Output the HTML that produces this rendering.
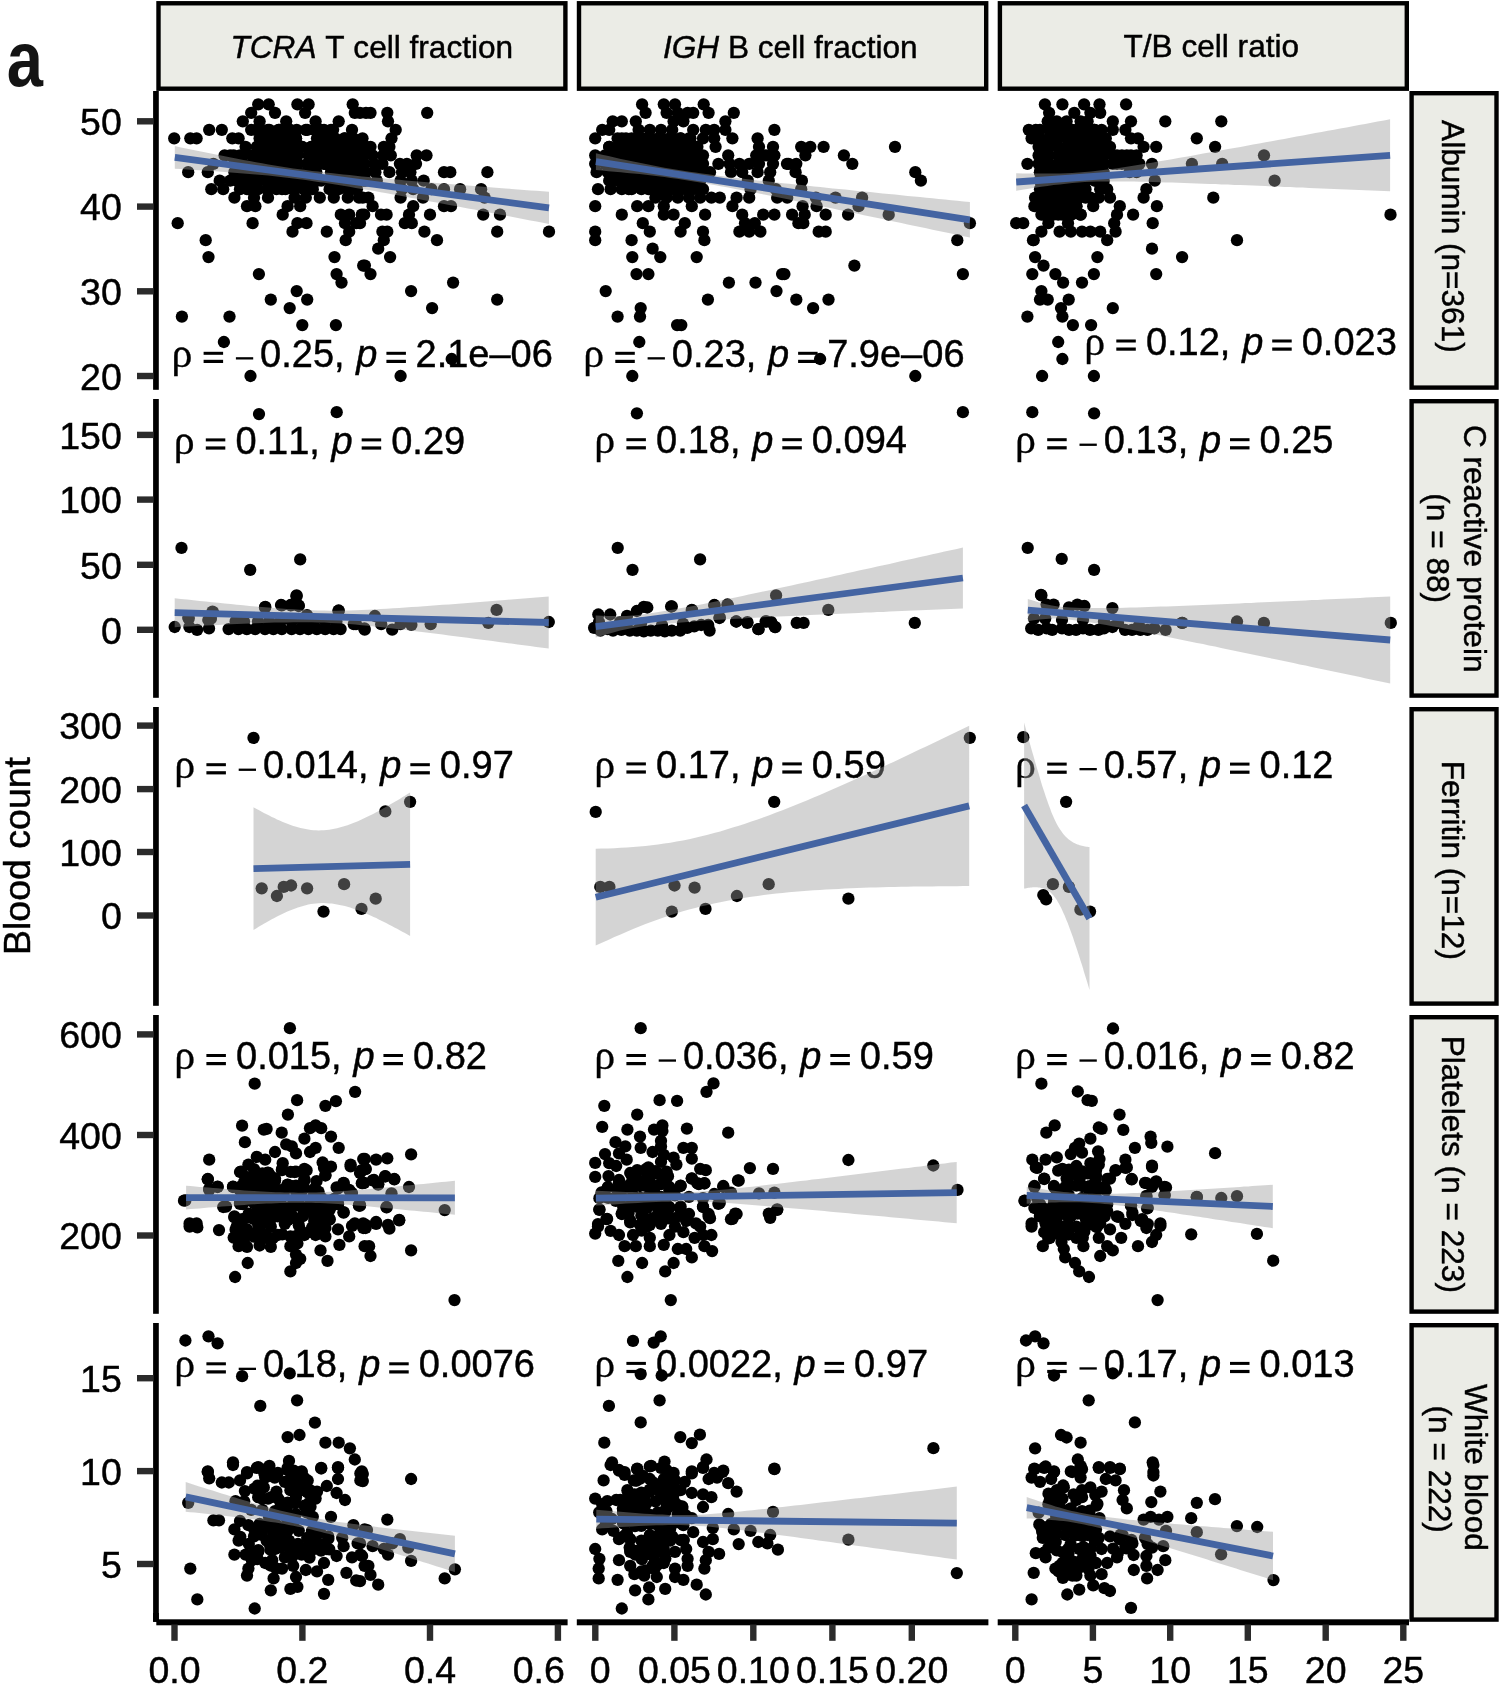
<!DOCTYPE html>
<html><head><meta charset="utf-8"><style>
html,body{margin:0;padding:0;background:#fff;overflow:hidden;}
svg{display:block;font-family:"Liberation Sans", sans-serif;will-change:transform;}
text{fill:#000;stroke:#000;stroke-width:0.45px;font-kerning:none;font-feature-settings:"kern" 0;}
</style></head><body>
<svg width="1500" height="1688" viewBox="0 0 1500 1688">
<rect width="1500" height="1688" fill="#fff"/>
<rect x="158.50" y="3.27" width="406.90" height="85.43" fill="#ebece6" stroke="#000" stroke-width="4.4"/>
<rect x="579.00" y="3.27" width="407.20" height="85.43" fill="#ebece6" stroke="#000" stroke-width="4.4"/>
<rect x="999.90" y="3.27" width="406.90" height="85.43" fill="#ebece6" stroke="#000" stroke-width="4.4"/>
<rect x="1411.60" y="93.20" width="84.90" height="294.40" fill="#ebece6" stroke="#000" stroke-width="4.4"/>
<rect x="1411.60" y="401.20" width="84.90" height="294.40" fill="#ebece6" stroke="#000" stroke-width="4.4"/>
<rect x="1411.60" y="709.20" width="84.90" height="294.40" fill="#ebece6" stroke="#000" stroke-width="4.4"/>
<rect x="1411.60" y="1017.20" width="84.90" height="294.40" fill="#ebece6" stroke="#000" stroke-width="4.4"/>
<rect x="1411.60" y="1325.20" width="84.90" height="294.40" fill="#ebece6" stroke="#000" stroke-width="4.4"/>
<g fill="#000"><circle cx="258.2" cy="104.3" r="6.15"/><circle cx="268.7" cy="104.3" r="6.15"/><circle cx="297.4" cy="104.3" r="6.15"/><circle cx="308.6" cy="104.3" r="6.15"/><circle cx="352.7" cy="104.3" r="6.15"/><circle cx="251.2" cy="112.8" r="6.15"/><circle cx="275.0" cy="112.8" r="6.15"/><circle cx="305.1" cy="112.8" r="6.15"/><circle cx="354.8" cy="112.8" r="6.15"/><circle cx="366.0" cy="112.8" r="6.15"/><circle cx="242.8" cy="121.3" r="6.15"/><circle cx="259.6" cy="121.3" r="6.15"/><circle cx="286.2" cy="121.3" r="6.15"/><circle cx="315.6" cy="121.3" r="6.15"/><circle cx="338.7" cy="121.3" r="6.15"/><circle cx="209.2" cy="129.8" r="6.15"/><circle cx="221.8" cy="129.8" r="6.15"/><circle cx="256.1" cy="129.8" r="6.15"/><circle cx="268.0" cy="129.8" r="6.15"/><circle cx="279.2" cy="129.8" r="6.15"/><circle cx="290.4" cy="129.8" r="6.15"/><circle cx="307.2" cy="129.8" r="6.15"/><circle cx="321.2" cy="129.8" r="6.15"/><circle cx="331.0" cy="129.8" r="6.15"/><circle cx="352.0" cy="129.8" r="6.15"/><circle cx="174.2" cy="138.3" r="6.15"/><circle cx="190.3" cy="138.3" r="6.15"/><circle cx="196.6" cy="138.3" r="6.15"/><circle cx="232.3" cy="138.3" r="6.15"/><circle cx="238.6" cy="138.3" r="6.15"/><circle cx="265.2" cy="138.3" r="6.15"/><circle cx="275.0" cy="138.3" r="6.15"/><circle cx="284.8" cy="138.3" r="6.15"/><circle cx="296.0" cy="138.3" r="6.15"/><circle cx="324.0" cy="138.3" r="6.15"/><circle cx="345.0" cy="138.3" r="6.15"/><circle cx="245.6" cy="146.8" r="6.15"/><circle cx="262.4" cy="146.8" r="6.15"/><circle cx="272.2" cy="146.8" r="6.15"/><circle cx="282.0" cy="146.8" r="6.15"/><circle cx="291.8" cy="146.8" r="6.15"/><circle cx="301.6" cy="146.8" r="6.15"/><circle cx="311.4" cy="146.8" r="6.15"/><circle cx="329.6" cy="146.8" r="6.15"/><circle cx="353.4" cy="146.8" r="6.15"/><circle cx="363.2" cy="146.8" r="6.15"/><circle cx="230.2" cy="155.3" r="6.15"/><circle cx="240.0" cy="155.3" r="6.15"/><circle cx="265.2" cy="155.3" r="6.15"/><circle cx="275.0" cy="155.3" r="6.15"/><circle cx="284.8" cy="155.3" r="6.15"/><circle cx="294.6" cy="155.3" r="6.15"/><circle cx="314.2" cy="155.3" r="6.15"/><circle cx="340.8" cy="155.3" r="6.15"/><circle cx="360.4" cy="155.3" r="6.15"/><circle cx="213.4" cy="163.8" r="6.15"/><circle cx="254.0" cy="163.8" r="6.15"/><circle cx="268.0" cy="163.8" r="6.15"/><circle cx="277.8" cy="163.8" r="6.15"/><circle cx="287.6" cy="163.8" r="6.15"/><circle cx="310.0" cy="163.8" r="6.15"/><circle cx="324.0" cy="163.8" r="6.15"/><circle cx="335.2" cy="163.8" r="6.15"/><circle cx="349.2" cy="163.8" r="6.15"/><circle cx="360.4" cy="163.8" r="6.15"/><circle cx="188.2" cy="172.2" r="6.15"/><circle cx="207.8" cy="172.2" r="6.15"/><circle cx="240.0" cy="172.2" r="6.15"/><circle cx="248.4" cy="172.2" r="6.15"/><circle cx="261.0" cy="172.2" r="6.15"/><circle cx="282.0" cy="172.2" r="6.15"/><circle cx="296.0" cy="172.2" r="6.15"/><circle cx="331.0" cy="172.2" r="6.15"/><circle cx="343.6" cy="172.2" r="6.15"/><circle cx="354.8" cy="172.2" r="6.15"/><circle cx="363.2" cy="172.2" r="6.15"/><circle cx="219.7" cy="180.7" r="6.15"/><circle cx="236.5" cy="180.7" r="6.15"/><circle cx="251.2" cy="180.7" r="6.15"/><circle cx="266.6" cy="180.7" r="6.15"/><circle cx="276.4" cy="180.7" r="6.15"/><circle cx="286.2" cy="180.7" r="6.15"/><circle cx="296.0" cy="180.7" r="6.15"/><circle cx="308.6" cy="180.7" r="6.15"/><circle cx="317.0" cy="180.7" r="6.15"/><circle cx="335.2" cy="180.7" r="6.15"/><circle cx="352.0" cy="180.7" r="6.15"/><circle cx="363.2" cy="180.7" r="6.15"/><circle cx="211.3" cy="189.2" r="6.15"/><circle cx="223.2" cy="189.2" r="6.15"/><circle cx="247.0" cy="189.2" r="6.15"/><circle cx="268.0" cy="189.2" r="6.15"/><circle cx="282.0" cy="189.2" r="6.15"/><circle cx="293.2" cy="189.2" r="6.15"/><circle cx="307.2" cy="189.2" r="6.15"/><circle cx="336.6" cy="189.2" r="6.15"/><circle cx="352.0" cy="189.2" r="6.15"/><circle cx="234.4" cy="197.7" r="6.15"/><circle cx="254.0" cy="197.7" r="6.15"/><circle cx="268.0" cy="197.7" r="6.15"/><circle cx="294.6" cy="197.7" r="6.15"/><circle cx="305.8" cy="197.7" r="6.15"/><circle cx="319.8" cy="197.7" r="6.15"/><circle cx="333.8" cy="197.7" r="6.15"/><circle cx="347.8" cy="197.7" r="6.15"/><circle cx="359.0" cy="197.7" r="6.15"/><circle cx="247.0" cy="206.2" r="6.15"/><circle cx="255.4" cy="206.2" r="6.15"/><circle cx="287.6" cy="206.2" r="6.15"/><circle cx="300.2" cy="206.2" r="6.15"/><circle cx="282.7" cy="214.7" r="6.15"/><circle cx="340.8" cy="214.7" r="6.15"/><circle cx="349.2" cy="214.7" r="6.15"/><circle cx="361.8" cy="214.7" r="6.15"/><circle cx="177.7" cy="223.2" r="6.15"/><circle cx="252.6" cy="223.2" r="6.15"/><circle cx="297.4" cy="223.2" r="6.15"/><circle cx="306.5" cy="223.2" r="6.15"/><circle cx="345.0" cy="223.2" r="6.15"/><circle cx="356.2" cy="223.2" r="6.15"/><circle cx="292.5" cy="231.7" r="6.15"/><circle cx="326.8" cy="231.7" r="6.15"/><circle cx="349.2" cy="231.7" r="6.15"/><circle cx="205.7" cy="240.2" r="6.15"/><circle cx="345.7" cy="240.2" r="6.15"/><circle cx="208.5" cy="257.1" r="6.15"/><circle cx="334.5" cy="257.1" r="6.15"/><circle cx="363.2" cy="265.6" r="6.15"/><circle cx="258.9" cy="274.1" r="6.15"/><circle cx="336.6" cy="274.1" r="6.15"/><circle cx="341.5" cy="282.6" r="6.15"/><circle cx="296.7" cy="291.1" r="6.15"/><circle cx="270.8" cy="299.6" r="6.15"/><circle cx="307.2" cy="299.6" r="6.15"/><circle cx="289.7" cy="308.1" r="6.15"/><circle cx="181.9" cy="316.6" r="6.15"/><circle cx="229.5" cy="316.6" r="6.15"/><circle cx="302.3" cy="325.1" r="6.15"/><circle cx="335.9" cy="325.1" r="6.15"/><circle cx="223.9" cy="342.0" r="6.15"/><circle cx="250.5" cy="376.0" r="6.15"/><circle cx="360.0" cy="112.8" r="6.15"/><circle cx="370.5" cy="112.8" r="6.15"/><circle cx="387.3" cy="112.8" r="6.15"/><circle cx="427.2" cy="112.8" r="6.15"/><circle cx="388.0" cy="121.3" r="6.15"/><circle cx="395.7" cy="129.8" r="6.15"/><circle cx="391.5" cy="138.3" r="6.15"/><circle cx="364.2" cy="146.8" r="6.15"/><circle cx="370.5" cy="146.8" r="6.15"/><circle cx="383.8" cy="146.8" r="6.15"/><circle cx="389.4" cy="146.8" r="6.15"/><circle cx="362.8" cy="155.3" r="6.15"/><circle cx="372.6" cy="155.3" r="6.15"/><circle cx="383.1" cy="155.3" r="6.15"/><circle cx="390.8" cy="155.3" r="6.15"/><circle cx="416.7" cy="155.3" r="6.15"/><circle cx="426.5" cy="155.3" r="6.15"/><circle cx="364.2" cy="163.8" r="6.15"/><circle cx="374.0" cy="163.8" r="6.15"/><circle cx="382.4" cy="163.8" r="6.15"/><circle cx="399.9" cy="163.8" r="6.15"/><circle cx="406.9" cy="163.8" r="6.15"/><circle cx="416.0" cy="163.8" r="6.15"/><circle cx="365.6" cy="172.2" r="6.15"/><circle cx="375.4" cy="172.2" r="6.15"/><circle cx="389.4" cy="172.2" r="6.15"/><circle cx="402.0" cy="172.2" r="6.15"/><circle cx="410.4" cy="172.2" r="6.15"/><circle cx="444.0" cy="172.2" r="6.15"/><circle cx="450.3" cy="172.2" r="6.15"/><circle cx="487.4" cy="172.2" r="6.15"/><circle cx="365.6" cy="180.7" r="6.15"/><circle cx="376.8" cy="180.7" r="6.15"/><circle cx="400.6" cy="180.7" r="6.15"/><circle cx="411.8" cy="180.7" r="6.15"/><circle cx="423.7" cy="180.7" r="6.15"/><circle cx="402.0" cy="189.2" r="6.15"/><circle cx="413.2" cy="189.2" r="6.15"/><circle cx="431.4" cy="189.2" r="6.15"/><circle cx="444.0" cy="189.2" r="6.15"/><circle cx="460.1" cy="189.2" r="6.15"/><circle cx="481.1" cy="189.2" r="6.15"/><circle cx="362.8" cy="197.7" r="6.15"/><circle cx="368.4" cy="197.7" r="6.15"/><circle cx="400.6" cy="197.7" r="6.15"/><circle cx="423.0" cy="197.7" r="6.15"/><circle cx="484.6" cy="197.7" r="6.15"/><circle cx="372.6" cy="206.2" r="6.15"/><circle cx="413.2" cy="206.2" r="6.15"/><circle cx="444.0" cy="206.2" r="6.15"/><circle cx="451.0" cy="206.2" r="6.15"/><circle cx="364.2" cy="214.7" r="6.15"/><circle cx="381.0" cy="214.7" r="6.15"/><circle cx="386.6" cy="214.7" r="6.15"/><circle cx="409.0" cy="214.7" r="6.15"/><circle cx="430.0" cy="214.7" r="6.15"/><circle cx="483.2" cy="214.7" r="6.15"/><circle cx="500.0" cy="214.7" r="6.15"/><circle cx="360.0" cy="223.2" r="6.15"/><circle cx="404.8" cy="223.2" r="6.15"/><circle cx="411.8" cy="223.2" r="6.15"/><circle cx="382.4" cy="231.7" r="6.15"/><circle cx="387.3" cy="231.7" r="6.15"/><circle cx="424.4" cy="231.7" r="6.15"/><circle cx="497.2" cy="231.7" r="6.15"/><circle cx="549.0" cy="231.7" r="6.15"/><circle cx="383.8" cy="240.2" r="6.15"/><circle cx="437.0" cy="240.2" r="6.15"/><circle cx="378.2" cy="248.7" r="6.15"/><circle cx="390.1" cy="257.1" r="6.15"/><circle cx="364.9" cy="265.6" r="6.15"/><circle cx="370.5" cy="274.1" r="6.15"/><circle cx="453.1" cy="282.6" r="6.15"/><circle cx="411.1" cy="291.1" r="6.15"/><circle cx="497.2" cy="299.6" r="6.15"/><circle cx="432.1" cy="308.1" r="6.15"/><circle cx="451.7" cy="359.0" r="6.15"/><circle cx="400.6" cy="376.0" r="6.15"/><circle cx="251.2" cy="129.8" r="6.15"/><circle cx="260.3" cy="129.8" r="6.15"/><circle cx="269.4" cy="129.8" r="6.15"/><circle cx="278.5" cy="129.8" r="6.15"/><circle cx="287.6" cy="129.8" r="6.15"/><circle cx="296.7" cy="129.8" r="6.15"/><circle cx="305.8" cy="129.8" r="6.15"/><circle cx="314.9" cy="129.8" r="6.15"/><circle cx="324.0" cy="129.8" r="6.15"/><circle cx="333.1" cy="129.8" r="6.15"/><circle cx="259.6" cy="138.3" r="6.15"/><circle cx="268.7" cy="138.3" r="6.15"/><circle cx="277.8" cy="138.3" r="6.15"/><circle cx="286.9" cy="138.3" r="6.15"/><circle cx="296.0" cy="138.3" r="6.15"/><circle cx="317.0" cy="138.3" r="6.15"/><circle cx="326.1" cy="138.3" r="6.15"/><circle cx="335.2" cy="138.3" r="6.15"/><circle cx="344.3" cy="138.3" r="6.15"/><circle cx="353.4" cy="138.3" r="6.15"/><circle cx="362.5" cy="138.3" r="6.15"/><circle cx="256.8" cy="146.8" r="6.15"/><circle cx="265.9" cy="146.8" r="6.15"/><circle cx="275.0" cy="146.8" r="6.15"/><circle cx="284.1" cy="146.8" r="6.15"/><circle cx="293.2" cy="146.8" r="6.15"/><circle cx="302.3" cy="146.8" r="6.15"/><circle cx="311.4" cy="146.8" r="6.15"/><circle cx="320.5" cy="146.8" r="6.15"/><circle cx="329.6" cy="146.8" r="6.15"/><circle cx="338.7" cy="146.8" r="6.15"/><circle cx="347.8" cy="146.8" r="6.15"/><circle cx="356.9" cy="146.8" r="6.15"/><circle cx="366.0" cy="146.8" r="6.15"/><circle cx="224.6" cy="155.3" r="6.15"/><circle cx="233.7" cy="155.3" r="6.15"/><circle cx="242.8" cy="155.3" r="6.15"/><circle cx="251.9" cy="155.3" r="6.15"/><circle cx="261.0" cy="155.3" r="6.15"/><circle cx="270.1" cy="155.3" r="6.15"/><circle cx="279.2" cy="155.3" r="6.15"/><circle cx="288.3" cy="155.3" r="6.15"/><circle cx="297.4" cy="155.3" r="6.15"/><circle cx="308.6" cy="155.3" r="6.15"/><circle cx="317.7" cy="155.3" r="6.15"/><circle cx="326.8" cy="155.3" r="6.15"/><circle cx="335.9" cy="155.3" r="6.15"/><circle cx="345.0" cy="155.3" r="6.15"/><circle cx="354.1" cy="155.3" r="6.15"/><circle cx="363.2" cy="155.3" r="6.15"/><circle cx="234.4" cy="163.8" r="6.15"/><circle cx="243.5" cy="163.8" r="6.15"/><circle cx="252.6" cy="163.8" r="6.15"/><circle cx="261.7" cy="163.8" r="6.15"/><circle cx="270.8" cy="163.8" r="6.15"/><circle cx="279.9" cy="163.8" r="6.15"/><circle cx="289.0" cy="163.8" r="6.15"/><circle cx="298.1" cy="163.8" r="6.15"/><circle cx="307.2" cy="163.8" r="6.15"/><circle cx="316.3" cy="163.8" r="6.15"/><circle cx="325.4" cy="163.8" r="6.15"/><circle cx="334.5" cy="163.8" r="6.15"/><circle cx="343.6" cy="163.8" r="6.15"/><circle cx="352.7" cy="163.8" r="6.15"/><circle cx="361.8" cy="163.8" r="6.15"/><circle cx="234.4" cy="172.2" r="6.15"/><circle cx="243.5" cy="172.2" r="6.15"/><circle cx="252.6" cy="172.2" r="6.15"/><circle cx="261.7" cy="172.2" r="6.15"/><circle cx="270.8" cy="172.2" r="6.15"/><circle cx="279.9" cy="172.2" r="6.15"/><circle cx="289.0" cy="172.2" r="6.15"/><circle cx="298.1" cy="172.2" r="6.15"/><circle cx="307.2" cy="172.2" r="6.15"/><circle cx="316.3" cy="172.2" r="6.15"/><circle cx="332.4" cy="172.2" r="6.15"/><circle cx="341.5" cy="172.2" r="6.15"/><circle cx="350.6" cy="172.2" r="6.15"/><circle cx="359.7" cy="172.2" r="6.15"/><circle cx="230.2" cy="180.7" r="6.15"/><circle cx="239.3" cy="180.7" r="6.15"/><circle cx="248.4" cy="180.7" r="6.15"/><circle cx="257.5" cy="180.7" r="6.15"/><circle cx="266.6" cy="180.7" r="6.15"/><circle cx="275.7" cy="180.7" r="6.15"/><circle cx="284.8" cy="180.7" r="6.15"/><circle cx="293.9" cy="180.7" r="6.15"/><circle cx="303.0" cy="180.7" r="6.15"/><circle cx="312.1" cy="180.7" r="6.15"/><circle cx="321.2" cy="180.7" r="6.15"/><circle cx="330.3" cy="180.7" r="6.15"/><circle cx="339.4" cy="180.7" r="6.15"/><circle cx="348.5" cy="180.7" r="6.15"/><circle cx="357.6" cy="180.7" r="6.15"/><circle cx="240.0" cy="189.2" r="6.15"/><circle cx="249.1" cy="189.2" r="6.15"/><circle cx="258.2" cy="189.2" r="6.15"/><circle cx="267.3" cy="189.2" r="6.15"/><circle cx="276.4" cy="189.2" r="6.15"/><circle cx="285.5" cy="189.2" r="6.15"/><circle cx="294.6" cy="189.2" r="6.15"/><circle cx="303.7" cy="189.2" r="6.15"/><circle cx="312.8" cy="189.2" r="6.15"/><circle cx="329.6" cy="189.2" r="6.15"/><circle cx="338.7" cy="189.2" r="6.15"/><circle cx="347.8" cy="189.2" r="6.15"/><circle cx="356.9" cy="189.2" r="6.15"/><circle cx="642.1" cy="104.3" r="6.15"/><circle cx="663.8" cy="104.3" r="6.15"/><circle cx="675.0" cy="104.3" r="6.15"/><circle cx="703.7" cy="104.3" r="6.15"/><circle cx="645.6" cy="112.8" r="6.15"/><circle cx="666.6" cy="112.8" r="6.15"/><circle cx="677.8" cy="112.8" r="6.15"/><circle cx="687.6" cy="112.8" r="6.15"/><circle cx="693.2" cy="112.8" r="6.15"/><circle cx="708.6" cy="112.8" r="6.15"/><circle cx="733.8" cy="112.8" r="6.15"/><circle cx="612.7" cy="121.3" r="6.15"/><circle cx="621.8" cy="121.3" r="6.15"/><circle cx="635.8" cy="121.3" r="6.15"/><circle cx="673.6" cy="121.3" r="6.15"/><circle cx="683.4" cy="121.3" r="6.15"/><circle cx="725.4" cy="121.3" r="6.15"/><circle cx="602.2" cy="129.8" r="6.15"/><circle cx="609.2" cy="129.8" r="6.15"/><circle cx="638.6" cy="129.8" r="6.15"/><circle cx="649.8" cy="129.8" r="6.15"/><circle cx="661.0" cy="129.8" r="6.15"/><circle cx="672.2" cy="129.8" r="6.15"/><circle cx="693.2" cy="129.8" r="6.15"/><circle cx="705.8" cy="129.8" r="6.15"/><circle cx="714.2" cy="129.8" r="6.15"/><circle cx="725.4" cy="129.8" r="6.15"/><circle cx="774.4" cy="129.8" r="6.15"/><circle cx="595.2" cy="138.3" r="6.15"/><circle cx="617.6" cy="138.3" r="6.15"/><circle cx="626.0" cy="138.3" r="6.15"/><circle cx="635.8" cy="138.3" r="6.15"/><circle cx="647.0" cy="138.3" r="6.15"/><circle cx="658.2" cy="138.3" r="6.15"/><circle cx="669.4" cy="138.3" r="6.15"/><circle cx="680.6" cy="138.3" r="6.15"/><circle cx="689.0" cy="138.3" r="6.15"/><circle cx="703.0" cy="138.3" r="6.15"/><circle cx="714.2" cy="138.3" r="6.15"/><circle cx="732.4" cy="138.3" r="6.15"/><circle cx="757.6" cy="138.3" r="6.15"/><circle cx="609.2" cy="146.8" r="6.15"/><circle cx="619.0" cy="146.8" r="6.15"/><circle cx="630.2" cy="146.8" r="6.15"/><circle cx="641.4" cy="146.8" r="6.15"/><circle cx="652.6" cy="146.8" r="6.15"/><circle cx="663.8" cy="146.8" r="6.15"/><circle cx="675.0" cy="146.8" r="6.15"/><circle cx="686.2" cy="146.8" r="6.15"/><circle cx="697.4" cy="146.8" r="6.15"/><circle cx="715.6" cy="146.8" r="6.15"/><circle cx="759.0" cy="146.8" r="6.15"/><circle cx="773.0" cy="146.8" r="6.15"/><circle cx="595.2" cy="155.3" r="6.15"/><circle cx="605.0" cy="155.3" r="6.15"/><circle cx="614.8" cy="155.3" r="6.15"/><circle cx="624.6" cy="155.3" r="6.15"/><circle cx="635.8" cy="155.3" r="6.15"/><circle cx="647.0" cy="155.3" r="6.15"/><circle cx="658.2" cy="155.3" r="6.15"/><circle cx="669.4" cy="155.3" r="6.15"/><circle cx="680.6" cy="155.3" r="6.15"/><circle cx="691.8" cy="155.3" r="6.15"/><circle cx="703.0" cy="155.3" r="6.15"/><circle cx="728.2" cy="155.3" r="6.15"/><circle cx="756.2" cy="155.3" r="6.15"/><circle cx="766.0" cy="155.3" r="6.15"/><circle cx="774.4" cy="155.3" r="6.15"/><circle cx="595.2" cy="163.8" r="6.15"/><circle cx="605.0" cy="163.8" r="6.15"/><circle cx="616.2" cy="163.8" r="6.15"/><circle cx="627.4" cy="163.8" r="6.15"/><circle cx="638.6" cy="163.8" r="6.15"/><circle cx="649.8" cy="163.8" r="6.15"/><circle cx="661.0" cy="163.8" r="6.15"/><circle cx="672.2" cy="163.8" r="6.15"/><circle cx="683.4" cy="163.8" r="6.15"/><circle cx="694.6" cy="163.8" r="6.15"/><circle cx="703.0" cy="163.8" r="6.15"/><circle cx="718.4" cy="163.8" r="6.15"/><circle cx="729.6" cy="163.8" r="6.15"/><circle cx="739.4" cy="163.8" r="6.15"/><circle cx="749.2" cy="163.8" r="6.15"/><circle cx="759.0" cy="163.8" r="6.15"/><circle cx="773.0" cy="163.8" r="6.15"/><circle cx="787.0" cy="163.8" r="6.15"/><circle cx="596.6" cy="172.2" r="6.15"/><circle cx="607.8" cy="172.2" r="6.15"/><circle cx="619.0" cy="172.2" r="6.15"/><circle cx="630.2" cy="172.2" r="6.15"/><circle cx="641.4" cy="172.2" r="6.15"/><circle cx="655.4" cy="172.2" r="6.15"/><circle cx="666.6" cy="172.2" r="6.15"/><circle cx="677.8" cy="172.2" r="6.15"/><circle cx="689.0" cy="172.2" r="6.15"/><circle cx="700.2" cy="172.2" r="6.15"/><circle cx="710.0" cy="172.2" r="6.15"/><circle cx="731.0" cy="172.2" r="6.15"/><circle cx="742.2" cy="172.2" r="6.15"/><circle cx="757.6" cy="172.2" r="6.15"/><circle cx="770.2" cy="172.2" r="6.15"/><circle cx="610.6" cy="180.7" r="6.15"/><circle cx="621.8" cy="180.7" r="6.15"/><circle cx="645.6" cy="180.7" r="6.15"/><circle cx="655.4" cy="180.7" r="6.15"/><circle cx="666.6" cy="180.7" r="6.15"/><circle cx="677.8" cy="180.7" r="6.15"/><circle cx="689.0" cy="180.7" r="6.15"/><circle cx="700.2" cy="180.7" r="6.15"/><circle cx="747.8" cy="180.7" r="6.15"/><circle cx="768.8" cy="180.7" r="6.15"/><circle cx="598.0" cy="189.2" r="6.15"/><circle cx="610.6" cy="189.2" r="6.15"/><circle cx="628.8" cy="189.2" r="6.15"/><circle cx="648.4" cy="189.2" r="6.15"/><circle cx="659.6" cy="189.2" r="6.15"/><circle cx="670.8" cy="189.2" r="6.15"/><circle cx="682.0" cy="189.2" r="6.15"/><circle cx="693.2" cy="189.2" r="6.15"/><circle cx="703.0" cy="189.2" r="6.15"/><circle cx="750.6" cy="189.2" r="6.15"/><circle cx="775.8" cy="189.2" r="6.15"/><circle cx="655.4" cy="197.7" r="6.15"/><circle cx="666.6" cy="197.7" r="6.15"/><circle cx="677.8" cy="197.7" r="6.15"/><circle cx="689.0" cy="197.7" r="6.15"/><circle cx="700.2" cy="197.7" r="6.15"/><circle cx="711.4" cy="197.7" r="6.15"/><circle cx="719.8" cy="197.7" r="6.15"/><circle cx="736.6" cy="197.7" r="6.15"/><circle cx="749.2" cy="197.7" r="6.15"/><circle cx="777.2" cy="197.7" r="6.15"/><circle cx="595.2" cy="206.2" r="6.15"/><circle cx="637.2" cy="206.2" r="6.15"/><circle cx="648.4" cy="206.2" r="6.15"/><circle cx="663.8" cy="206.2" r="6.15"/><circle cx="691.8" cy="206.2" r="6.15"/><circle cx="732.4" cy="206.2" r="6.15"/><circle cx="621.8" cy="214.7" r="6.15"/><circle cx="663.8" cy="214.7" r="6.15"/><circle cx="673.6" cy="214.7" r="6.15"/><circle cx="705.1" cy="214.7" r="6.15"/><circle cx="742.2" cy="214.7" r="6.15"/><circle cx="763.2" cy="214.7" r="6.15"/><circle cx="774.4" cy="214.7" r="6.15"/><circle cx="642.8" cy="223.2" r="6.15"/><circle cx="684.8" cy="223.2" r="6.15"/><circle cx="745.0" cy="223.2" r="6.15"/><circle cx="754.8" cy="223.2" r="6.15"/><circle cx="595.2" cy="231.7" r="6.15"/><circle cx="649.8" cy="231.7" r="6.15"/><circle cx="680.6" cy="231.7" r="6.15"/><circle cx="703.0" cy="231.7" r="6.15"/><circle cx="739.4" cy="231.7" r="6.15"/><circle cx="749.2" cy="231.7" r="6.15"/><circle cx="760.4" cy="231.7" r="6.15"/><circle cx="595.2" cy="240.2" r="6.15"/><circle cx="631.6" cy="240.2" r="6.15"/><circle cx="704.4" cy="240.2" r="6.15"/><circle cx="652.6" cy="248.7" r="6.15"/><circle cx="632.3" cy="257.1" r="6.15"/><circle cx="660.3" cy="257.1" r="6.15"/><circle cx="696.7" cy="257.1" r="6.15"/><circle cx="636.5" cy="274.1" r="6.15"/><circle cx="648.4" cy="274.1" r="6.15"/><circle cx="782.1" cy="274.1" r="6.15"/><circle cx="728.9" cy="282.6" r="6.15"/><circle cx="755.5" cy="282.6" r="6.15"/><circle cx="605.7" cy="291.1" r="6.15"/><circle cx="776.5" cy="291.1" r="6.15"/><circle cx="707.9" cy="299.6" r="6.15"/><circle cx="640.7" cy="308.1" r="6.15"/><circle cx="617.6" cy="316.6" r="6.15"/><circle cx="640.0" cy="316.6" r="6.15"/><circle cx="677.1" cy="325.1" r="6.15"/><circle cx="681.3" cy="325.1" r="6.15"/><circle cx="639.3" cy="342.0" r="6.15"/><circle cx="632.3" cy="376.0" r="6.15"/><circle cx="801.2" cy="146.8" r="6.15"/><circle cx="810.3" cy="146.8" r="6.15"/><circle cx="823.6" cy="146.8" r="6.15"/><circle cx="895.0" cy="146.8" r="6.15"/><circle cx="805.4" cy="155.3" r="6.15"/><circle cx="843.9" cy="155.3" r="6.15"/><circle cx="788.6" cy="163.8" r="6.15"/><circle cx="796.3" cy="163.8" r="6.15"/><circle cx="852.3" cy="163.8" r="6.15"/><circle cx="795.6" cy="172.2" r="6.15"/><circle cx="915.3" cy="172.2" r="6.15"/><circle cx="801.9" cy="180.7" r="6.15"/><circle cx="920.9" cy="180.7" r="6.15"/><circle cx="801.2" cy="189.2" r="6.15"/><circle cx="787.2" cy="197.7" r="6.15"/><circle cx="815.9" cy="197.7" r="6.15"/><circle cx="835.5" cy="197.7" r="6.15"/><circle cx="862.1" cy="197.7" r="6.15"/><circle cx="802.6" cy="206.2" r="6.15"/><circle cx="816.6" cy="206.2" r="6.15"/><circle cx="858.6" cy="206.2" r="6.15"/><circle cx="792.1" cy="214.7" r="6.15"/><circle cx="804.7" cy="214.7" r="6.15"/><circle cx="825.7" cy="214.7" r="6.15"/><circle cx="848.1" cy="214.7" r="6.15"/><circle cx="888.7" cy="214.7" r="6.15"/><circle cx="798.4" cy="223.2" r="6.15"/><circle cx="803.3" cy="223.2" r="6.15"/><circle cx="969.9" cy="223.2" r="6.15"/><circle cx="818.7" cy="231.7" r="6.15"/><circle cx="825.7" cy="231.7" r="6.15"/><circle cx="957.3" cy="240.2" r="6.15"/><circle cx="854.4" cy="265.6" r="6.15"/><circle cx="784.4" cy="274.1" r="6.15"/><circle cx="962.9" cy="274.1" r="6.15"/><circle cx="796.3" cy="299.6" r="6.15"/><circle cx="828.5" cy="299.6" r="6.15"/><circle cx="813.1" cy="308.1" r="6.15"/><circle cx="820.1" cy="359.0" r="6.15"/><circle cx="915.3" cy="376.0" r="6.15"/><circle cx="1044.9" cy="104.3" r="6.15"/><circle cx="1062.4" cy="104.3" r="6.15"/><circle cx="1084.1" cy="104.3" r="6.15"/><circle cx="1099.5" cy="104.3" r="6.15"/><circle cx="1126.1" cy="104.3" r="6.15"/><circle cx="1049.1" cy="112.8" r="6.15"/><circle cx="1074.3" cy="112.8" r="6.15"/><circle cx="1090.4" cy="112.8" r="6.15"/><circle cx="1100.2" cy="112.8" r="6.15"/><circle cx="1047.7" cy="121.3" r="6.15"/><circle cx="1056.8" cy="121.3" r="6.15"/><circle cx="1066.6" cy="121.3" r="6.15"/><circle cx="1080.6" cy="121.3" r="6.15"/><circle cx="1087.6" cy="121.3" r="6.15"/><circle cx="1112.8" cy="121.3" r="6.15"/><circle cx="1131.0" cy="121.3" r="6.15"/><circle cx="1165.3" cy="121.3" r="6.15"/><circle cx="1028.8" cy="129.8" r="6.15"/><circle cx="1035.8" cy="129.8" r="6.15"/><circle cx="1049.8" cy="129.8" r="6.15"/><circle cx="1061.0" cy="129.8" r="6.15"/><circle cx="1072.2" cy="129.8" r="6.15"/><circle cx="1083.4" cy="129.8" r="6.15"/><circle cx="1094.6" cy="129.8" r="6.15"/><circle cx="1101.6" cy="129.8" r="6.15"/><circle cx="1112.8" cy="129.8" r="6.15"/><circle cx="1125.4" cy="129.8" r="6.15"/><circle cx="1031.6" cy="138.3" r="6.15"/><circle cx="1040.0" cy="138.3" r="6.15"/><circle cx="1049.8" cy="138.3" r="6.15"/><circle cx="1068.0" cy="138.3" r="6.15"/><circle cx="1077.8" cy="138.3" r="6.15"/><circle cx="1089.0" cy="138.3" r="6.15"/><circle cx="1105.8" cy="138.3" r="6.15"/><circle cx="1131.0" cy="138.3" r="6.15"/><circle cx="1138.0" cy="138.3" r="6.15"/><circle cx="1196.8" cy="138.3" r="6.15"/><circle cx="1038.6" cy="146.8" r="6.15"/><circle cx="1047.0" cy="146.8" r="6.15"/><circle cx="1058.2" cy="146.8" r="6.15"/><circle cx="1068.0" cy="146.8" r="6.15"/><circle cx="1076.4" cy="146.8" r="6.15"/><circle cx="1084.8" cy="146.8" r="6.15"/><circle cx="1093.2" cy="146.8" r="6.15"/><circle cx="1103.0" cy="146.8" r="6.15"/><circle cx="1110.0" cy="146.8" r="6.15"/><circle cx="1143.6" cy="146.8" r="6.15"/><circle cx="1156.2" cy="146.8" r="6.15"/><circle cx="1038.6" cy="155.3" r="6.15"/><circle cx="1048.4" cy="155.3" r="6.15"/><circle cx="1061.0" cy="155.3" r="6.15"/><circle cx="1070.8" cy="155.3" r="6.15"/><circle cx="1082.0" cy="155.3" r="6.15"/><circle cx="1090.4" cy="155.3" r="6.15"/><circle cx="1100.2" cy="155.3" r="6.15"/><circle cx="1117.0" cy="155.3" r="6.15"/><circle cx="1126.8" cy="155.3" r="6.15"/><circle cx="1136.6" cy="155.3" r="6.15"/><circle cx="1027.4" cy="163.8" r="6.15"/><circle cx="1038.6" cy="163.8" r="6.15"/><circle cx="1048.4" cy="163.8" r="6.15"/><circle cx="1061.0" cy="163.8" r="6.15"/><circle cx="1070.8" cy="163.8" r="6.15"/><circle cx="1082.0" cy="163.8" r="6.15"/><circle cx="1093.2" cy="163.8" r="6.15"/><circle cx="1103.0" cy="163.8" r="6.15"/><circle cx="1117.0" cy="163.8" r="6.15"/><circle cx="1128.2" cy="163.8" r="6.15"/><circle cx="1139.4" cy="163.8" r="6.15"/><circle cx="1152.0" cy="163.8" r="6.15"/><circle cx="1191.9" cy="163.8" r="6.15"/><circle cx="1040.0" cy="172.2" r="6.15"/><circle cx="1051.2" cy="172.2" r="6.15"/><circle cx="1061.0" cy="172.2" r="6.15"/><circle cx="1070.8" cy="172.2" r="6.15"/><circle cx="1082.0" cy="172.2" r="6.15"/><circle cx="1093.2" cy="172.2" r="6.15"/><circle cx="1101.6" cy="172.2" r="6.15"/><circle cx="1129.6" cy="172.2" r="6.15"/><circle cx="1136.6" cy="172.2" r="6.15"/><circle cx="1040.0" cy="180.7" r="6.15"/><circle cx="1051.2" cy="180.7" r="6.15"/><circle cx="1062.4" cy="180.7" r="6.15"/><circle cx="1073.6" cy="180.7" r="6.15"/><circle cx="1084.8" cy="180.7" r="6.15"/><circle cx="1096.0" cy="180.7" r="6.15"/><circle cx="1154.8" cy="180.7" r="6.15"/><circle cx="1041.4" cy="189.2" r="6.15"/><circle cx="1052.6" cy="189.2" r="6.15"/><circle cx="1063.8" cy="189.2" r="6.15"/><circle cx="1075.0" cy="189.2" r="6.15"/><circle cx="1084.8" cy="189.2" r="6.15"/><circle cx="1100.2" cy="189.2" r="6.15"/><circle cx="1107.2" cy="189.2" r="6.15"/><circle cx="1146.4" cy="189.2" r="6.15"/><circle cx="1035.1" cy="197.7" r="6.15"/><circle cx="1045.6" cy="197.7" r="6.15"/><circle cx="1056.8" cy="197.7" r="6.15"/><circle cx="1068.0" cy="197.7" r="6.15"/><circle cx="1079.2" cy="197.7" r="6.15"/><circle cx="1090.4" cy="197.7" r="6.15"/><circle cx="1098.8" cy="197.7" r="6.15"/><circle cx="1110.0" cy="197.7" r="6.15"/><circle cx="1143.6" cy="197.7" r="6.15"/><circle cx="1034.4" cy="206.2" r="6.15"/><circle cx="1051.2" cy="206.2" r="6.15"/><circle cx="1062.4" cy="206.2" r="6.15"/><circle cx="1076.4" cy="206.2" r="6.15"/><circle cx="1093.2" cy="206.2" r="6.15"/><circle cx="1119.8" cy="206.2" r="6.15"/><circle cx="1156.9" cy="206.2" r="6.15"/><circle cx="1041.4" cy="214.7" r="6.15"/><circle cx="1058.2" cy="214.7" r="6.15"/><circle cx="1069.4" cy="214.7" r="6.15"/><circle cx="1080.6" cy="214.7" r="6.15"/><circle cx="1117.0" cy="214.7" r="6.15"/><circle cx="1133.1" cy="214.7" r="6.15"/><circle cx="1016.2" cy="223.2" r="6.15"/><circle cx="1023.2" cy="223.2" r="6.15"/><circle cx="1048.4" cy="223.2" r="6.15"/><circle cx="1068.0" cy="223.2" r="6.15"/><circle cx="1114.2" cy="223.2" r="6.15"/><circle cx="1152.7" cy="223.2" r="6.15"/><circle cx="1041.4" cy="231.7" r="6.15"/><circle cx="1059.6" cy="231.7" r="6.15"/><circle cx="1070.8" cy="231.7" r="6.15"/><circle cx="1082.0" cy="231.7" r="6.15"/><circle cx="1090.4" cy="231.7" r="6.15"/><circle cx="1100.2" cy="231.7" r="6.15"/><circle cx="1115.6" cy="231.7" r="6.15"/><circle cx="1033.0" cy="240.2" r="6.15"/><circle cx="1033.7" cy="240.2" r="6.15"/><circle cx="1107.2" cy="240.2" r="6.15"/><circle cx="1152.0" cy="248.7" r="6.15"/><circle cx="1035.1" cy="257.1" r="6.15"/><circle cx="1097.4" cy="257.1" r="6.15"/><circle cx="1182.1" cy="257.1" r="6.15"/><circle cx="1043.5" cy="265.6" r="6.15"/><circle cx="1032.3" cy="274.1" r="6.15"/><circle cx="1055.4" cy="274.1" r="6.15"/><circle cx="1093.9" cy="274.1" r="6.15"/><circle cx="1156.2" cy="274.1" r="6.15"/><circle cx="1063.1" cy="282.6" r="6.15"/><circle cx="1082.0" cy="282.6" r="6.15"/><circle cx="1041.4" cy="291.1" r="6.15"/><circle cx="1040.0" cy="299.6" r="6.15"/><circle cx="1047.7" cy="299.6" r="6.15"/><circle cx="1068.7" cy="299.6" r="6.15"/><circle cx="1061.0" cy="308.1" r="6.15"/><circle cx="1112.8" cy="308.1" r="6.15"/><circle cx="1027.4" cy="316.6" r="6.15"/><circle cx="1062.4" cy="316.6" r="6.15"/><circle cx="1072.9" cy="325.1" r="6.15"/><circle cx="1091.1" cy="325.1" r="6.15"/><circle cx="1058.2" cy="342.0" r="6.15"/><circle cx="1062.4" cy="359.0" r="6.15"/><circle cx="1042.1" cy="376.0" r="6.15"/><circle cx="1093.9" cy="376.0" r="6.15"/><circle cx="1040.0" cy="129.8" r="6.15"/><circle cx="1049.1" cy="129.8" r="6.15"/><circle cx="1058.2" cy="129.8" r="6.15"/><circle cx="1067.3" cy="129.8" r="6.15"/><circle cx="1076.4" cy="129.8" r="6.15"/><circle cx="1085.5" cy="129.8" r="6.15"/><circle cx="1094.6" cy="129.8" r="6.15"/><circle cx="1040.0" cy="138.3" r="6.15"/><circle cx="1049.1" cy="138.3" r="6.15"/><circle cx="1058.2" cy="138.3" r="6.15"/><circle cx="1067.3" cy="138.3" r="6.15"/><circle cx="1076.4" cy="138.3" r="6.15"/><circle cx="1085.5" cy="138.3" r="6.15"/><circle cx="1094.6" cy="138.3" r="6.15"/><circle cx="1103.7" cy="138.3" r="6.15"/><circle cx="1040.0" cy="146.8" r="6.15"/><circle cx="1049.1" cy="146.8" r="6.15"/><circle cx="1058.2" cy="146.8" r="6.15"/><circle cx="1067.3" cy="146.8" r="6.15"/><circle cx="1076.4" cy="146.8" r="6.15"/><circle cx="1085.5" cy="146.8" r="6.15"/><circle cx="1094.6" cy="146.8" r="6.15"/><circle cx="1103.7" cy="146.8" r="6.15"/><circle cx="1040.0" cy="155.3" r="6.15"/><circle cx="1049.1" cy="155.3" r="6.15"/><circle cx="1058.2" cy="155.3" r="6.15"/><circle cx="1067.3" cy="155.3" r="6.15"/><circle cx="1076.4" cy="155.3" r="6.15"/><circle cx="1085.5" cy="155.3" r="6.15"/><circle cx="1094.6" cy="155.3" r="6.15"/><circle cx="1103.7" cy="155.3" r="6.15"/><circle cx="1112.8" cy="155.3" r="6.15"/><circle cx="1121.9" cy="155.3" r="6.15"/><circle cx="1131.0" cy="155.3" r="6.15"/><circle cx="1040.0" cy="163.8" r="6.15"/><circle cx="1049.1" cy="163.8" r="6.15"/><circle cx="1058.2" cy="163.8" r="6.15"/><circle cx="1067.3" cy="163.8" r="6.15"/><circle cx="1076.4" cy="163.8" r="6.15"/><circle cx="1085.5" cy="163.8" r="6.15"/><circle cx="1094.6" cy="163.8" r="6.15"/><circle cx="1103.7" cy="163.8" r="6.15"/><circle cx="1112.8" cy="163.8" r="6.15"/><circle cx="1121.9" cy="163.8" r="6.15"/><circle cx="1131.0" cy="163.8" r="6.15"/><circle cx="1040.0" cy="172.2" r="6.15"/><circle cx="1049.1" cy="172.2" r="6.15"/><circle cx="1058.2" cy="172.2" r="6.15"/><circle cx="1067.3" cy="172.2" r="6.15"/><circle cx="1076.4" cy="172.2" r="6.15"/><circle cx="1085.5" cy="172.2" r="6.15"/><circle cx="1094.6" cy="172.2" r="6.15"/><circle cx="1103.7" cy="172.2" r="6.15"/><circle cx="1040.0" cy="180.7" r="6.15"/><circle cx="1049.1" cy="180.7" r="6.15"/><circle cx="1058.2" cy="180.7" r="6.15"/><circle cx="1067.3" cy="180.7" r="6.15"/><circle cx="1076.4" cy="180.7" r="6.15"/><circle cx="1085.5" cy="180.7" r="6.15"/><circle cx="1094.6" cy="180.7" r="6.15"/><circle cx="1103.7" cy="180.7" r="6.15"/><circle cx="1040.0" cy="189.2" r="6.15"/><circle cx="1049.1" cy="189.2" r="6.15"/><circle cx="1058.2" cy="189.2" r="6.15"/><circle cx="1067.3" cy="189.2" r="6.15"/><circle cx="1076.4" cy="189.2" r="6.15"/><circle cx="1085.5" cy="189.2" r="6.15"/><circle cx="1040.0" cy="197.7" r="6.15"/><circle cx="1049.1" cy="197.7" r="6.15"/><circle cx="1058.2" cy="197.7" r="6.15"/><circle cx="1067.3" cy="197.7" r="6.15"/><circle cx="1076.4" cy="197.7" r="6.15"/><circle cx="1085.5" cy="197.7" r="6.15"/><circle cx="1040.0" cy="206.2" r="6.15"/><circle cx="1049.1" cy="206.2" r="6.15"/><circle cx="1058.2" cy="206.2" r="6.15"/><circle cx="1067.3" cy="206.2" r="6.15"/><circle cx="1076.4" cy="206.2" r="6.15"/><circle cx="1044.2" cy="214.7" r="6.15"/><circle cx="1053.3" cy="214.7" r="6.15"/><circle cx="1062.4" cy="214.7" r="6.15"/><circle cx="1071.5" cy="214.7" r="6.15"/><circle cx="1080.6" cy="214.7" r="6.15"/><circle cx="1221.3" cy="121.3" r="6.15"/><circle cx="1215.1" cy="146.8" r="6.15"/><circle cx="1264.0" cy="155.3" r="6.15"/><circle cx="1222.2" cy="163.8" r="6.15"/><circle cx="1274.6" cy="180.7" r="6.15"/><circle cx="1213.3" cy="197.7" r="6.15"/><circle cx="1390.5" cy="214.7" r="6.15"/><circle cx="1237.0" cy="240.2" r="6.15"/><circle cx="259.0" cy="414.1" r="6.15"/><circle cx="336.7" cy="412.2" r="6.15"/><circle cx="181.5" cy="547.9" r="6.15"/><circle cx="250.2" cy="569.8" r="6.15"/><circle cx="300.2" cy="559.4" r="6.15"/><circle cx="296.6" cy="595.4" r="6.15"/><circle cx="265.3" cy="606.9" r="6.15"/><circle cx="281.0" cy="605.0" r="6.15"/><circle cx="290.6" cy="605.0" r="6.15"/><circle cx="298.8" cy="605.5" r="6.15"/><circle cx="338.7" cy="610.5" r="6.15"/><circle cx="496.6" cy="609.9" r="6.15"/><circle cx="213.1" cy="612.7" r="6.15"/><circle cx="188.4" cy="617.4" r="6.15"/><circle cx="210.9" cy="618.7" r="6.15"/><circle cx="374.9" cy="616.0" r="6.15"/><circle cx="353.8" cy="624.2" r="6.15"/><circle cx="364.7" cy="629.7" r="6.15"/><circle cx="381.2" cy="624.2" r="6.15"/><circle cx="392.2" cy="629.7" r="6.15"/><circle cx="400.5" cy="624.2" r="6.15"/><circle cx="411.4" cy="624.8" r="6.15"/><circle cx="430.7" cy="624.2" r="6.15"/><circle cx="488.3" cy="622.9" r="6.15"/><circle cx="548.8" cy="622.0" r="6.15"/><circle cx="174.7" cy="627.0" r="6.15"/><circle cx="188.7" cy="618.6" r="6.15"/><circle cx="189.4" cy="627.0" r="6.15"/><circle cx="197.1" cy="629.8" r="6.15"/><circle cx="209.0" cy="628.4" r="6.15"/><circle cx="212.5" cy="611.6" r="6.15"/><circle cx="208.3" cy="620.0" r="6.15"/><circle cx="228.6" cy="629.1" r="6.15"/><circle cx="238.4" cy="629.1" r="6.15"/><circle cx="246.8" cy="629.1" r="6.15"/><circle cx="255.2" cy="629.1" r="6.15"/><circle cx="265.0" cy="629.1" r="6.15"/><circle cx="273.4" cy="629.1" r="6.15"/><circle cx="281.8" cy="629.1" r="6.15"/><circle cx="291.6" cy="629.1" r="6.15"/><circle cx="300.0" cy="629.1" r="6.15"/><circle cx="308.4" cy="629.1" r="6.15"/><circle cx="316.8" cy="629.1" r="6.15"/><circle cx="325.2" cy="629.1" r="6.15"/><circle cx="333.6" cy="629.1" r="6.15"/><circle cx="340.6" cy="629.1" r="6.15"/><circle cx="235.6" cy="621.4" r="6.15"/><circle cx="244.0" cy="621.4" r="6.15"/><circle cx="258.0" cy="621.4" r="6.15"/><circle cx="269.2" cy="621.4" r="6.15"/><circle cx="280.4" cy="621.4" r="6.15"/><circle cx="291.6" cy="621.4" r="6.15"/><circle cx="302.8" cy="621.4" r="6.15"/><circle cx="314.0" cy="621.4" r="6.15"/><circle cx="325.2" cy="621.4" r="6.15"/><circle cx="336.4" cy="621.4" r="6.15"/><circle cx="356.0" cy="624.2" r="6.15"/><circle cx="364.4" cy="628.4" r="6.15"/><circle cx="265.0" cy="607.4" r="6.15"/><circle cx="281.8" cy="605.3" r="6.15"/><circle cx="290.9" cy="605.3" r="6.15"/><circle cx="298.6" cy="606.0" r="6.15"/><circle cx="296.5" cy="596.2" r="6.15"/><circle cx="338.5" cy="610.9" r="6.15"/><circle cx="307.0" cy="615.1" r="6.15"/><circle cx="636.9" cy="413.3" r="6.15"/><circle cx="962.9" cy="412.2" r="6.15"/><circle cx="617.7" cy="547.9" r="6.15"/><circle cx="632.5" cy="569.8" r="6.15"/><circle cx="700.1" cy="559.4" r="6.15"/><circle cx="776.1" cy="595.4" r="6.15"/><circle cx="828.3" cy="609.9" r="6.15"/><circle cx="914.8" cy="622.9" r="6.15"/><circle cx="671.8" cy="606.4" r="6.15"/><circle cx="691.8" cy="609.9" r="6.15"/><circle cx="714.3" cy="605.0" r="6.15"/><circle cx="727.5" cy="604.5" r="6.15"/><circle cx="719.8" cy="617.4" r="6.15"/><circle cx="736.3" cy="621.5" r="6.15"/><circle cx="747.3" cy="622.9" r="6.15"/><circle cx="758.3" cy="629.2" r="6.15"/><circle cx="766.5" cy="621.5" r="6.15"/><circle cx="774.8" cy="627.0" r="6.15"/><circle cx="796.7" cy="622.9" r="6.15"/><circle cx="803.6" cy="622.9" r="6.15"/><circle cx="598.3" cy="614.5" r="6.15"/><circle cx="610.2" cy="614.5" r="6.15"/><circle cx="627.0" cy="615.9" r="6.15"/><circle cx="636.8" cy="611.0" r="6.15"/><circle cx="643.8" cy="606.8" r="6.15"/><circle cx="647.3" cy="607.5" r="6.15"/><circle cx="671.1" cy="606.5" r="6.15"/><circle cx="692.1" cy="610.3" r="6.15"/><circle cx="714.5" cy="605.4" r="6.15"/><circle cx="727.8" cy="605.4" r="6.15"/><circle cx="719.4" cy="618.0" r="6.15"/><circle cx="594.1" cy="627.8" r="6.15"/><circle cx="600.4" cy="630.6" r="6.15"/><circle cx="607.4" cy="629.2" r="6.15"/><circle cx="613.0" cy="630.6" r="6.15"/><circle cx="621.4" cy="629.9" r="6.15"/><circle cx="629.8" cy="630.6" r="6.15"/><circle cx="636.8" cy="630.6" r="6.15"/><circle cx="643.8" cy="631.3" r="6.15"/><circle cx="650.8" cy="630.6" r="6.15"/><circle cx="657.8" cy="630.6" r="6.15"/><circle cx="664.8" cy="631.3" r="6.15"/><circle cx="671.8" cy="630.6" r="6.15"/><circle cx="680.2" cy="630.6" r="6.15"/><circle cx="687.2" cy="627.8" r="6.15"/><circle cx="694.2" cy="626.4" r="6.15"/><circle cx="701.2" cy="625.0" r="6.15"/><circle cx="708.2" cy="625.0" r="6.15"/><circle cx="709.6" cy="630.6" r="6.15"/><circle cx="599.0" cy="622.2" r="6.15"/><circle cx="620.0" cy="622.2" r="6.15"/><circle cx="641.0" cy="623.6" r="6.15"/><circle cx="662.0" cy="625.0" r="6.15"/><circle cx="683.0" cy="623.6" r="6.15"/><circle cx="736.2" cy="621.5" r="6.15"/><circle cx="747.4" cy="622.2" r="6.15"/><circle cx="758.6" cy="629.2" r="6.15"/><circle cx="765.6" cy="621.5" r="6.15"/><circle cx="771.2" cy="622.2" r="6.15"/><circle cx="775.4" cy="627.1" r="6.15"/><circle cx="1032.3" cy="412.2" r="6.15"/><circle cx="1094.1" cy="413.3" r="6.15"/><circle cx="1027.7" cy="547.9" r="6.15"/><circle cx="1061.7" cy="558.9" r="6.15"/><circle cx="1094.1" cy="569.8" r="6.15"/><circle cx="1041.4" cy="595.4" r="6.15"/><circle cx="1182.0" cy="622.9" r="6.15"/><circle cx="1237.0" cy="621.5" r="6.15"/><circle cx="1263.9" cy="622.9" r="6.15"/><circle cx="1390.8" cy="622.9" r="6.15"/><circle cx="1041.0" cy="594.8" r="6.15"/><circle cx="1046.6" cy="604.6" r="6.15"/><circle cx="1053.6" cy="604.6" r="6.15"/><circle cx="1069.0" cy="607.4" r="6.15"/><circle cx="1077.4" cy="604.6" r="6.15"/><circle cx="1084.4" cy="606.0" r="6.15"/><circle cx="1112.4" cy="608.1" r="6.15"/><circle cx="1182.4" cy="622.8" r="6.15"/><circle cx="1031.2" cy="628.4" r="6.15"/><circle cx="1038.2" cy="629.8" r="6.15"/><circle cx="1046.6" cy="628.4" r="6.15"/><circle cx="1052.2" cy="629.8" r="6.15"/><circle cx="1062.0" cy="628.4" r="6.15"/><circle cx="1069.0" cy="629.8" r="6.15"/><circle cx="1076.0" cy="629.8" r="6.15"/><circle cx="1083.0" cy="628.4" r="6.15"/><circle cx="1090.0" cy="629.8" r="6.15"/><circle cx="1098.4" cy="629.8" r="6.15"/><circle cx="1104.0" cy="628.4" r="6.15"/><circle cx="1112.4" cy="627.0" r="6.15"/><circle cx="1125.0" cy="629.8" r="6.15"/><circle cx="1132.0" cy="629.8" r="6.15"/><circle cx="1140.4" cy="629.8" r="6.15"/><circle cx="1147.4" cy="629.8" r="6.15"/><circle cx="1154.4" cy="628.4" r="6.15"/><circle cx="1165.6" cy="629.8" r="6.15"/><circle cx="1034.0" cy="618.6" r="6.15"/><circle cx="1045.2" cy="618.6" r="6.15"/><circle cx="1062.0" cy="620.0" r="6.15"/><circle cx="1083.0" cy="620.0" r="6.15"/><circle cx="1104.0" cy="621.4" r="6.15"/><circle cx="1118.0" cy="622.8" r="6.15"/><circle cx="1139.0" cy="625.6" r="6.15"/><circle cx="253.5" cy="737.8" r="6.15"/><circle cx="385.3" cy="811.4" r="6.15"/><circle cx="410.1" cy="801.8" r="6.15"/><circle cx="261.7" cy="888.3" r="6.15"/><circle cx="276.9" cy="896.0" r="6.15"/><circle cx="283.7" cy="886.9" r="6.15"/><circle cx="291.1" cy="885.5" r="6.15"/><circle cx="307.1" cy="888.3" r="6.15"/><circle cx="344.1" cy="884.2" r="6.15"/><circle cx="323.5" cy="911.6" r="6.15"/><circle cx="361.5" cy="908.9" r="6.15"/><circle cx="375.7" cy="898.7" r="6.15"/><circle cx="595.7" cy="811.9" r="6.15"/><circle cx="600.3" cy="886.9" r="6.15"/><circle cx="609.4" cy="886.9" r="6.15"/><circle cx="674.5" cy="885.5" r="6.15"/><circle cx="694.6" cy="887.7" r="6.15"/><circle cx="671.8" cy="911.6" r="6.15"/><circle cx="705.5" cy="908.9" r="6.15"/><circle cx="736.9" cy="896.0" r="6.15"/><circle cx="768.7" cy="884.2" r="6.15"/><circle cx="774.2" cy="801.8" r="6.15"/><circle cx="848.4" cy="898.7" r="6.15"/><circle cx="969.8" cy="737.8" r="6.15"/><circle cx="1023.3" cy="737.2" r="6.15"/><circle cx="1066.1" cy="801.8" r="6.15"/><circle cx="1052.9" cy="884.2" r="6.15"/><circle cx="1068.9" cy="886.9" r="6.15"/><circle cx="1043.3" cy="895.1" r="6.15"/><circle cx="1046.1" cy="899.3" r="6.15"/><circle cx="1080.4" cy="909.7" r="6.15"/><circle cx="1090.0" cy="911.6" r="6.15"/><circle cx="283.4" cy="1211.8" r="6.15"/><circle cx="328.7" cy="1204.3" r="6.15"/><circle cx="288.8" cy="1214.0" r="6.15"/><circle cx="257.7" cy="1208.0" r="6.15"/><circle cx="300.5" cy="1230.4" r="6.15"/><circle cx="249.0" cy="1191.3" r="6.15"/><circle cx="306.6" cy="1170.4" r="6.15"/><circle cx="302.8" cy="1216.2" r="6.15"/><circle cx="290.7" cy="1171.8" r="6.15"/><circle cx="258.3" cy="1186.4" r="6.15"/><circle cx="242.9" cy="1204.1" r="6.15"/><circle cx="282.3" cy="1234.4" r="6.15"/><circle cx="289.8" cy="1218.2" r="6.15"/><circle cx="288.0" cy="1220.0" r="6.15"/><circle cx="283.9" cy="1189.3" r="6.15"/><circle cx="320.7" cy="1223.6" r="6.15"/><circle cx="270.3" cy="1185.4" r="6.15"/><circle cx="267.7" cy="1172.6" r="6.15"/><circle cx="313.6" cy="1199.0" r="6.15"/><circle cx="321.3" cy="1197.9" r="6.15"/><circle cx="327.4" cy="1204.6" r="6.15"/><circle cx="334.1" cy="1198.8" r="6.15"/><circle cx="247.0" cy="1217.4" r="6.15"/><circle cx="314.7" cy="1188.6" r="6.15"/><circle cx="248.4" cy="1193.6" r="6.15"/><circle cx="251.3" cy="1186.7" r="6.15"/><circle cx="316.5" cy="1181.2" r="6.15"/><circle cx="293.7" cy="1202.8" r="6.15"/><circle cx="258.3" cy="1225.6" r="6.15"/><circle cx="252.6" cy="1218.5" r="6.15"/><circle cx="251.2" cy="1200.7" r="6.15"/><circle cx="260.4" cy="1188.6" r="6.15"/><circle cx="269.2" cy="1237.8" r="6.15"/><circle cx="260.2" cy="1198.5" r="6.15"/><circle cx="322.0" cy="1218.3" r="6.15"/><circle cx="260.5" cy="1187.7" r="6.15"/><circle cx="314.2" cy="1193.3" r="6.15"/><circle cx="268.4" cy="1172.9" r="6.15"/><circle cx="248.7" cy="1213.6" r="6.15"/><circle cx="263.3" cy="1215.1" r="6.15"/><circle cx="275.7" cy="1203.3" r="6.15"/><circle cx="332.1" cy="1205.7" r="6.15"/><circle cx="295.2" cy="1236.3" r="6.15"/><circle cx="257.6" cy="1179.3" r="6.15"/><circle cx="264.0" cy="1182.2" r="6.15"/><circle cx="289.9" cy="1028.2" r="6.15"/><circle cx="254.7" cy="1083.7" r="6.15"/><circle cx="297.1" cy="1100.2" r="6.15"/><circle cx="325.4" cy="1105.8" r="6.15"/><circle cx="335.9" cy="1101.2" r="6.15"/><circle cx="355.1" cy="1091.8" r="6.15"/><circle cx="287.9" cy="1114.6" r="6.15"/><circle cx="242.1" cy="1125.7" r="6.15"/><circle cx="263.8" cy="1129.6" r="6.15"/><circle cx="266.6" cy="1128.9" r="6.15"/><circle cx="281.7" cy="1132.7" r="6.15"/><circle cx="310.0" cy="1128.2" r="6.15"/><circle cx="315.6" cy="1125.4" r="6.15"/><circle cx="321.2" cy="1128.2" r="6.15"/><circle cx="244.9" cy="1142.2" r="6.15"/><circle cx="286.2" cy="1144.3" r="6.15"/><circle cx="291.8" cy="1146.4" r="6.15"/><circle cx="304.4" cy="1138.7" r="6.15"/><circle cx="331.0" cy="1136.6" r="6.15"/><circle cx="338.7" cy="1147.8" r="6.15"/><circle cx="310.0" cy="1152.0" r="6.15"/><circle cx="315.6" cy="1147.8" r="6.15"/><circle cx="275.0" cy="1152.0" r="6.15"/><circle cx="296.0" cy="1153.4" r="6.15"/><circle cx="209.2" cy="1159.7" r="6.15"/><circle cx="256.8" cy="1156.9" r="6.15"/><circle cx="265.2" cy="1159.7" r="6.15"/><circle cx="248.4" cy="1164.6" r="6.15"/><circle cx="241.4" cy="1171.6" r="6.15"/><circle cx="282.7" cy="1163.2" r="6.15"/><circle cx="282.0" cy="1170.2" r="6.15"/><circle cx="296.0" cy="1171.6" r="6.15"/><circle cx="304.4" cy="1168.8" r="6.15"/><circle cx="322.6" cy="1162.5" r="6.15"/><circle cx="331.0" cy="1166.7" r="6.15"/><circle cx="325.4" cy="1175.1" r="6.15"/><circle cx="350.6" cy="1164.6" r="6.15"/><circle cx="363.2" cy="1159.0" r="6.15"/><circle cx="361.8" cy="1170.2" r="6.15"/><circle cx="207.8" cy="1179.3" r="6.15"/><circle cx="217.6" cy="1187.0" r="6.15"/><circle cx="233.0" cy="1187.0" r="6.15"/><circle cx="247.0" cy="1177.2" r="6.15"/><circle cx="256.8" cy="1173.0" r="6.15"/><circle cx="268.0" cy="1175.8" r="6.15"/><circle cx="275.0" cy="1178.6" r="6.15"/><circle cx="287.6" cy="1184.9" r="6.15"/><circle cx="296.0" cy="1185.6" r="6.15"/><circle cx="304.4" cy="1179.3" r="6.15"/><circle cx="343.6" cy="1182.8" r="6.15"/><circle cx="363.2" cy="1182.8" r="6.15"/><circle cx="338.0" cy="1188.4" r="6.15"/><circle cx="209.2" cy="1189.8" r="6.15"/><circle cx="240.0" cy="1187.0" r="6.15"/><circle cx="254.0" cy="1187.0" r="6.15"/><circle cx="265.2" cy="1187.0" r="6.15"/><circle cx="276.4" cy="1189.8" r="6.15"/><circle cx="296.0" cy="1189.8" r="6.15"/><circle cx="304.4" cy="1188.4" r="6.15"/><circle cx="318.4" cy="1192.6" r="6.15"/><circle cx="349.2" cy="1189.8" r="6.15"/><circle cx="185.4" cy="1200.3" r="6.15"/><circle cx="226.0" cy="1206.6" r="6.15"/><circle cx="240.0" cy="1203.8" r="6.15"/><circle cx="256.8" cy="1205.2" r="6.15"/><circle cx="268.0" cy="1208.0" r="6.15"/><circle cx="279.2" cy="1206.6" r="6.15"/><circle cx="290.4" cy="1206.6" r="6.15"/><circle cx="301.6" cy="1206.6" r="6.15"/><circle cx="312.8" cy="1206.6" r="6.15"/><circle cx="324.0" cy="1208.0" r="6.15"/><circle cx="338.0" cy="1203.8" r="6.15"/><circle cx="359.0" cy="1205.2" r="6.15"/><circle cx="234.4" cy="1216.4" r="6.15"/><circle cx="242.8" cy="1219.2" r="6.15"/><circle cx="254.0" cy="1215.0" r="6.15"/><circle cx="266.6" cy="1215.0" r="6.15"/><circle cx="277.8" cy="1216.4" r="6.15"/><circle cx="289.0" cy="1213.6" r="6.15"/><circle cx="303.0" cy="1215.0" r="6.15"/><circle cx="314.2" cy="1216.4" r="6.15"/><circle cx="329.6" cy="1219.2" r="6.15"/><circle cx="343.6" cy="1212.2" r="6.15"/><circle cx="189.6" cy="1223.4" r="6.15"/><circle cx="196.6" cy="1223.4" r="6.15"/><circle cx="261.0" cy="1223.4" r="6.15"/><circle cx="269.4" cy="1223.4" r="6.15"/><circle cx="354.8" cy="1223.4" r="6.15"/><circle cx="363.2" cy="1223.4" r="6.15"/><circle cx="240.0" cy="1172.0" r="6.15"/><circle cx="254.0" cy="1169.2" r="6.15"/><circle cx="262.4" cy="1173.4" r="6.15"/><circle cx="270.8" cy="1176.2" r="6.15"/><circle cx="282.0" cy="1169.2" r="6.15"/><circle cx="294.6" cy="1172.0" r="6.15"/><circle cx="304.4" cy="1170.6" r="6.15"/><circle cx="304.4" cy="1180.4" r="6.15"/><circle cx="324.0" cy="1167.8" r="6.15"/><circle cx="325.4" cy="1175.5" r="6.15"/><circle cx="350.6" cy="1166.4" r="6.15"/><circle cx="361.8" cy="1170.6" r="6.15"/><circle cx="207.8" cy="1179.0" r="6.15"/><circle cx="217.6" cy="1186.7" r="6.15"/><circle cx="233.0" cy="1186.7" r="6.15"/><circle cx="244.2" cy="1181.8" r="6.15"/><circle cx="256.8" cy="1181.8" r="6.15"/><circle cx="275.0" cy="1180.4" r="6.15"/><circle cx="287.6" cy="1184.6" r="6.15"/><circle cx="298.8" cy="1187.4" r="6.15"/><circle cx="343.6" cy="1183.2" r="6.15"/><circle cx="361.8" cy="1183.2" r="6.15"/><circle cx="336.6" cy="1187.4" r="6.15"/><circle cx="209.2" cy="1188.8" r="6.15"/><circle cx="240.0" cy="1190.2" r="6.15"/><circle cx="254.0" cy="1193.0" r="6.15"/><circle cx="268.0" cy="1191.6" r="6.15"/><circle cx="282.0" cy="1190.2" r="6.15"/><circle cx="296.0" cy="1191.6" r="6.15"/><circle cx="318.4" cy="1191.6" r="6.15"/><circle cx="352.0" cy="1193.0" r="6.15"/><circle cx="184.0" cy="1200.7" r="6.15"/><circle cx="223.2" cy="1207.0" r="6.15"/><circle cx="240.0" cy="1202.8" r="6.15"/><circle cx="254.0" cy="1202.8" r="6.15"/><circle cx="268.0" cy="1204.2" r="6.15"/><circle cx="282.0" cy="1205.6" r="6.15"/><circle cx="296.0" cy="1205.6" r="6.15"/><circle cx="310.0" cy="1204.2" r="6.15"/><circle cx="324.0" cy="1205.6" r="6.15"/><circle cx="338.0" cy="1204.2" r="6.15"/><circle cx="359.0" cy="1205.6" r="6.15"/><circle cx="234.4" cy="1217.5" r="6.15"/><circle cx="241.4" cy="1219.6" r="6.15"/><circle cx="254.0" cy="1214.7" r="6.15"/><circle cx="268.0" cy="1214.0" r="6.15"/><circle cx="279.2" cy="1212.6" r="6.15"/><circle cx="290.4" cy="1214.0" r="6.15"/><circle cx="304.4" cy="1211.2" r="6.15"/><circle cx="315.6" cy="1211.2" r="6.15"/><circle cx="329.6" cy="1209.8" r="6.15"/><circle cx="343.6" cy="1212.6" r="6.15"/><circle cx="314.2" cy="1221.0" r="6.15"/><circle cx="329.6" cy="1219.6" r="6.15"/><circle cx="189.6" cy="1226.6" r="6.15"/><circle cx="197.3" cy="1227.3" r="6.15"/><circle cx="219.0" cy="1230.1" r="6.15"/><circle cx="237.2" cy="1227.3" r="6.15"/><circle cx="259.6" cy="1226.6" r="6.15"/><circle cx="270.8" cy="1226.6" r="6.15"/><circle cx="284.8" cy="1223.8" r="6.15"/><circle cx="298.8" cy="1225.2" r="6.15"/><circle cx="325.4" cy="1228.0" r="6.15"/><circle cx="338.0" cy="1229.4" r="6.15"/><circle cx="352.0" cy="1225.9" r="6.15"/><circle cx="363.2" cy="1228.0" r="6.15"/><circle cx="242.8" cy="1235.0" r="6.15"/><circle cx="256.8" cy="1232.2" r="6.15"/><circle cx="265.2" cy="1237.8" r="6.15"/><circle cx="277.8" cy="1235.0" r="6.15"/><circle cx="290.4" cy="1236.4" r="6.15"/><circle cx="304.4" cy="1235.0" r="6.15"/><circle cx="315.6" cy="1235.0" r="6.15"/><circle cx="325.4" cy="1236.4" r="6.15"/><circle cx="349.2" cy="1236.4" r="6.15"/><circle cx="238.6" cy="1246.2" r="6.15"/><circle cx="247.0" cy="1246.9" r="6.15"/><circle cx="259.6" cy="1245.5" r="6.15"/><circle cx="270.8" cy="1246.9" r="6.15"/><circle cx="290.4" cy="1246.2" r="6.15"/><circle cx="297.4" cy="1243.4" r="6.15"/><circle cx="339.4" cy="1244.8" r="6.15"/><circle cx="364.6" cy="1246.2" r="6.15"/><circle cx="296.0" cy="1254.6" r="6.15"/><circle cx="300.2" cy="1258.8" r="6.15"/><circle cx="320.5" cy="1250.4" r="6.15"/><circle cx="327.5" cy="1260.9" r="6.15"/><circle cx="296.0" cy="1263.0" r="6.15"/><circle cx="247.7" cy="1263.0" r="6.15"/><circle cx="290.4" cy="1271.4" r="6.15"/><circle cx="235.1" cy="1277.0" r="6.15"/><circle cx="364.9" cy="1159.0" r="6.15"/><circle cx="376.1" cy="1159.7" r="6.15"/><circle cx="387.3" cy="1158.3" r="6.15"/><circle cx="411.1" cy="1154.4" r="6.15"/><circle cx="365.6" cy="1168.8" r="6.15"/><circle cx="360.0" cy="1173.0" r="6.15"/><circle cx="385.2" cy="1176.5" r="6.15"/><circle cx="394.3" cy="1179.3" r="6.15"/><circle cx="374.0" cy="1180.0" r="6.15"/><circle cx="364.2" cy="1182.8" r="6.15"/><circle cx="378.2" cy="1184.2" r="6.15"/><circle cx="409.0" cy="1187.0" r="6.15"/><circle cx="391.5" cy="1193.3" r="6.15"/><circle cx="360.0" cy="1205.2" r="6.15"/><circle cx="386.6" cy="1207.3" r="6.15"/><circle cx="444.7" cy="1210.1" r="6.15"/><circle cx="376.1" cy="1222.0" r="6.15"/><circle cx="399.2" cy="1219.9" r="6.15"/><circle cx="365.6" cy="1224.8" r="6.15"/><circle cx="388.0" cy="1224.9" r="6.15"/><circle cx="365.6" cy="1169.2" r="6.15"/><circle cx="385.2" cy="1176.2" r="6.15"/><circle cx="394.3" cy="1179.0" r="6.15"/><circle cx="372.6" cy="1180.4" r="6.15"/><circle cx="362.8" cy="1183.2" r="6.15"/><circle cx="378.2" cy="1184.6" r="6.15"/><circle cx="360.0" cy="1205.6" r="6.15"/><circle cx="386.6" cy="1207.0" r="6.15"/><circle cx="365.6" cy="1228.0" r="6.15"/><circle cx="376.1" cy="1223.8" r="6.15"/><circle cx="389.4" cy="1228.7" r="6.15"/><circle cx="399.2" cy="1220.3" r="6.15"/><circle cx="369.1" cy="1246.2" r="6.15"/><circle cx="370.5" cy="1256.0" r="6.15"/><circle cx="411.1" cy="1250.4" r="6.15"/><circle cx="454.5" cy="1300.1" r="6.15"/><circle cx="253.7" cy="1236.7" r="6.15"/><circle cx="263.3" cy="1221.3" r="6.15"/><circle cx="243.7" cy="1241.3" r="6.15"/><circle cx="264.5" cy="1235.0" r="6.15"/><circle cx="257.9" cy="1236.8" r="6.15"/><circle cx="237.3" cy="1230.2" r="6.15"/><circle cx="233.7" cy="1237.6" r="6.15"/><circle cx="246.8" cy="1229.1" r="6.15"/><circle cx="255.4" cy="1219.7" r="6.15"/><circle cx="235.6" cy="1229.7" r="6.15"/><circle cx="236.8" cy="1226.4" r="6.15"/><circle cx="261.1" cy="1221.9" r="6.15"/><circle cx="640.7" cy="1028.2" r="6.15"/><circle cx="713.5" cy="1083.4" r="6.15"/><circle cx="706.5" cy="1091.8" r="6.15"/><circle cx="604.3" cy="1105.8" r="6.15"/><circle cx="659.6" cy="1100.2" r="6.15"/><circle cx="677.1" cy="1100.9" r="6.15"/><circle cx="637.2" cy="1114.6" r="6.15"/><circle cx="602.2" cy="1126.8" r="6.15"/><circle cx="627.4" cy="1129.6" r="6.15"/><circle cx="654.0" cy="1129.6" r="6.15"/><circle cx="662.4" cy="1125.4" r="6.15"/><circle cx="662.4" cy="1131.0" r="6.15"/><circle cx="686.9" cy="1128.6" r="6.15"/><circle cx="728.2" cy="1132.7" r="6.15"/><circle cx="640.0" cy="1136.6" r="6.15"/><circle cx="661.0" cy="1140.8" r="6.15"/><circle cx="615.5" cy="1142.2" r="6.15"/><circle cx="625.3" cy="1146.4" r="6.15"/><circle cx="640.7" cy="1147.8" r="6.15"/><circle cx="683.4" cy="1147.8" r="6.15"/><circle cx="691.8" cy="1147.8" r="6.15"/><circle cx="661.0" cy="1146.4" r="6.15"/><circle cx="605.0" cy="1154.1" r="6.15"/><circle cx="619.0" cy="1153.4" r="6.15"/><circle cx="652.6" cy="1152.0" r="6.15"/><circle cx="663.8" cy="1154.8" r="6.15"/><circle cx="673.6" cy="1157.6" r="6.15"/><circle cx="691.8" cy="1158.7" r="6.15"/><circle cx="595.2" cy="1162.9" r="6.15"/><circle cx="609.2" cy="1163.2" r="6.15"/><circle cx="626.7" cy="1159.7" r="6.15"/><circle cx="616.2" cy="1166.0" r="6.15"/><circle cx="676.4" cy="1164.6" r="6.15"/><circle cx="661.0" cy="1161.8" r="6.15"/><circle cx="700.2" cy="1168.8" r="6.15"/><circle cx="705.8" cy="1170.2" r="6.15"/><circle cx="749.9" cy="1168.1" r="6.15"/><circle cx="773.0" cy="1168.8" r="6.15"/><circle cx="595.2" cy="1176.9" r="6.15"/><circle cx="608.5" cy="1176.1" r="6.15"/><circle cx="619.0" cy="1180.0" r="6.15"/><circle cx="630.2" cy="1173.0" r="6.15"/><circle cx="637.2" cy="1170.2" r="6.15"/><circle cx="648.4" cy="1167.4" r="6.15"/><circle cx="655.4" cy="1173.0" r="6.15"/><circle cx="666.6" cy="1171.6" r="6.15"/><circle cx="691.8" cy="1178.6" r="6.15"/><circle cx="698.8" cy="1184.2" r="6.15"/><circle cx="704.4" cy="1183.5" r="6.15"/><circle cx="680.6" cy="1185.6" r="6.15"/><circle cx="738.7" cy="1180.7" r="6.15"/><circle cx="723.3" cy="1187.0" r="6.15"/><circle cx="607.8" cy="1187.0" r="6.15"/><circle cx="619.0" cy="1187.0" r="6.15"/><circle cx="630.2" cy="1184.2" r="6.15"/><circle cx="641.4" cy="1181.4" r="6.15"/><circle cx="649.8" cy="1181.4" r="6.15"/><circle cx="661.0" cy="1184.2" r="6.15"/><circle cx="669.4" cy="1187.0" r="6.15"/><circle cx="599.4" cy="1198.2" r="6.15"/><circle cx="616.2" cy="1198.2" r="6.15"/><circle cx="633.0" cy="1195.4" r="6.15"/><circle cx="647.0" cy="1198.2" r="6.15"/><circle cx="661.0" cy="1196.8" r="6.15"/><circle cx="675.0" cy="1195.4" r="6.15"/><circle cx="689.0" cy="1196.8" r="6.15"/><circle cx="703.0" cy="1198.2" r="6.15"/><circle cx="714.2" cy="1194.0" r="6.15"/><circle cx="731.0" cy="1192.6" r="6.15"/><circle cx="759.0" cy="1193.3" r="6.15"/><circle cx="774.4" cy="1192.6" r="6.15"/><circle cx="599.4" cy="1209.4" r="6.15"/><circle cx="621.8" cy="1213.6" r="6.15"/><circle cx="635.8" cy="1206.6" r="6.15"/><circle cx="647.0" cy="1208.0" r="6.15"/><circle cx="658.2" cy="1209.4" r="6.15"/><circle cx="669.4" cy="1208.0" r="6.15"/><circle cx="680.6" cy="1206.6" r="6.15"/><circle cx="703.0" cy="1206.6" r="6.15"/><circle cx="718.4" cy="1203.8" r="6.15"/><circle cx="735.2" cy="1213.6" r="6.15"/><circle cx="768.8" cy="1213.6" r="6.15"/><circle cx="777.2" cy="1209.4" r="6.15"/><circle cx="606.4" cy="1219.2" r="6.15"/><circle cx="630.2" cy="1220.6" r="6.15"/><circle cx="642.8" cy="1216.4" r="6.15"/><circle cx="655.4" cy="1219.2" r="6.15"/><circle cx="666.6" cy="1217.8" r="6.15"/><circle cx="683.4" cy="1216.4" r="6.15"/><circle cx="708.6" cy="1216.4" r="6.15"/><circle cx="731.0" cy="1219.2" r="6.15"/><circle cx="770.2" cy="1217.8" r="6.15"/><circle cx="598.0" cy="1224.1" r="6.15"/><circle cx="640.0" cy="1224.8" r="6.15"/><circle cx="649.8" cy="1224.8" r="6.15"/><circle cx="696.0" cy="1223.4" r="6.15"/><circle cx="599.4" cy="1209.8" r="6.15"/><circle cx="607.1" cy="1218.9" r="6.15"/><circle cx="598.0" cy="1226.6" r="6.15"/><circle cx="595.2" cy="1233.6" r="6.15"/><circle cx="610.6" cy="1230.8" r="6.15"/><circle cx="621.8" cy="1214.0" r="6.15"/><circle cx="630.2" cy="1222.4" r="6.15"/><circle cx="619.0" cy="1235.0" r="6.15"/><circle cx="624.6" cy="1246.2" r="6.15"/><circle cx="635.8" cy="1246.2" r="6.15"/><circle cx="633.0" cy="1235.0" r="6.15"/><circle cx="647.0" cy="1226.6" r="6.15"/><circle cx="649.8" cy="1237.8" r="6.15"/><circle cx="649.8" cy="1246.2" r="6.15"/><circle cx="661.0" cy="1223.8" r="6.15"/><circle cx="663.8" cy="1244.8" r="6.15"/><circle cx="669.4" cy="1235.0" r="6.15"/><circle cx="675.0" cy="1226.6" r="6.15"/><circle cx="677.8" cy="1249.0" r="6.15"/><circle cx="683.4" cy="1232.2" r="6.15"/><circle cx="686.2" cy="1249.0" r="6.15"/><circle cx="691.8" cy="1257.4" r="6.15"/><circle cx="673.6" cy="1263.0" r="6.15"/><circle cx="694.6" cy="1237.8" r="6.15"/><circle cx="700.2" cy="1226.6" r="6.15"/><circle cx="703.0" cy="1235.0" r="6.15"/><circle cx="711.4" cy="1235.0" r="6.15"/><circle cx="710.0" cy="1218.2" r="6.15"/><circle cx="704.4" cy="1246.2" r="6.15"/><circle cx="712.1" cy="1251.1" r="6.15"/><circle cx="732.4" cy="1218.9" r="6.15"/><circle cx="736.6" cy="1214.0" r="6.15"/><circle cx="770.2" cy="1215.4" r="6.15"/><circle cx="777.2" cy="1209.8" r="6.15"/><circle cx="618.3" cy="1260.9" r="6.15"/><circle cx="642.1" cy="1263.0" r="6.15"/><circle cx="627.4" cy="1277.0" r="6.15"/><circle cx="665.2" cy="1271.4" r="6.15"/><circle cx="670.8" cy="1300.1" r="6.15"/><circle cx="635.8" cy="1173.4" r="6.15"/><circle cx="647.0" cy="1173.4" r="6.15"/><circle cx="658.2" cy="1173.4" r="6.15"/><circle cx="668.0" cy="1176.2" r="6.15"/><circle cx="640.0" cy="1186.0" r="6.15"/><circle cx="651.2" cy="1184.6" r="6.15"/><circle cx="661.0" cy="1183.2" r="6.15"/><circle cx="669.4" cy="1190.2" r="6.15"/><circle cx="635.8" cy="1205.6" r="6.15"/><circle cx="647.0" cy="1207.0" r="6.15"/><circle cx="658.2" cy="1207.0" r="6.15"/><circle cx="669.4" cy="1207.0" r="6.15"/><circle cx="680.6" cy="1209.8" r="6.15"/><circle cx="689.0" cy="1214.0" r="6.15"/><circle cx="641.4" cy="1215.4" r="6.15"/><circle cx="652.6" cy="1218.2" r="6.15"/><circle cx="663.8" cy="1218.2" r="6.15"/><circle cx="675.0" cy="1218.2" r="6.15"/><circle cx="686.2" cy="1221.0" r="6.15"/><circle cx="623.2" cy="1207.0" r="6.15"/><circle cx="703.0" cy="1207.0" r="6.15"/><circle cx="708.6" cy="1214.0" r="6.15"/><circle cx="719.8" cy="1202.8" r="6.15"/><circle cx="680.6" cy="1186.0" r="6.15"/><circle cx="697.4" cy="1183.2" r="6.15"/><circle cx="704.4" cy="1183.2" r="6.15"/><circle cx="691.8" cy="1178.3" r="6.15"/><circle cx="738.0" cy="1180.4" r="6.15"/><circle cx="723.3" cy="1186.0" r="6.15"/><circle cx="848.4" cy="1160.0" r="6.15"/><circle cx="933.3" cy="1165.5" r="6.15"/><circle cx="957.5" cy="1189.9" r="6.15"/><circle cx="1113.0" cy="1028.5" r="6.15"/><circle cx="1041.4" cy="1083.7" r="6.15"/><circle cx="1077.8" cy="1091.5" r="6.15"/><circle cx="1087.6" cy="1100.2" r="6.15"/><circle cx="1091.8" cy="1100.9" r="6.15"/><circle cx="1119.5" cy="1114.6" r="6.15"/><circle cx="1054.7" cy="1125.4" r="6.15"/><circle cx="1046.3" cy="1132.7" r="6.15"/><circle cx="1101.6" cy="1128.9" r="6.15"/><circle cx="1098.8" cy="1127.5" r="6.15"/><circle cx="1123.3" cy="1129.9" r="6.15"/><circle cx="1090.4" cy="1138.7" r="6.15"/><circle cx="1150.6" cy="1136.6" r="6.15"/><circle cx="1151.3" cy="1142.9" r="6.15"/><circle cx="1167.4" cy="1146.7" r="6.15"/><circle cx="1134.9" cy="1147.8" r="6.15"/><circle cx="1079.2" cy="1143.6" r="6.15"/><circle cx="1075.0" cy="1147.8" r="6.15"/><circle cx="1070.8" cy="1154.1" r="6.15"/><circle cx="1082.0" cy="1152.7" r="6.15"/><circle cx="1098.1" cy="1151.3" r="6.15"/><circle cx="1032.3" cy="1159.7" r="6.15"/><circle cx="1045.6" cy="1159.7" r="6.15"/><circle cx="1056.8" cy="1157.3" r="6.15"/><circle cx="1125.4" cy="1159.7" r="6.15"/><circle cx="1152.0" cy="1165.7" r="6.15"/><circle cx="1099.5" cy="1159.0" r="6.15"/><circle cx="1090.4" cy="1163.2" r="6.15"/><circle cx="1062.4" cy="1168.8" r="6.15"/><circle cx="1076.4" cy="1166.0" r="6.15"/><circle cx="1035.8" cy="1167.4" r="6.15"/><circle cx="1098.8" cy="1164.6" r="6.15"/><circle cx="1115.6" cy="1170.2" r="6.15"/><circle cx="1126.8" cy="1167.4" r="6.15"/><circle cx="1044.2" cy="1178.6" r="6.15"/><circle cx="1066.6" cy="1178.6" r="6.15"/><circle cx="1079.2" cy="1175.8" r="6.15"/><circle cx="1089.0" cy="1173.0" r="6.15"/><circle cx="1096.0" cy="1175.8" r="6.15"/><circle cx="1110.0" cy="1178.6" r="6.15"/><circle cx="1131.7" cy="1179.3" r="6.15"/><circle cx="1145.0" cy="1182.8" r="6.15"/><circle cx="1156.2" cy="1181.4" r="6.15"/><circle cx="1164.6" cy="1187.0" r="6.15"/><circle cx="1152.0" cy="1187.0" r="6.15"/><circle cx="1034.4" cy="1187.0" r="6.15"/><circle cx="1054.0" cy="1187.0" r="6.15"/><circle cx="1065.2" cy="1187.0" r="6.15"/><circle cx="1076.4" cy="1185.6" r="6.15"/><circle cx="1087.6" cy="1187.0" r="6.15"/><circle cx="1104.4" cy="1187.0" r="6.15"/><circle cx="1146.4" cy="1196.8" r="6.15"/><circle cx="1164.6" cy="1195.4" r="6.15"/><circle cx="1196.8" cy="1196.8" r="6.15"/><circle cx="1024.6" cy="1201.0" r="6.15"/><circle cx="1037.2" cy="1198.2" r="6.15"/><circle cx="1054.0" cy="1198.2" r="6.15"/><circle cx="1068.0" cy="1198.2" r="6.15"/><circle cx="1082.0" cy="1198.2" r="6.15"/><circle cx="1096.0" cy="1198.2" r="6.15"/><circle cx="1107.2" cy="1201.0" r="6.15"/><circle cx="1131.0" cy="1205.2" r="6.15"/><circle cx="1147.8" cy="1208.0" r="6.15"/><circle cx="1034.4" cy="1208.0" r="6.15"/><circle cx="1047.0" cy="1209.4" r="6.15"/><circle cx="1061.0" cy="1208.0" r="6.15"/><circle cx="1075.0" cy="1208.0" r="6.15"/><circle cx="1089.0" cy="1208.0" r="6.15"/><circle cx="1103.0" cy="1208.0" r="6.15"/><circle cx="1040.0" cy="1216.4" r="6.15"/><circle cx="1056.8" cy="1217.8" r="6.15"/><circle cx="1070.8" cy="1216.4" r="6.15"/><circle cx="1084.8" cy="1216.4" r="6.15"/><circle cx="1096.0" cy="1215.0" r="6.15"/><circle cx="1117.0" cy="1216.4" r="6.15"/><circle cx="1132.4" cy="1215.0" r="6.15"/><circle cx="1142.2" cy="1219.2" r="6.15"/><circle cx="1031.6" cy="1223.4" r="6.15"/><circle cx="1045.6" cy="1223.4" r="6.15"/><circle cx="1100.2" cy="1223.4" r="6.15"/><circle cx="1160.4" cy="1223.4" r="6.15"/><circle cx="1147.8" cy="1224.1" r="6.15"/><circle cx="1031.6" cy="1226.6" r="6.15"/><circle cx="1044.2" cy="1232.2" r="6.15"/><circle cx="1042.8" cy="1246.2" r="6.15"/><circle cx="1049.8" cy="1237.8" r="6.15"/><circle cx="1056.8" cy="1223.8" r="6.15"/><circle cx="1062.4" cy="1235.0" r="6.15"/><circle cx="1063.8" cy="1249.0" r="6.15"/><circle cx="1065.2" cy="1257.4" r="6.15"/><circle cx="1075.0" cy="1263.0" r="6.15"/><circle cx="1079.2" cy="1271.4" r="6.15"/><circle cx="1089.0" cy="1277.0" r="6.15"/><circle cx="1076.4" cy="1237.8" r="6.15"/><circle cx="1083.4" cy="1246.2" r="6.15"/><circle cx="1076.4" cy="1226.6" r="6.15"/><circle cx="1087.6" cy="1225.2" r="6.15"/><circle cx="1096.0" cy="1226.6" r="6.15"/><circle cx="1098.8" cy="1237.8" r="6.15"/><circle cx="1100.2" cy="1256.0" r="6.15"/><circle cx="1107.2" cy="1246.2" r="6.15"/><circle cx="1112.8" cy="1250.4" r="6.15"/><circle cx="1110.0" cy="1229.4" r="6.15"/><circle cx="1121.2" cy="1237.8" r="6.15"/><circle cx="1118.4" cy="1216.8" r="6.15"/><circle cx="1125.4" cy="1223.8" r="6.15"/><circle cx="1132.4" cy="1212.6" r="6.15"/><circle cx="1138.0" cy="1246.2" r="6.15"/><circle cx="1140.8" cy="1221.0" r="6.15"/><circle cx="1146.4" cy="1228.0" r="6.15"/><circle cx="1152.0" cy="1242.0" r="6.15"/><circle cx="1156.2" cy="1235.0" r="6.15"/><circle cx="1160.4" cy="1225.9" r="6.15"/><circle cx="1191.2" cy="1234.3" r="6.15"/><circle cx="1157.6" cy="1300.1" r="6.15"/><circle cx="1040.0" cy="1215.4" r="6.15"/><circle cx="1054.0" cy="1214.0" r="6.15"/><circle cx="1068.0" cy="1214.0" r="6.15"/><circle cx="1082.0" cy="1209.8" r="6.15"/><circle cx="1096.0" cy="1209.8" r="6.15"/><circle cx="1107.2" cy="1211.2" r="6.15"/><circle cx="1131.0" cy="1205.6" r="6.15"/><circle cx="1147.1" cy="1208.4" r="6.15"/><circle cx="1037.2" cy="1167.8" r="6.15"/><circle cx="1044.2" cy="1179.0" r="6.15"/><circle cx="1058.2" cy="1170.6" r="6.15"/><circle cx="1068.0" cy="1179.0" r="6.15"/><circle cx="1076.4" cy="1173.4" r="6.15"/><circle cx="1087.6" cy="1173.4" r="6.15"/><circle cx="1096.0" cy="1170.6" r="6.15"/><circle cx="1107.2" cy="1179.0" r="6.15"/><circle cx="1115.6" cy="1170.6" r="6.15"/><circle cx="1125.4" cy="1167.8" r="6.15"/><circle cx="1131.7" cy="1179.0" r="6.15"/><circle cx="1146.4" cy="1183.2" r="6.15"/><circle cx="1156.2" cy="1181.8" r="6.15"/><circle cx="1166.0" cy="1187.4" r="6.15"/><circle cx="1152.0" cy="1167.1" r="6.15"/><circle cx="1034.4" cy="1186.0" r="6.15"/><circle cx="1054.0" cy="1186.0" r="6.15"/><circle cx="1068.0" cy="1186.0" r="6.15"/><circle cx="1082.0" cy="1186.0" r="6.15"/><circle cx="1096.0" cy="1186.0" r="6.15"/><circle cx="1105.8" cy="1190.2" r="6.15"/><circle cx="1024.6" cy="1200.7" r="6.15"/><circle cx="1040.0" cy="1204.2" r="6.15"/><circle cx="1054.0" cy="1202.8" r="6.15"/><circle cx="1068.0" cy="1204.2" r="6.15"/><circle cx="1082.0" cy="1202.8" r="6.15"/><circle cx="1096.0" cy="1204.2" r="6.15"/><circle cx="1107.2" cy="1204.2" r="6.15"/><circle cx="1146.4" cy="1195.8" r="6.15"/><circle cx="1164.6" cy="1195.1" r="6.15"/><circle cx="1196.8" cy="1197.2" r="6.15"/><circle cx="1215.1" cy="1153.2" r="6.15"/><circle cx="1221.3" cy="1198.0" r="6.15"/><circle cx="1237.0" cy="1196.2" r="6.15"/><circle cx="1256.9" cy="1233.9" r="6.15"/><circle cx="1273.2" cy="1260.7" r="6.15"/><circle cx="185.4" cy="1340.5" r="6.15"/><circle cx="208.5" cy="1336.3" r="6.15"/><circle cx="217.6" cy="1343.3" r="6.15"/><circle cx="242.1" cy="1376.2" r="6.15"/><circle cx="289.7" cy="1373.4" r="6.15"/><circle cx="260.3" cy="1405.9" r="6.15"/><circle cx="297.1" cy="1400.3" r="6.15"/><circle cx="314.9" cy="1422.7" r="6.15"/><circle cx="287.6" cy="1437.1" r="6.15"/><circle cx="299.5" cy="1435.0" r="6.15"/><circle cx="325.4" cy="1442.7" r="6.15"/><circle cx="338.7" cy="1442.7" r="6.15"/><circle cx="349.9" cy="1448.3" r="6.15"/><circle cx="354.8" cy="1459.5" r="6.15"/><circle cx="233.0" cy="1462.3" r="6.15"/><circle cx="207.8" cy="1471.4" r="6.15"/><circle cx="247.0" cy="1472.1" r="6.15"/><circle cx="258.2" cy="1467.2" r="6.15"/><circle cx="269.4" cy="1465.8" r="6.15"/><circle cx="277.8" cy="1472.9" r="6.15"/><circle cx="289.0" cy="1460.9" r="6.15"/><circle cx="287.6" cy="1470.0" r="6.15"/><circle cx="301.6" cy="1471.4" r="6.15"/><circle cx="321.2" cy="1467.9" r="6.15"/><circle cx="338.0" cy="1467.2" r="6.15"/><circle cx="361.8" cy="1471.4" r="6.15"/><circle cx="207.8" cy="1472.0" r="6.15"/><circle cx="209.2" cy="1478.3" r="6.15"/><circle cx="221.8" cy="1482.5" r="6.15"/><circle cx="228.8" cy="1482.5" r="6.15"/><circle cx="240.0" cy="1480.4" r="6.15"/><circle cx="247.0" cy="1473.4" r="6.15"/><circle cx="233.0" cy="1465.0" r="6.15"/><circle cx="256.8" cy="1467.8" r="6.15"/><circle cx="268.0" cy="1467.8" r="6.15"/><circle cx="287.6" cy="1467.8" r="6.15"/><circle cx="301.6" cy="1472.0" r="6.15"/><circle cx="321.2" cy="1468.5" r="6.15"/><circle cx="338.0" cy="1467.8" r="6.15"/><circle cx="338.0" cy="1479.0" r="6.15"/><circle cx="360.4" cy="1473.4" r="6.15"/><circle cx="360.4" cy="1480.4" r="6.15"/><circle cx="265.2" cy="1477.6" r="6.15"/><circle cx="276.4" cy="1476.2" r="6.15"/><circle cx="284.8" cy="1481.8" r="6.15"/><circle cx="296.0" cy="1477.6" r="6.15"/><circle cx="300.2" cy="1481.8" r="6.15"/><circle cx="263.8" cy="1487.4" r="6.15"/><circle cx="276.4" cy="1491.6" r="6.15"/><circle cx="290.4" cy="1490.2" r="6.15"/><circle cx="298.8" cy="1488.8" r="6.15"/><circle cx="310.0" cy="1490.2" r="6.15"/><circle cx="317.0" cy="1491.6" r="6.15"/><circle cx="326.8" cy="1486.0" r="6.15"/><circle cx="336.6" cy="1493.0" r="6.15"/><circle cx="345.0" cy="1500.0" r="6.15"/><circle cx="258.2" cy="1497.2" r="6.15"/><circle cx="268.0" cy="1498.6" r="6.15"/><circle cx="279.2" cy="1500.0" r="6.15"/><circle cx="287.6" cy="1504.2" r="6.15"/><circle cx="296.0" cy="1497.2" r="6.15"/><circle cx="304.4" cy="1505.6" r="6.15"/><circle cx="315.6" cy="1498.6" r="6.15"/><circle cx="244.2" cy="1501.4" r="6.15"/><circle cx="188.2" cy="1502.8" r="6.15"/><circle cx="251.2" cy="1509.8" r="6.15"/><circle cx="262.4" cy="1509.8" r="6.15"/><circle cx="275.0" cy="1511.2" r="6.15"/><circle cx="286.2" cy="1509.8" r="6.15"/><circle cx="296.0" cy="1514.0" r="6.15"/><circle cx="312.8" cy="1516.8" r="6.15"/><circle cx="331.0" cy="1516.8" r="6.15"/><circle cx="353.4" cy="1525.2" r="6.15"/><circle cx="364.6" cy="1529.4" r="6.15"/><circle cx="213.4" cy="1520.3" r="6.15"/><circle cx="219.0" cy="1520.3" r="6.15"/><circle cx="240.0" cy="1521.0" r="6.15"/><circle cx="234.4" cy="1529.4" r="6.15"/><circle cx="248.4" cy="1525.2" r="6.15"/><circle cx="259.6" cy="1523.8" r="6.15"/><circle cx="268.0" cy="1526.6" r="6.15"/><circle cx="277.8" cy="1529.4" r="6.15"/><circle cx="287.6" cy="1530.8" r="6.15"/><circle cx="298.8" cy="1530.8" r="6.15"/><circle cx="307.2" cy="1537.8" r="6.15"/><circle cx="317.0" cy="1535.0" r="6.15"/><circle cx="328.2" cy="1536.4" r="6.15"/><circle cx="342.2" cy="1537.8" r="6.15"/><circle cx="238.6" cy="1540.6" r="6.15"/><circle cx="254.0" cy="1536.4" r="6.15"/><circle cx="266.6" cy="1540.6" r="6.15"/><circle cx="279.2" cy="1537.8" r="6.15"/><circle cx="289.0" cy="1540.6" r="6.15"/><circle cx="296.0" cy="1546.2" r="6.15"/><circle cx="304.4" cy="1549.0" r="6.15"/><circle cx="314.2" cy="1549.0" r="6.15"/><circle cx="326.8" cy="1549.0" r="6.15"/><circle cx="343.6" cy="1546.2" r="6.15"/><circle cx="357.6" cy="1543.4" r="6.15"/><circle cx="234.4" cy="1554.6" r="6.15"/><circle cx="245.6" cy="1554.6" r="6.15"/><circle cx="258.2" cy="1551.8" r="6.15"/><circle cx="275.0" cy="1549.0" r="6.15"/><circle cx="284.8" cy="1557.4" r="6.15"/><circle cx="293.2" cy="1554.6" r="6.15"/><circle cx="301.6" cy="1554.6" r="6.15"/><circle cx="336.6" cy="1556.0" r="6.15"/><circle cx="352.0" cy="1557.4" r="6.15"/><circle cx="360.4" cy="1554.6" r="6.15"/><circle cx="364.6" cy="1565.8" r="6.15"/><circle cx="248.4" cy="1568.6" r="6.15"/><circle cx="265.2" cy="1563.0" r="6.15"/><circle cx="272.2" cy="1560.2" r="6.15"/><circle cx="282.0" cy="1568.6" r="6.15"/><circle cx="293.2" cy="1565.8" r="6.15"/><circle cx="305.8" cy="1570.0" r="6.15"/><circle cx="317.0" cy="1571.4" r="6.15"/><circle cx="324.0" cy="1563.0" r="6.15"/><circle cx="190.3" cy="1568.6" r="6.15"/><circle cx="346.4" cy="1572.8" r="6.15"/><circle cx="247.0" cy="1575.6" r="6.15"/><circle cx="273.6" cy="1578.4" r="6.15"/><circle cx="296.0" cy="1577.0" r="6.15"/><circle cx="328.2" cy="1579.8" r="6.15"/><circle cx="356.2" cy="1580.5" r="6.15"/><circle cx="270.8" cy="1590.3" r="6.15"/><circle cx="290.4" cy="1588.9" r="6.15"/><circle cx="297.4" cy="1586.8" r="6.15"/><circle cx="324.0" cy="1593.8" r="6.15"/><circle cx="197.3" cy="1599.4" r="6.15"/><circle cx="254.7" cy="1608.5" r="6.15"/><circle cx="362.8" cy="1474.1" r="6.15"/><circle cx="362.8" cy="1481.1" r="6.15"/><circle cx="411.1" cy="1479.0" r="6.15"/><circle cx="387.3" cy="1519.6" r="6.15"/><circle cx="367.0" cy="1530.1" r="6.15"/><circle cx="360.0" cy="1543.4" r="6.15"/><circle cx="372.6" cy="1546.2" r="6.15"/><circle cx="383.8" cy="1549.0" r="6.15"/><circle cx="392.2" cy="1543.4" r="6.15"/><circle cx="399.9" cy="1539.2" r="6.15"/><circle cx="408.3" cy="1547.6" r="6.15"/><circle cx="388.0" cy="1554.6" r="6.15"/><circle cx="362.1" cy="1556.0" r="6.15"/><circle cx="368.4" cy="1565.8" r="6.15"/><circle cx="370.5" cy="1574.9" r="6.15"/><circle cx="360.0" cy="1581.2" r="6.15"/><circle cx="378.2" cy="1584.7" r="6.15"/><circle cx="411.1" cy="1560.9" r="6.15"/><circle cx="444.7" cy="1578.4" r="6.15"/><circle cx="454.9" cy="1569.3" r="6.15"/><circle cx="633.0" cy="1340.9" r="6.15"/><circle cx="653.7" cy="1342.6" r="6.15"/><circle cx="660.7" cy="1336.3" r="6.15"/><circle cx="640.7" cy="1374.1" r="6.15"/><circle cx="661.7" cy="1375.5" r="6.15"/><circle cx="608.9" cy="1405.9" r="6.15"/><circle cx="659.6" cy="1400.3" r="6.15"/><circle cx="640.7" cy="1422.4" r="6.15"/><circle cx="604.3" cy="1442.7" r="6.15"/><circle cx="680.3" cy="1437.1" r="6.15"/><circle cx="691.8" cy="1443.1" r="6.15"/><circle cx="699.9" cy="1434.7" r="6.15"/><circle cx="612.0" cy="1462.3" r="6.15"/><circle cx="619.0" cy="1470.0" r="6.15"/><circle cx="624.6" cy="1472.1" r="6.15"/><circle cx="637.2" cy="1468.6" r="6.15"/><circle cx="651.2" cy="1465.8" r="6.15"/><circle cx="664.5" cy="1461.6" r="6.15"/><circle cx="666.6" cy="1470.0" r="6.15"/><circle cx="673.6" cy="1472.9" r="6.15"/><circle cx="691.8" cy="1471.4" r="6.15"/><circle cx="706.5" cy="1459.5" r="6.15"/><circle cx="703.0" cy="1467.2" r="6.15"/><circle cx="714.2" cy="1472.9" r="6.15"/><circle cx="723.3" cy="1470.7" r="6.15"/><circle cx="774.4" cy="1468.6" r="6.15"/><circle cx="610.6" cy="1465.0" r="6.15"/><circle cx="619.0" cy="1470.6" r="6.15"/><circle cx="624.6" cy="1474.8" r="6.15"/><circle cx="637.2" cy="1469.2" r="6.15"/><circle cx="649.8" cy="1466.4" r="6.15"/><circle cx="661.0" cy="1467.8" r="6.15"/><circle cx="672.2" cy="1473.4" r="6.15"/><circle cx="691.8" cy="1473.4" r="6.15"/><circle cx="703.0" cy="1467.8" r="6.15"/><circle cx="722.6" cy="1472.0" r="6.15"/><circle cx="774.4" cy="1469.2" r="6.15"/><circle cx="603.6" cy="1480.4" r="6.15"/><circle cx="635.8" cy="1480.4" r="6.15"/><circle cx="649.8" cy="1479.0" r="6.15"/><circle cx="663.8" cy="1479.0" r="6.15"/><circle cx="675.0" cy="1480.4" r="6.15"/><circle cx="684.8" cy="1481.8" r="6.15"/><circle cx="708.6" cy="1479.0" r="6.15"/><circle cx="717.0" cy="1477.6" r="6.15"/><circle cx="728.2" cy="1483.2" r="6.15"/><circle cx="736.6" cy="1491.6" r="6.15"/><circle cx="595.2" cy="1498.6" r="6.15"/><circle cx="602.2" cy="1504.2" r="6.15"/><circle cx="616.2" cy="1500.0" r="6.15"/><circle cx="627.4" cy="1490.2" r="6.15"/><circle cx="627.4" cy="1500.0" r="6.15"/><circle cx="649.8" cy="1491.6" r="6.15"/><circle cx="661.0" cy="1490.2" r="6.15"/><circle cx="672.2" cy="1491.6" r="6.15"/><circle cx="680.6" cy="1490.2" r="6.15"/><circle cx="691.8" cy="1493.0" r="6.15"/><circle cx="703.0" cy="1494.4" r="6.15"/><circle cx="711.4" cy="1497.2" r="6.15"/><circle cx="606.4" cy="1511.2" r="6.15"/><circle cx="624.6" cy="1509.8" r="6.15"/><circle cx="644.2" cy="1508.4" r="6.15"/><circle cx="655.4" cy="1501.4" r="6.15"/><circle cx="666.6" cy="1504.2" r="6.15"/><circle cx="677.8" cy="1507.0" r="6.15"/><circle cx="703.0" cy="1507.0" r="6.15"/><circle cx="728.2" cy="1514.0" r="6.15"/><circle cx="773.0" cy="1511.9" r="6.15"/><circle cx="602.2" cy="1529.4" r="6.15"/><circle cx="613.4" cy="1530.8" r="6.15"/><circle cx="624.6" cy="1523.8" r="6.15"/><circle cx="638.6" cy="1523.8" r="6.15"/><circle cx="649.8" cy="1523.8" r="6.15"/><circle cx="661.0" cy="1523.8" r="6.15"/><circle cx="672.2" cy="1523.8" r="6.15"/><circle cx="683.4" cy="1525.2" r="6.15"/><circle cx="691.8" cy="1518.2" r="6.15"/><circle cx="693.2" cy="1532.2" r="6.15"/><circle cx="712.8" cy="1528.0" r="6.15"/><circle cx="733.8" cy="1529.4" r="6.15"/><circle cx="750.6" cy="1530.8" r="6.15"/><circle cx="770.2" cy="1535.0" r="6.15"/><circle cx="619.0" cy="1539.2" r="6.15"/><circle cx="630.2" cy="1539.2" r="6.15"/><circle cx="641.4" cy="1540.6" r="6.15"/><circle cx="649.8" cy="1535.0" r="6.15"/><circle cx="661.0" cy="1535.0" r="6.15"/><circle cx="672.2" cy="1536.4" r="6.15"/><circle cx="683.4" cy="1540.6" r="6.15"/><circle cx="703.0" cy="1542.0" r="6.15"/><circle cx="712.8" cy="1539.2" r="6.15"/><circle cx="738.7" cy="1544.1" r="6.15"/><circle cx="758.3" cy="1542.0" r="6.15"/><circle cx="767.4" cy="1543.4" r="6.15"/><circle cx="777.9" cy="1549.7" r="6.15"/><circle cx="595.2" cy="1549.0" r="6.15"/><circle cx="599.4" cy="1558.8" r="6.15"/><circle cx="619.0" cy="1560.2" r="6.15"/><circle cx="630.2" cy="1551.8" r="6.15"/><circle cx="641.4" cy="1554.6" r="6.15"/><circle cx="652.6" cy="1549.0" r="6.15"/><circle cx="663.8" cy="1549.0" r="6.15"/><circle cx="675.0" cy="1551.8" r="6.15"/><circle cx="686.2" cy="1549.0" r="6.15"/><circle cx="687.6" cy="1558.8" r="6.15"/><circle cx="708.6" cy="1551.8" r="6.15"/><circle cx="719.1" cy="1553.9" r="6.15"/><circle cx="705.8" cy="1560.2" r="6.15"/><circle cx="598.7" cy="1568.6" r="6.15"/><circle cx="598.7" cy="1578.4" r="6.15"/><circle cx="630.2" cy="1565.8" r="6.15"/><circle cx="641.4" cy="1571.4" r="6.15"/><circle cx="652.6" cy="1565.8" r="6.15"/><circle cx="663.8" cy="1563.0" r="6.15"/><circle cx="675.0" cy="1568.6" r="6.15"/><circle cx="687.6" cy="1565.8" r="6.15"/><circle cx="704.4" cy="1568.6" r="6.15"/><circle cx="617.6" cy="1579.8" r="6.15"/><circle cx="634.4" cy="1574.2" r="6.15"/><circle cx="644.2" cy="1575.6" r="6.15"/><circle cx="656.8" cy="1577.0" r="6.15"/><circle cx="675.0" cy="1577.0" r="6.15"/><circle cx="683.4" cy="1579.8" r="6.15"/><circle cx="696.7" cy="1584.7" r="6.15"/><circle cx="635.1" cy="1590.3" r="6.15"/><circle cx="649.1" cy="1587.5" r="6.15"/><circle cx="665.2" cy="1588.9" r="6.15"/><circle cx="648.4" cy="1599.4" r="6.15"/><circle cx="705.8" cy="1594.5" r="6.15"/><circle cx="621.8" cy="1608.5" r="6.15"/><circle cx="933.4" cy="1448.2" r="6.15"/><circle cx="848.4" cy="1539.7" r="6.15"/><circle cx="956.8" cy="1573.1" r="6.15"/><circle cx="1026.0" cy="1340.5" r="6.15"/><circle cx="1035.1" cy="1336.3" r="6.15"/><circle cx="1043.5" cy="1343.3" r="6.15"/><circle cx="1054.0" cy="1375.5" r="6.15"/><circle cx="1112.8" cy="1373.4" r="6.15"/><circle cx="1088.7" cy="1400.3" r="6.15"/><circle cx="1134.9" cy="1422.4" r="6.15"/><circle cx="1061.0" cy="1435.0" r="6.15"/><circle cx="1066.6" cy="1437.5" r="6.15"/><circle cx="1080.6" cy="1442.7" r="6.15"/><circle cx="1035.1" cy="1448.3" r="6.15"/><circle cx="1077.8" cy="1459.5" r="6.15"/><circle cx="1080.6" cy="1465.8" r="6.15"/><circle cx="1152.7" cy="1462.3" r="6.15"/><circle cx="1034.4" cy="1468.6" r="6.15"/><circle cx="1045.6" cy="1466.5" r="6.15"/><circle cx="1054.0" cy="1471.4" r="6.15"/><circle cx="1070.8" cy="1471.4" r="6.15"/><circle cx="1098.8" cy="1467.2" r="6.15"/><circle cx="1110.0" cy="1467.2" r="6.15"/><circle cx="1119.8" cy="1468.6" r="6.15"/><circle cx="1153.4" cy="1472.1" r="6.15"/><circle cx="1034.4" cy="1469.2" r="6.15"/><circle cx="1044.2" cy="1467.8" r="6.15"/><circle cx="1054.0" cy="1472.0" r="6.15"/><circle cx="1031.6" cy="1477.6" r="6.15"/><circle cx="1040.0" cy="1481.8" r="6.15"/><circle cx="1051.2" cy="1479.0" r="6.15"/><circle cx="1072.2" cy="1472.0" r="6.15"/><circle cx="1082.0" cy="1469.2" r="6.15"/><circle cx="1080.6" cy="1477.6" r="6.15"/><circle cx="1098.8" cy="1467.8" r="6.15"/><circle cx="1110.0" cy="1467.8" r="6.15"/><circle cx="1119.8" cy="1469.2" r="6.15"/><circle cx="1105.8" cy="1479.0" r="6.15"/><circle cx="1115.6" cy="1480.4" r="6.15"/><circle cx="1153.4" cy="1465.0" r="6.15"/><circle cx="1153.4" cy="1475.5" r="6.15"/><circle cx="1056.8" cy="1490.2" r="6.15"/><circle cx="1063.8" cy="1487.4" r="6.15"/><circle cx="1073.6" cy="1494.4" r="6.15"/><circle cx="1082.0" cy="1490.2" r="6.15"/><circle cx="1090.4" cy="1487.4" r="6.15"/><circle cx="1101.6" cy="1491.6" r="6.15"/><circle cx="1124.0" cy="1490.2" r="6.15"/><circle cx="1160.4" cy="1491.6" r="6.15"/><circle cx="1049.8" cy="1500.0" r="6.15"/><circle cx="1062.4" cy="1498.6" r="6.15"/><circle cx="1076.4" cy="1500.0" r="6.15"/><circle cx="1082.0" cy="1497.2" r="6.15"/><circle cx="1122.6" cy="1500.0" r="6.15"/><circle cx="1126.8" cy="1508.4" r="6.15"/><circle cx="1151.3" cy="1502.1" r="6.15"/><circle cx="1196.8" cy="1502.8" r="6.15"/><circle cx="1038.6" cy="1512.6" r="6.15"/><circle cx="1048.4" cy="1504.2" r="6.15"/><circle cx="1059.6" cy="1507.0" r="6.15"/><circle cx="1070.8" cy="1508.4" r="6.15"/><circle cx="1082.0" cy="1511.2" r="6.15"/><circle cx="1099.5" cy="1518.2" r="6.15"/><circle cx="1143.6" cy="1519.6" r="6.15"/><circle cx="1150.6" cy="1516.8" r="6.15"/><circle cx="1159.0" cy="1519.6" r="6.15"/><circle cx="1167.4" cy="1516.8" r="6.15"/><circle cx="1191.2" cy="1518.2" r="6.15"/><circle cx="1041.4" cy="1528.0" r="6.15"/><circle cx="1051.2" cy="1523.8" r="6.15"/><circle cx="1059.6" cy="1525.2" r="6.15"/><circle cx="1070.8" cy="1526.6" r="6.15"/><circle cx="1082.0" cy="1526.6" r="6.15"/><circle cx="1096.0" cy="1529.4" r="6.15"/><circle cx="1166.0" cy="1530.8" r="6.15"/><circle cx="1196.8" cy="1532.2" r="6.15"/><circle cx="1042.8" cy="1537.8" r="6.15"/><circle cx="1054.0" cy="1536.4" r="6.15"/><circle cx="1065.2" cy="1535.0" r="6.15"/><circle cx="1076.4" cy="1535.0" r="6.15"/><circle cx="1087.6" cy="1535.0" r="6.15"/><circle cx="1098.8" cy="1537.8" r="6.15"/><circle cx="1110.0" cy="1536.4" r="6.15"/><circle cx="1122.6" cy="1535.0" r="6.15"/><circle cx="1132.4" cy="1543.4" r="6.15"/><circle cx="1145.0" cy="1537.8" r="6.15"/><circle cx="1152.0" cy="1547.6" r="6.15"/><circle cx="1163.2" cy="1546.2" r="6.15"/><circle cx="1035.8" cy="1553.2" r="6.15"/><circle cx="1045.6" cy="1557.4" r="6.15"/><circle cx="1056.8" cy="1550.4" r="6.15"/><circle cx="1068.0" cy="1549.0" r="6.15"/><circle cx="1079.2" cy="1549.0" r="6.15"/><circle cx="1090.4" cy="1549.0" r="6.15"/><circle cx="1101.6" cy="1549.0" r="6.15"/><circle cx="1117.0" cy="1557.4" r="6.15"/><circle cx="1125.4" cy="1546.2" r="6.15"/><circle cx="1146.4" cy="1556.0" r="6.15"/><circle cx="1165.3" cy="1560.2" r="6.15"/><circle cx="1055.4" cy="1568.6" r="6.15"/><circle cx="1062.4" cy="1570.0" r="6.15"/><circle cx="1073.6" cy="1563.0" r="6.15"/><circle cx="1084.8" cy="1563.0" r="6.15"/><circle cx="1096.0" cy="1563.0" r="6.15"/><circle cx="1107.2" cy="1563.0" r="6.15"/><circle cx="1076.4" cy="1575.6" r="6.15"/><circle cx="1090.4" cy="1575.6" r="6.15"/><circle cx="1101.6" cy="1574.2" r="6.15"/><circle cx="1133.8" cy="1570.0" r="6.15"/><circle cx="1146.4" cy="1565.8" r="6.15"/><circle cx="1157.6" cy="1570.0" r="6.15"/><circle cx="1033.7" cy="1572.8" r="6.15"/><circle cx="1147.1" cy="1578.4" r="6.15"/><circle cx="1093.2" cy="1585.4" r="6.15"/><circle cx="1104.4" cy="1588.2" r="6.15"/><circle cx="1110.0" cy="1591.0" r="6.15"/><circle cx="1079.2" cy="1589.6" r="6.15"/><circle cx="1067.3" cy="1594.5" r="6.15"/><circle cx="1031.6" cy="1599.4" r="6.15"/><circle cx="1131.0" cy="1607.8" r="6.15"/><circle cx="1215.0" cy="1499.2" r="6.15"/><circle cx="1236.9" cy="1526.1" r="6.15"/><circle cx="1257.2" cy="1527.0" r="6.15"/><circle cx="1221.1" cy="1554.3" r="6.15"/><circle cx="1273.5" cy="1580.1" r="6.15"/><circle cx="609.2" cy="180.7" r="6.15"/><circle cx="617.9" cy="180.7" r="6.15"/><circle cx="626.6" cy="180.7" r="6.15"/><circle cx="635.2" cy="180.7" r="6.15"/><circle cx="643.9" cy="180.7" r="6.15"/><circle cx="652.6" cy="180.7" r="6.15"/><circle cx="661.3" cy="180.7" r="6.15"/><circle cx="670.0" cy="180.7" r="6.15"/><circle cx="678.6" cy="180.7" r="6.15"/><circle cx="687.3" cy="180.7" r="6.15"/><circle cx="696.0" cy="180.7" r="6.15"/><circle cx="609.2" cy="172.2" r="6.15"/><circle cx="617.9" cy="172.2" r="6.15"/><circle cx="626.6" cy="172.2" r="6.15"/><circle cx="635.2" cy="172.2" r="6.15"/><circle cx="643.9" cy="172.2" r="6.15"/><circle cx="652.6" cy="172.2" r="6.15"/><circle cx="661.3" cy="172.2" r="6.15"/><circle cx="670.0" cy="172.2" r="6.15"/><circle cx="678.6" cy="172.2" r="6.15"/><circle cx="687.3" cy="172.2" r="6.15"/><circle cx="696.0" cy="172.2" r="6.15"/><circle cx="609.2" cy="163.8" r="6.15"/><circle cx="617.9" cy="163.8" r="6.15"/><circle cx="626.6" cy="163.8" r="6.15"/><circle cx="635.2" cy="163.8" r="6.15"/><circle cx="643.9" cy="163.8" r="6.15"/><circle cx="652.6" cy="163.8" r="6.15"/><circle cx="661.3" cy="163.8" r="6.15"/><circle cx="670.0" cy="163.8" r="6.15"/><circle cx="678.6" cy="163.8" r="6.15"/><circle cx="687.3" cy="163.8" r="6.15"/><circle cx="696.0" cy="163.8" r="6.15"/><circle cx="609.2" cy="155.3" r="6.15"/><circle cx="617.9" cy="155.3" r="6.15"/><circle cx="626.6" cy="155.3" r="6.15"/><circle cx="635.2" cy="155.3" r="6.15"/><circle cx="643.9" cy="155.3" r="6.15"/><circle cx="652.6" cy="155.3" r="6.15"/><circle cx="661.3" cy="155.3" r="6.15"/><circle cx="670.0" cy="155.3" r="6.15"/><circle cx="678.6" cy="155.3" r="6.15"/><circle cx="687.3" cy="155.3" r="6.15"/><circle cx="696.0" cy="155.3" r="6.15"/><circle cx="609.2" cy="146.8" r="6.15"/><circle cx="617.9" cy="146.8" r="6.15"/><circle cx="626.6" cy="146.8" r="6.15"/><circle cx="635.2" cy="146.8" r="6.15"/><circle cx="643.9" cy="146.8" r="6.15"/><circle cx="652.6" cy="146.8" r="6.15"/><circle cx="661.3" cy="146.8" r="6.15"/><circle cx="670.0" cy="146.8" r="6.15"/><circle cx="678.6" cy="146.8" r="6.15"/><circle cx="687.3" cy="146.8" r="6.15"/><circle cx="696.0" cy="146.8" r="6.15"/><circle cx="621.8" cy="138.3" r="6.15"/><circle cx="631.6" cy="138.3" r="6.15"/><circle cx="641.4" cy="138.3" r="6.15"/><circle cx="651.2" cy="138.3" r="6.15"/><circle cx="661.0" cy="138.3" r="6.15"/><circle cx="670.8" cy="138.3" r="6.15"/><circle cx="680.6" cy="138.3" r="6.15"/><circle cx="690.4" cy="138.3" r="6.15"/><circle cx="621.8" cy="189.2" r="6.15"/><circle cx="631.6" cy="189.2" r="6.15"/><circle cx="641.4" cy="189.2" r="6.15"/><circle cx="651.2" cy="189.2" r="6.15"/><circle cx="661.0" cy="189.2" r="6.15"/><circle cx="670.8" cy="189.2" r="6.15"/><circle cx="680.6" cy="189.2" r="6.15"/><circle cx="690.4" cy="189.2" r="6.15"/><circle cx="252.8" cy="1554.1" r="6.15"/><circle cx="298.0" cy="1544.0" r="6.15"/><circle cx="257.7" cy="1559.0" r="6.15"/><circle cx="314.6" cy="1545.6" r="6.15"/><circle cx="285.5" cy="1532.3" r="6.15"/><circle cx="293.2" cy="1524.3" r="6.15"/><circle cx="313.2" cy="1532.1" r="6.15"/><circle cx="321.0" cy="1550.6" r="6.15"/><circle cx="240.3" cy="1536.8" r="6.15"/><circle cx="284.8" cy="1526.6" r="6.15"/><circle cx="328.4" cy="1538.7" r="6.15"/><circle cx="251.9" cy="1560.2" r="6.15"/><circle cx="280.5" cy="1547.5" r="6.15"/><circle cx="269.9" cy="1544.3" r="6.15"/><circle cx="320.1" cy="1532.3" r="6.15"/><circle cx="311.9" cy="1531.0" r="6.15"/><circle cx="309.5" cy="1557.6" r="6.15"/><circle cx="292.8" cy="1556.0" r="6.15"/><circle cx="248.8" cy="1543.9" r="6.15"/><circle cx="316.4" cy="1530.7" r="6.15"/><circle cx="276.3" cy="1538.5" r="6.15"/><circle cx="280.3" cy="1539.5" r="6.15"/><circle cx="284.6" cy="1544.6" r="6.15"/><circle cx="289.8" cy="1556.9" r="6.15"/><circle cx="258.3" cy="1550.2" r="6.15"/><circle cx="290.4" cy="1550.9" r="6.15"/><circle cx="254.3" cy="1529.2" r="6.15"/><circle cx="270.4" cy="1565.5" r="6.15"/><circle cx="270.3" cy="1549.7" r="6.15"/><circle cx="266.4" cy="1526.0" r="6.15"/><circle cx="311.6" cy="1539.0" r="6.15"/><circle cx="302.6" cy="1553.4" r="6.15"/><circle cx="276.1" cy="1568.5" r="6.15"/><circle cx="329.3" cy="1549.3" r="6.15"/><circle cx="321.8" cy="1544.6" r="6.15"/><circle cx="273.1" cy="1532.9" r="6.15"/><circle cx="311.3" cy="1544.2" r="6.15"/><circle cx="261.8" cy="1534.9" r="6.15"/><circle cx="264.3" cy="1473.3" r="6.15"/><circle cx="290.5" cy="1481.4" r="6.15"/><circle cx="303.8" cy="1477.3" r="6.15"/><circle cx="307.7" cy="1480.5" r="6.15"/><circle cx="287.7" cy="1502.6" r="6.15"/><circle cx="292.4" cy="1502.3" r="6.15"/><circle cx="293.7" cy="1470.7" r="6.15"/><circle cx="303.4" cy="1490.2" r="6.15"/><circle cx="271.4" cy="1475.8" r="6.15"/><circle cx="301.6" cy="1490.0" r="6.15"/><circle cx="307.8" cy="1489.4" r="6.15"/><circle cx="293.1" cy="1491.0" r="6.15"/><circle cx="271.5" cy="1497.1" r="6.15"/><circle cx="307.5" cy="1492.4" r="6.15"/><circle cx="262.0" cy="1498.7" r="6.15"/><circle cx="291.4" cy="1475.7" r="6.15"/><circle cx="657.9" cy="1512.4" r="6.15"/><circle cx="653.9" cy="1483.0" r="6.15"/><circle cx="632.3" cy="1514.5" r="6.15"/><circle cx="634.1" cy="1515.5" r="6.15"/><circle cx="665.4" cy="1512.1" r="6.15"/><circle cx="652.8" cy="1543.4" r="6.15"/><circle cx="643.0" cy="1475.8" r="6.15"/><circle cx="670.1" cy="1528.9" r="6.15"/><circle cx="662.1" cy="1532.1" r="6.15"/><circle cx="682.1" cy="1506.3" r="6.15"/><circle cx="668.6" cy="1506.9" r="6.15"/><circle cx="656.6" cy="1536.1" r="6.15"/><circle cx="640.1" cy="1478.6" r="6.15"/><circle cx="650.3" cy="1541.8" r="6.15"/><circle cx="657.8" cy="1514.7" r="6.15"/><circle cx="661.1" cy="1488.2" r="6.15"/><circle cx="631.4" cy="1502.3" r="6.15"/><circle cx="672.2" cy="1489.6" r="6.15"/><circle cx="656.7" cy="1552.1" r="6.15"/><circle cx="641.2" cy="1507.0" r="6.15"/><circle cx="638.5" cy="1500.5" r="6.15"/><circle cx="669.8" cy="1524.9" r="6.15"/><circle cx="636.5" cy="1480.7" r="6.15"/><circle cx="670.2" cy="1540.7" r="6.15"/><circle cx="673.0" cy="1493.8" r="6.15"/><circle cx="654.9" cy="1561.9" r="6.15"/><circle cx="657.9" cy="1564.5" r="6.15"/><circle cx="623.6" cy="1511.6" r="6.15"/><circle cx="654.5" cy="1568.8" r="6.15"/><circle cx="667.9" cy="1504.6" r="6.15"/><circle cx="682.4" cy="1507.7" r="6.15"/><circle cx="649.8" cy="1489.7" r="6.15"/><circle cx="633.8" cy="1480.4" r="6.15"/><circle cx="653.9" cy="1487.0" r="6.15"/><circle cx="654.8" cy="1551.3" r="6.15"/><circle cx="636.2" cy="1512.2" r="6.15"/><circle cx="677.7" cy="1514.5" r="6.15"/><circle cx="641.9" cy="1559.2" r="6.15"/><circle cx="664.0" cy="1511.3" r="6.15"/><circle cx="664.4" cy="1553.0" r="6.15"/><circle cx="660.9" cy="1493.8" r="6.15"/><circle cx="638.9" cy="1511.0" r="6.15"/><circle cx="669.4" cy="1525.7" r="6.15"/><circle cx="655.2" cy="1552.7" r="6.15"/><circle cx="626.9" cy="1533.1" r="6.15"/><circle cx="641.3" cy="1525.9" r="6.15"/><circle cx="673.5" cy="1494.8" r="6.15"/><circle cx="656.0" cy="1524.2" r="6.15"/><circle cx="635.0" cy="1526.1" r="6.15"/><circle cx="650.1" cy="1515.0" r="6.15"/><circle cx="1086.4" cy="1560.6" r="6.15"/><circle cx="1051.2" cy="1544.4" r="6.15"/><circle cx="1044.2" cy="1552.7" r="6.15"/><circle cx="1048.3" cy="1547.8" r="6.15"/><circle cx="1087.3" cy="1553.5" r="6.15"/><circle cx="1068.0" cy="1563.1" r="6.15"/><circle cx="1073.1" cy="1572.0" r="6.15"/><circle cx="1088.3" cy="1522.6" r="6.15"/><circle cx="1058.7" cy="1571.5" r="6.15"/><circle cx="1043.8" cy="1553.0" r="6.15"/><circle cx="1095.3" cy="1495.1" r="6.15"/><circle cx="1060.2" cy="1509.3" r="6.15"/><circle cx="1074.9" cy="1515.2" r="6.15"/><circle cx="1059.5" cy="1565.9" r="6.15"/><circle cx="1083.2" cy="1556.7" r="6.15"/><circle cx="1096.5" cy="1505.6" r="6.15"/><circle cx="1088.5" cy="1568.8" r="6.15"/><circle cx="1044.4" cy="1527.5" r="6.15"/><circle cx="1048.5" cy="1493.7" r="6.15"/><circle cx="1070.6" cy="1544.4" r="6.15"/><circle cx="1072.4" cy="1575.7" r="6.15"/><circle cx="1090.0" cy="1531.1" r="6.15"/><circle cx="1054.5" cy="1540.6" r="6.15"/><circle cx="1055.7" cy="1541.8" r="6.15"/><circle cx="1082.1" cy="1517.6" r="6.15"/><circle cx="1092.0" cy="1518.7" r="6.15"/><circle cx="1069.9" cy="1559.8" r="6.15"/><circle cx="1055.0" cy="1497.8" r="6.15"/><circle cx="1077.1" cy="1521.7" r="6.15"/><circle cx="1097.4" cy="1503.9" r="6.15"/><circle cx="1063.2" cy="1485.5" r="6.15"/><circle cx="1068.7" cy="1510.0" r="6.15"/><circle cx="1068.5" cy="1553.3" r="6.15"/><circle cx="1086.4" cy="1557.9" r="6.15"/><circle cx="1074.6" cy="1535.3" r="6.15"/><circle cx="1065.9" cy="1518.0" r="6.15"/><circle cx="1053.0" cy="1509.1" r="6.15"/><circle cx="1058.0" cy="1512.3" r="6.15"/><circle cx="1055.8" cy="1532.1" r="6.15"/><circle cx="1085.1" cy="1520.2" r="6.15"/><circle cx="1081.0" cy="1566.9" r="6.15"/><circle cx="1056.2" cy="1516.7" r="6.15"/><circle cx="1089.7" cy="1510.6" r="6.15"/><circle cx="1087.1" cy="1518.1" r="6.15"/><circle cx="1039.3" cy="1524.4" r="6.15"/><circle cx="641.6" cy="1230.7" r="6.15"/><circle cx="665.9" cy="1179.4" r="6.15"/><circle cx="667.3" cy="1209.8" r="6.15"/><circle cx="635.3" cy="1186.0" r="6.15"/><circle cx="644.1" cy="1206.4" r="6.15"/><circle cx="628.5" cy="1213.4" r="6.15"/><circle cx="665.3" cy="1200.9" r="6.15"/><circle cx="663.3" cy="1209.0" r="6.15"/><circle cx="664.9" cy="1177.0" r="6.15"/><circle cx="640.7" cy="1197.8" r="6.15"/><circle cx="655.1" cy="1171.1" r="6.15"/><circle cx="652.3" cy="1193.8" r="6.15"/><circle cx="631.8" cy="1175.6" r="6.15"/><circle cx="646.0" cy="1169.1" r="6.15"/><circle cx="651.3" cy="1201.1" r="6.15"/><circle cx="664.5" cy="1179.9" r="6.15"/><circle cx="644.1" cy="1204.3" r="6.15"/><circle cx="644.6" cy="1199.6" r="6.15"/><circle cx="648.2" cy="1198.8" r="6.15"/><circle cx="643.2" cy="1222.6" r="6.15"/><circle cx="654.7" cy="1196.9" r="6.15"/><circle cx="646.9" cy="1179.8" r="6.15"/><circle cx="654.1" cy="1189.2" r="6.15"/><circle cx="626.8" cy="1213.3" r="6.15"/><circle cx="667.9" cy="1218.4" r="6.15"/><circle cx="633.4" cy="1174.6" r="6.15"/><circle cx="671.4" cy="1190.9" r="6.15"/><circle cx="630.7" cy="1205.1" r="6.15"/><circle cx="654.2" cy="1202.9" r="6.15"/><circle cx="645.5" cy="1185.9" r="6.15"/><circle cx="647.7" cy="1196.9" r="6.15"/><circle cx="657.4" cy="1196.3" r="6.15"/><circle cx="618.9" cy="1182.9" r="6.15"/><circle cx="603.7" cy="1192.4" r="6.15"/><circle cx="617.1" cy="1190.1" r="6.15"/><circle cx="615.8" cy="1200.9" r="6.15"/><circle cx="625.6" cy="1187.8" r="6.15"/><circle cx="621.6" cy="1196.9" r="6.15"/><circle cx="601.6" cy="1192.3" r="6.15"/><circle cx="608.2" cy="1197.9" r="6.15"/><circle cx="1086.3" cy="1221.1" r="6.15"/><circle cx="1068.7" cy="1194.8" r="6.15"/><circle cx="1095.6" cy="1179.7" r="6.15"/><circle cx="1100.9" cy="1204.3" r="6.15"/><circle cx="1082.1" cy="1171.3" r="6.15"/><circle cx="1097.0" cy="1227.0" r="6.15"/><circle cx="1091.4" cy="1217.6" r="6.15"/><circle cx="1104.6" cy="1216.4" r="6.15"/><circle cx="1064.2" cy="1214.0" r="6.15"/><circle cx="1068.9" cy="1217.0" r="6.15"/><circle cx="1089.4" cy="1206.9" r="6.15"/><circle cx="1055.5" cy="1196.4" r="6.15"/><circle cx="1066.9" cy="1225.0" r="6.15"/><circle cx="1079.7" cy="1178.6" r="6.15"/><circle cx="1089.6" cy="1186.2" r="6.15"/><circle cx="1093.7" cy="1192.7" r="6.15"/><circle cx="1082.1" cy="1198.3" r="6.15"/><circle cx="1067.2" cy="1200.0" r="6.15"/><circle cx="1095.7" cy="1193.2" r="6.15"/><circle cx="1070.2" cy="1227.5" r="6.15"/><circle cx="1060.0" cy="1193.6" r="6.15"/><circle cx="1078.9" cy="1206.4" r="6.15"/><circle cx="1059.5" cy="1226.2" r="6.15"/><circle cx="1077.4" cy="1172.3" r="6.15"/><circle cx="1068.9" cy="1169.6" r="6.15"/><circle cx="1069.2" cy="1174.1" r="6.15"/><circle cx="1064.2" cy="1209.5" r="6.15"/><circle cx="1088.6" cy="1189.0" r="6.15"/><circle cx="1076.0" cy="1206.1" r="6.15"/><circle cx="1082.8" cy="1237.6" r="6.15"/><circle cx="1062.1" cy="1226.9" r="6.15"/><circle cx="1081.0" cy="1236.6" r="6.15"/><circle cx="1073.8" cy="1208.9" r="6.15"/><circle cx="1045.9" cy="1223.2" r="6.15"/><circle cx="1063.1" cy="1210.7" r="6.15"/><circle cx="1061.5" cy="1242.1" r="6.15"/><circle cx="1045.9" cy="1209.4" r="6.15"/><circle cx="1068.4" cy="1234.5" r="6.15"/><circle cx="1077.7" cy="1213.5" r="6.15"/><circle cx="1052.0" cy="1234.0" r="6.15"/><circle cx="1084.3" cy="1231.7" r="6.15"/><circle cx="1053.6" cy="1226.0" r="6.15"/><circle cx="1092.6" cy="1213.9" r="6.15"/><circle cx="1045.4" cy="1220.9" r="6.15"/><circle cx="1048.1" cy="1218.4" r="6.15"/><circle cx="1086.4" cy="1218.7" r="6.15"/><circle cx="1060.7" cy="1212.9" r="6.15"/><circle cx="1077.7" cy="1208.7" r="6.15"/><circle cx="1048.3" cy="1238.4" r="6.15"/><circle cx="1049.4" cy="1234.4" r="6.15"/><circle cx="1063.3" cy="1201.6" r="6.15"/><circle cx="1057.3" cy="1233.7" r="6.15"/><circle cx="1070.9" cy="1527.7" r="6.15"/><circle cx="1088.7" cy="1523.1" r="6.15"/><circle cx="1068.6" cy="1527.5" r="6.15"/><circle cx="1062.9" cy="1577.9" r="6.15"/><circle cx="1044.2" cy="1535.6" r="6.15"/><circle cx="1051.5" cy="1528.0" r="6.15"/><circle cx="1074.5" cy="1533.6" r="6.15"/><circle cx="1081.8" cy="1535.8" r="6.15"/><circle cx="1048.2" cy="1534.7" r="6.15"/><circle cx="1062.5" cy="1563.4" r="6.15"/><circle cx="1071.8" cy="1515.7" r="6.15"/><circle cx="1078.4" cy="1523.9" r="6.15"/><circle cx="1068.7" cy="1517.6" r="6.15"/><circle cx="1062.6" cy="1562.9" r="6.15"/><circle cx="1068.9" cy="1560.2" r="6.15"/><circle cx="1083.4" cy="1547.0" r="6.15"/><circle cx="1076.7" cy="1531.8" r="6.15"/><circle cx="1075.1" cy="1562.2" r="6.15"/><circle cx="1060.0" cy="1511.1" r="6.15"/><circle cx="1047.0" cy="1527.3" r="6.15"/><circle cx="1042.2" cy="1531.8" r="6.15"/><circle cx="1062.9" cy="1552.4" r="6.15"/><circle cx="1066.0" cy="1574.8" r="6.15"/><circle cx="1077.6" cy="1525.7" r="6.15"/><circle cx="1090.5" cy="1555.9" r="6.15"/><circle cx="1081.5" cy="1560.8" r="6.15"/><circle cx="1075.7" cy="1570.6" r="6.15"/><circle cx="1094.9" cy="1541.2" r="6.15"/><circle cx="1064.9" cy="1518.4" r="6.15"/><circle cx="1068.0" cy="1510.1" r="6.15"/><circle cx="1131.4" cy="1539.9" r="6.15"/><circle cx="1113.1" cy="1548.7" r="6.15"/><circle cx="1119.6" cy="1539.2" r="6.15"/><circle cx="1126.3" cy="1548.4" r="6.15"/><circle cx="1147.6" cy="1544.1" r="6.15"/><circle cx="1120.7" cy="1534.7" r="6.15"/><circle cx="1117.8" cy="1553.2" r="6.15"/><circle cx="1133.6" cy="1555.0" r="6.15"/><circle cx="647.5" cy="1543.4" r="6.15"/><circle cx="636.2" cy="1550.8" r="6.15"/><circle cx="630.3" cy="1549.1" r="6.15"/><circle cx="666.4" cy="1488.7" r="6.15"/><circle cx="657.5" cy="1519.8" r="6.15"/><circle cx="685.8" cy="1515.3" r="6.15"/><circle cx="633.9" cy="1508.0" r="6.15"/><circle cx="645.5" cy="1570.5" r="6.15"/><circle cx="634.7" cy="1496.7" r="6.15"/><circle cx="660.9" cy="1529.7" r="6.15"/><circle cx="644.9" cy="1495.4" r="6.15"/><circle cx="680.8" cy="1540.1" r="6.15"/><circle cx="635.3" cy="1554.7" r="6.15"/><circle cx="671.1" cy="1494.4" r="6.15"/><circle cx="664.9" cy="1496.9" r="6.15"/><circle cx="622.9" cy="1508.6" r="6.15"/><circle cx="643.4" cy="1514.6" r="6.15"/><circle cx="665.3" cy="1558.6" r="6.15"/><circle cx="641.4" cy="1492.6" r="6.15"/><circle cx="663.7" cy="1529.6" r="6.15"/><circle cx="667.2" cy="1484.4" r="6.15"/><circle cx="662.1" cy="1544.5" r="6.15"/><circle cx="626.7" cy="1514.9" r="6.15"/><circle cx="683.7" cy="1539.9" r="6.15"/><circle cx="651.8" cy="1555.1" r="6.15"/><circle cx="651.1" cy="1553.9" r="6.15"/><circle cx="659.3" cy="1486.8" r="6.15"/><circle cx="628.4" cy="1494.4" r="6.15"/><circle cx="643.5" cy="1546.3" r="6.15"/><circle cx="679.8" cy="1522.6" r="6.15"/><circle cx="654.9" cy="1553.8" r="6.15"/><circle cx="639.5" cy="1512.2" r="6.15"/><circle cx="662.9" cy="1538.6" r="6.15"/><circle cx="629.7" cy="1547.5" r="6.15"/><circle cx="673.7" cy="1500.5" r="6.15"/><circle cx="646.3" cy="1503.3" r="6.15"/><circle cx="623.5" cy="1536.4" r="6.15"/><circle cx="634.5" cy="1494.3" r="6.15"/><circle cx="677.5" cy="1504.9" r="6.15"/><circle cx="632.9" cy="1520.5" r="6.15"/><circle cx="605.7" cy="1524.8" r="6.15"/><circle cx="611.9" cy="1519.0" r="6.15"/><circle cx="599.2" cy="1512.3" r="6.15"/><circle cx="623.0" cy="1512.7" r="6.15"/><circle cx="620.2" cy="1500.0" r="6.15"/><circle cx="623.0" cy="1522.8" r="6.15"/><circle cx="607.3" cy="1501.2" r="6.15"/><circle cx="605.9" cy="1525.7" r="6.15"/><circle cx="280.6" cy="1506.6" r="6.15"/><circle cx="300.4" cy="1488.9" r="6.15"/><circle cx="287.1" cy="1519.5" r="6.15"/><circle cx="287.1" cy="1505.9" r="6.15"/><circle cx="275.3" cy="1523.3" r="6.15"/><circle cx="277.3" cy="1497.3" r="6.15"/><circle cx="310.5" cy="1506.8" r="6.15"/><circle cx="259.1" cy="1490.5" r="6.15"/><circle cx="274.7" cy="1477.6" r="6.15"/><circle cx="283.6" cy="1511.8" r="6.15"/><circle cx="269.1" cy="1517.3" r="6.15"/><circle cx="309.2" cy="1502.8" r="6.15"/><circle cx="289.5" cy="1480.9" r="6.15"/><circle cx="257.8" cy="1485.7" r="6.15"/><circle cx="306.7" cy="1512.5" r="6.15"/><circle cx="244.9" cy="1491.1" r="6.15"/><circle cx="254.4" cy="1488.6" r="6.15"/><circle cx="235.5" cy="1501.2" r="6.15"/><circle cx="259.3" cy="1494.7" r="6.15"/><circle cx="294.8" cy="1503.0" r="6.15"/><circle cx="292.3" cy="1216.0" r="6.15"/><circle cx="320.6" cy="1200.5" r="6.15"/><circle cx="325.9" cy="1204.7" r="6.15"/><circle cx="274.5" cy="1181.6" r="6.15"/><circle cx="290.9" cy="1185.8" r="6.15"/><circle cx="271.9" cy="1217.7" r="6.15"/><circle cx="312.1" cy="1227.7" r="6.15"/><circle cx="270.4" cy="1213.6" r="6.15"/><circle cx="317.1" cy="1231.0" r="6.15"/><circle cx="324.7" cy="1216.2" r="6.15"/><circle cx="300.9" cy="1195.4" r="6.15"/><circle cx="275.1" cy="1189.4" r="6.15"/><circle cx="292.8" cy="1217.5" r="6.15"/><circle cx="295.9" cy="1202.4" r="6.15"/><circle cx="283.9" cy="1192.4" r="6.15"/><circle cx="315.2" cy="1215.7" r="6.15"/><circle cx="309.9" cy="1231.8" r="6.15"/><circle cx="272.5" cy="1183.2" r="6.15"/><circle cx="272.6" cy="1238.5" r="6.15"/><circle cx="313.3" cy="1203.4" r="6.15"/><circle cx="312.1" cy="1198.9" r="6.15"/><circle cx="283.6" cy="1207.3" r="6.15"/><circle cx="260.5" cy="1194.3" r="6.15"/><circle cx="268.7" cy="1195.7" r="6.15"/><circle cx="255.5" cy="1196.0" r="6.15"/></g>
<text transform="translate(171.52,366.90) scale(1.06,1)" font-size="39.5" font-family="Liberation Serif" style="stroke-width:0.3px">ρ</text>
<rect x="203.60" y="351.80" width="19.5" height="3.0" fill="#000"/>
<rect x="203.60" y="359.80" width="19.5" height="3.2" fill="#000"/>
<rect x="235.90" y="357.20" width="17.3" height="2.3" fill="#000"/>
<text x="260.12" y="366.90" font-size="38.0">0.25,</text>
<text x="356.36" y="366.90" font-size="38.0" font-style="italic">p</text>
<rect x="386.41" y="351.80" width="19.5" height="3.0" fill="#000"/>
<rect x="386.41" y="359.80" width="19.5" height="3.2" fill="#000"/>
<text x="415.51" y="366.90" font-size="38.0">2.1e–06</text>
<text transform="translate(583.22,366.90) scale(1.06,1)" font-size="39.5" font-family="Liberation Serif" style="stroke-width:0.3px">ρ</text>
<rect x="615.30" y="351.80" width="19.5" height="3.0" fill="#000"/>
<rect x="615.30" y="359.80" width="19.5" height="3.2" fill="#000"/>
<rect x="647.60" y="357.20" width="17.3" height="2.3" fill="#000"/>
<text x="671.82" y="366.90" font-size="38.0">0.23,</text>
<text x="768.06" y="366.90" font-size="38.0" font-style="italic">p</text>
<rect x="798.11" y="351.80" width="19.5" height="3.0" fill="#000"/>
<rect x="798.11" y="359.80" width="19.5" height="3.2" fill="#000"/>
<text x="827.17" y="366.90" font-size="38.0">7.9e–06</text>
<text transform="translate(1084.22,354.60) scale(1.06,1)" font-size="39.5" font-family="Liberation Serif" style="stroke-width:0.3px">ρ</text>
<rect x="1116.30" y="339.50" width="19.5" height="3.0" fill="#000"/>
<rect x="1116.30" y="347.50" width="19.5" height="3.2" fill="#000"/>
<text x="1145.92" y="354.60" font-size="38.0">0.12,</text>
<text x="1242.16" y="354.60" font-size="38.0" font-style="italic">p</text>
<rect x="1272.21" y="339.50" width="19.5" height="3.0" fill="#000"/>
<rect x="1272.21" y="347.50" width="19.5" height="3.2" fill="#000"/>
<text x="1301.73" y="354.60" font-size="38.0">0.023</text>
<text transform="translate(173.72,453.50) scale(1.06,1)" font-size="39.5" font-family="Liberation Serif" style="stroke-width:0.3px">ρ</text>
<rect x="205.80" y="438.40" width="19.5" height="3.0" fill="#000"/>
<rect x="205.80" y="446.40" width="19.5" height="3.2" fill="#000"/>
<text x="235.42" y="453.50" font-size="38.0">0.11,</text>
<text x="331.62" y="453.50" font-size="38.0" font-style="italic">p</text>
<rect x="361.67" y="438.40" width="19.5" height="3.0" fill="#000"/>
<rect x="361.67" y="446.40" width="19.5" height="3.2" fill="#000"/>
<text x="391.19" y="453.50" font-size="38.0">0.29</text>
<text transform="translate(594.32,453.30) scale(1.06,1)" font-size="39.5" font-family="Liberation Serif" style="stroke-width:0.3px">ρ</text>
<rect x="626.40" y="438.20" width="19.5" height="3.0" fill="#000"/>
<rect x="626.40" y="446.20" width="19.5" height="3.2" fill="#000"/>
<text x="656.02" y="453.30" font-size="38.0">0.18,</text>
<text x="752.26" y="453.30" font-size="38.0" font-style="italic">p</text>
<rect x="782.31" y="438.20" width="19.5" height="3.0" fill="#000"/>
<rect x="782.31" y="446.20" width="19.5" height="3.2" fill="#000"/>
<text x="811.83" y="453.30" font-size="38.0">0.094</text>
<text transform="translate(1015.12,453.30) scale(1.06,1)" font-size="39.5" font-family="Liberation Serif" style="stroke-width:0.3px">ρ</text>
<rect x="1047.20" y="438.20" width="19.5" height="3.0" fill="#000"/>
<rect x="1047.20" y="446.20" width="19.5" height="3.2" fill="#000"/>
<rect x="1079.50" y="443.60" width="17.3" height="2.3" fill="#000"/>
<text x="1103.72" y="453.30" font-size="38.0">0.13,</text>
<text x="1199.96" y="453.30" font-size="38.0" font-style="italic">p</text>
<rect x="1230.01" y="438.20" width="19.5" height="3.0" fill="#000"/>
<rect x="1230.01" y="446.20" width="19.5" height="3.2" fill="#000"/>
<text x="1259.53" y="453.30" font-size="38.0">0.25</text>
<text transform="translate(174.32,778.30) scale(1.06,1)" font-size="39.5" font-family="Liberation Serif" style="stroke-width:0.3px">ρ</text>
<rect x="206.40" y="763.20" width="19.5" height="3.0" fill="#000"/>
<rect x="206.40" y="771.20" width="19.5" height="3.2" fill="#000"/>
<rect x="238.70" y="768.60" width="17.3" height="2.3" fill="#000"/>
<text x="262.92" y="778.30" font-size="38.0">0.014,</text>
<text x="380.29" y="778.30" font-size="38.0" font-style="italic">p</text>
<rect x="410.34" y="763.20" width="19.5" height="3.0" fill="#000"/>
<rect x="410.34" y="771.20" width="19.5" height="3.2" fill="#000"/>
<text x="439.86" y="778.30" font-size="38.0">0.97</text>
<text transform="translate(594.32,777.50) scale(1.06,1)" font-size="39.5" font-family="Liberation Serif" style="stroke-width:0.3px">ρ</text>
<rect x="626.40" y="762.40" width="19.5" height="3.0" fill="#000"/>
<rect x="626.40" y="770.40" width="19.5" height="3.2" fill="#000"/>
<text x="656.02" y="777.50" font-size="38.0">0.17,</text>
<text x="752.26" y="777.50" font-size="38.0" font-style="italic">p</text>
<rect x="782.31" y="762.40" width="19.5" height="3.0" fill="#000"/>
<rect x="782.31" y="770.40" width="19.5" height="3.2" fill="#000"/>
<text x="811.83" y="777.50" font-size="38.0">0.59</text>
<text transform="translate(1015.12,777.70) scale(1.06,1)" font-size="39.5" font-family="Liberation Serif" style="stroke-width:0.3px">ρ</text>
<rect x="1047.20" y="762.60" width="19.5" height="3.0" fill="#000"/>
<rect x="1047.20" y="770.60" width="19.5" height="3.2" fill="#000"/>
<rect x="1079.50" y="768.00" width="17.3" height="2.3" fill="#000"/>
<text x="1103.72" y="777.70" font-size="38.0">0.57,</text>
<text x="1199.96" y="777.70" font-size="38.0" font-style="italic">p</text>
<rect x="1230.01" y="762.60" width="19.5" height="3.0" fill="#000"/>
<rect x="1230.01" y="770.60" width="19.5" height="3.2" fill="#000"/>
<text x="1259.53" y="777.70" font-size="38.0">0.12</text>
<text transform="translate(174.32,1069.10) scale(1.06,1)" font-size="39.5" font-family="Liberation Serif" style="stroke-width:0.3px">ρ</text>
<rect x="206.40" y="1054.00" width="19.5" height="3.0" fill="#000"/>
<rect x="206.40" y="1062.00" width="19.5" height="3.2" fill="#000"/>
<text x="236.02" y="1069.10" font-size="38.0">0.015,</text>
<text x="353.39" y="1069.10" font-size="38.0" font-style="italic">p</text>
<rect x="383.44" y="1054.00" width="19.5" height="3.0" fill="#000"/>
<rect x="383.44" y="1062.00" width="19.5" height="3.2" fill="#000"/>
<text x="412.96" y="1069.10" font-size="38.0">0.82</text>
<text transform="translate(594.32,1069.10) scale(1.06,1)" font-size="39.5" font-family="Liberation Serif" style="stroke-width:0.3px">ρ</text>
<rect x="626.40" y="1054.00" width="19.5" height="3.0" fill="#000"/>
<rect x="626.40" y="1062.00" width="19.5" height="3.2" fill="#000"/>
<rect x="658.70" y="1059.40" width="17.3" height="2.3" fill="#000"/>
<text x="682.92" y="1069.10" font-size="38.0">0.036,</text>
<text x="800.29" y="1069.10" font-size="38.0" font-style="italic">p</text>
<rect x="830.34" y="1054.00" width="19.5" height="3.0" fill="#000"/>
<rect x="830.34" y="1062.00" width="19.5" height="3.2" fill="#000"/>
<text x="859.86" y="1069.10" font-size="38.0">0.59</text>
<text transform="translate(1015.12,1069.10) scale(1.06,1)" font-size="39.5" font-family="Liberation Serif" style="stroke-width:0.3px">ρ</text>
<rect x="1047.20" y="1054.00" width="19.5" height="3.0" fill="#000"/>
<rect x="1047.20" y="1062.00" width="19.5" height="3.2" fill="#000"/>
<rect x="1079.50" y="1059.40" width="17.3" height="2.3" fill="#000"/>
<text x="1103.72" y="1069.10" font-size="38.0">0.016,</text>
<text x="1221.09" y="1069.10" font-size="38.0" font-style="italic">p</text>
<rect x="1251.14" y="1054.00" width="19.5" height="3.0" fill="#000"/>
<rect x="1251.14" y="1062.00" width="19.5" height="3.2" fill="#000"/>
<text x="1280.66" y="1069.10" font-size="38.0">0.82</text>
<text transform="translate(174.32,1377.40) scale(1.06,1)" font-size="39.5" font-family="Liberation Serif" style="stroke-width:0.3px">ρ</text>
<rect x="206.40" y="1362.30" width="19.5" height="3.0" fill="#000"/>
<rect x="206.40" y="1370.30" width="19.5" height="3.2" fill="#000"/>
<rect x="238.70" y="1367.70" width="17.3" height="2.3" fill="#000"/>
<text x="262.92" y="1377.40" font-size="38.0">0.18,</text>
<text x="359.16" y="1377.40" font-size="38.0" font-style="italic">p</text>
<rect x="389.21" y="1362.30" width="19.5" height="3.0" fill="#000"/>
<rect x="389.21" y="1370.30" width="19.5" height="3.2" fill="#000"/>
<text x="418.73" y="1377.40" font-size="38.0">0.0076</text>
<text transform="translate(594.32,1377.00) scale(1.06,1)" font-size="39.5" font-family="Liberation Serif" style="stroke-width:0.3px">ρ</text>
<rect x="626.40" y="1361.90" width="19.5" height="3.0" fill="#000"/>
<rect x="626.40" y="1369.90" width="19.5" height="3.2" fill="#000"/>
<text x="656.02" y="1377.00" font-size="38.0">0.0022,</text>
<text x="794.52" y="1377.00" font-size="38.0" font-style="italic">p</text>
<rect x="824.57" y="1361.90" width="19.5" height="3.0" fill="#000"/>
<rect x="824.57" y="1369.90" width="19.5" height="3.2" fill="#000"/>
<text x="854.08" y="1377.00" font-size="38.0">0.97</text>
<text transform="translate(1015.12,1377.00) scale(1.06,1)" font-size="39.5" font-family="Liberation Serif" style="stroke-width:0.3px">ρ</text>
<rect x="1047.20" y="1361.90" width="19.5" height="3.0" fill="#000"/>
<rect x="1047.20" y="1369.90" width="19.5" height="3.2" fill="#000"/>
<rect x="1079.50" y="1367.30" width="17.3" height="2.3" fill="#000"/>
<text x="1103.72" y="1377.00" font-size="38.0">0.17,</text>
<text x="1199.96" y="1377.00" font-size="38.0" font-style="italic">p</text>
<rect x="1230.01" y="1361.90" width="19.5" height="3.0" fill="#000"/>
<rect x="1230.01" y="1369.90" width="19.5" height="3.2" fill="#000"/>
<text x="1259.53" y="1377.00" font-size="38.0">0.013</text>
<polygon points="174.8,146.1 181.0,147.4 187.3,148.7 193.5,150.0 199.7,151.2 206.0,152.5 212.2,153.8 218.5,155.0 224.7,156.2 230.9,157.5 237.2,158.7 243.4,159.9 249.6,161.0 255.9,162.2 262.1,163.3 268.4,164.4 274.6,165.5 280.8,166.5 287.1,167.4 293.3,168.4 299.5,169.2 305.8,170.1 312.0,170.9 318.2,171.6 324.5,172.4 330.7,173.1 337.0,173.8 343.2,174.5 349.4,175.1 355.7,175.7 361.9,176.4 368.1,177.0 374.4,177.6 380.6,178.1 386.8,178.7 393.1,179.3 399.3,179.8 405.6,180.4 411.8,180.9 418.0,181.4 424.3,181.9 430.5,182.5 436.7,183.0 443.0,183.5 449.2,184.0 455.4,184.5 461.7,185.0 467.9,185.5 474.2,186.0 480.4,186.5 486.6,187.0 492.9,187.5 499.1,187.9 505.3,188.4 511.6,188.9 517.8,189.4 524.1,189.9 530.3,190.4 536.5,190.8 542.8,191.3 549.0,191.8 549.0,224.0 542.8,222.8 536.5,221.6 530.3,220.4 524.1,219.2 517.8,218.0 511.6,216.8 505.3,215.6 499.1,214.4 492.9,213.2 486.6,212.0 480.4,210.8 474.2,209.6 467.9,208.4 461.7,207.2 455.4,206.1 449.2,204.9 443.0,203.7 436.7,202.5 430.5,201.4 424.3,200.2 418.0,199.0 411.8,197.9 405.6,196.7 399.3,195.6 393.1,194.5 386.8,193.3 380.6,192.2 374.4,191.1 368.1,190.0 361.9,188.9 355.7,187.9 349.4,186.8 343.2,185.8 337.0,184.8 330.7,183.8 324.5,182.8 318.2,181.9 312.0,181.0 305.8,180.1 299.5,179.2 293.3,178.4 287.1,177.7 280.8,176.9 274.6,176.3 268.4,175.6 262.1,175.0 255.9,174.5 249.6,174.0 243.4,173.4 237.2,172.9 230.9,172.5 224.7,172.0 218.5,171.6 212.2,171.1 206.0,170.7 199.7,170.3 193.5,169.9 187.3,169.5 181.0,169.1 174.8,168.7" fill="#999" fill-opacity="0.42"/>
<polygon points="595.9,153.3 602.1,154.7 608.4,156.1 614.6,157.5 620.8,158.9 627.1,160.2 633.3,161.5 639.5,162.8 645.8,164.1 652.0,165.3 658.2,166.5 664.5,167.7 670.7,168.8 676.9,169.8 683.2,170.8 689.4,171.7 695.6,172.6 701.9,173.5 708.1,174.3 714.3,175.2 720.6,176.0 726.8,176.7 733.0,177.5 739.3,178.3 745.5,179.0 751.7,179.7 758.0,180.4 764.2,181.1 770.4,181.8 776.7,182.5 782.9,183.2 789.1,183.8 795.4,184.5 801.6,185.1 807.8,185.8 814.1,186.4 820.3,187.1 826.5,187.7 832.8,188.4 839.0,189.0 845.2,189.6 851.5,190.3 857.7,190.9 863.9,191.5 870.2,192.1 876.4,192.8 882.6,193.4 888.9,194.0 895.1,194.6 901.3,195.3 907.6,195.9 913.8,196.5 920.0,197.1 926.3,197.7 932.5,198.3 938.7,198.9 945.0,199.6 951.2,200.2 957.4,200.8 963.7,201.4 969.9,202.0 969.9,237.6 963.7,236.3 957.4,234.9 951.2,233.6 945.0,232.3 938.7,231.0 932.5,229.7 926.3,228.3 920.0,227.0 913.8,225.7 907.6,224.4 901.3,223.0 895.1,221.7 888.9,220.4 882.6,219.1 876.4,217.8 870.2,216.5 863.9,215.2 857.7,213.8 851.5,212.5 845.2,211.2 839.0,209.9 832.8,208.6 826.5,207.3 820.3,206.0 814.1,204.7 807.8,203.5 801.6,202.2 795.4,200.9 789.1,199.6 782.9,198.3 776.7,197.1 770.4,195.8 764.2,194.6 758.0,193.3 751.7,192.1 745.5,190.9 739.3,189.7 733.0,188.5 726.8,187.3 720.6,186.2 714.3,185.0 708.1,183.9 701.9,182.8 695.6,181.8 689.4,180.8 683.2,179.8 676.9,178.8 670.7,177.9 664.5,177.0 658.2,176.2 652.0,175.5 645.8,174.8 639.5,174.1 633.3,173.5 627.1,172.9 620.8,172.3 614.6,171.7 608.4,171.2 602.1,170.6 595.9,170.1" fill="#999" fill-opacity="0.42"/>
<polygon points="1016.2,173.3 1022.4,173.4 1028.7,173.5 1034.9,173.6 1041.1,173.6 1047.4,173.6 1053.6,173.5 1059.8,173.4 1066.1,173.2 1072.3,172.9 1078.5,172.5 1084.7,172.1 1091.0,171.5 1097.2,170.8 1103.4,170.1 1109.7,169.3 1115.9,168.4 1122.1,167.5 1128.4,166.5 1134.6,165.5 1140.8,164.5 1147.1,163.5 1153.3,162.4 1159.5,161.3 1165.8,160.3 1172.0,159.2 1178.2,158.1 1184.5,157.0 1190.7,155.9 1196.9,154.8 1203.2,153.6 1209.4,152.5 1215.6,151.4 1221.8,150.3 1228.1,149.1 1234.3,148.0 1240.5,146.9 1246.8,145.7 1253.0,144.6 1259.2,143.4 1265.5,142.3 1271.7,141.2 1277.9,140.0 1284.2,138.9 1290.4,137.7 1296.6,136.6 1302.9,135.4 1309.1,134.3 1315.3,133.1 1321.6,132.0 1327.8,130.8 1334.0,129.7 1340.2,128.5 1346.5,127.4 1352.7,126.2 1358.9,125.1 1365.2,123.9 1371.4,122.8 1377.6,121.6 1383.9,120.5 1390.1,119.3 1390.1,191.3 1383.9,191.0 1377.6,190.8 1371.4,190.5 1365.2,190.2 1358.9,190.0 1352.7,189.7 1346.5,189.5 1340.2,189.2 1334.0,188.9 1327.8,188.7 1321.6,188.4 1315.3,188.2 1309.1,187.9 1302.9,187.6 1296.6,187.4 1290.4,187.1 1284.2,186.9 1277.9,186.6 1271.7,186.4 1265.5,186.1 1259.2,185.8 1253.0,185.6 1246.8,185.3 1240.5,185.1 1234.3,184.9 1228.1,184.6 1221.8,184.4 1215.6,184.1 1209.4,183.9 1203.2,183.7 1196.9,183.4 1190.7,183.2 1184.5,183.0 1178.2,182.8 1172.0,182.6 1165.8,182.4 1159.5,182.2 1153.3,182.0 1147.1,181.8 1140.8,181.7 1134.6,181.6 1128.4,181.5 1122.1,181.4 1115.9,181.4 1109.7,181.4 1103.4,181.5 1097.2,181.6 1091.0,181.8 1084.7,182.1 1078.5,182.6 1072.3,183.1 1066.1,183.7 1059.8,184.4 1053.6,185.1 1047.4,186.0 1041.1,186.8 1034.9,187.8 1028.7,188.7 1022.4,189.7 1016.2,190.7" fill="#999" fill-opacity="0.42"/>
<polygon points="174.7,598.2 180.9,598.9 187.2,599.5 193.4,600.2 199.6,600.9 205.9,601.5 212.1,602.2 218.3,602.8 224.6,603.5 230.8,604.1 237.0,604.7 243.3,605.3 249.5,605.9 255.7,606.5 262.0,607.0 268.2,607.5 274.4,608.0 280.7,608.5 286.9,608.9 293.1,609.3 299.4,609.7 305.6,610.0 311.8,610.2 318.1,610.5 324.3,610.6 330.5,610.7 336.8,610.7 343.0,610.6 349.2,610.5 355.5,610.3 361.7,610.0 367.9,609.7 374.2,609.4 380.4,609.1 386.6,608.7 392.9,608.3 399.1,607.9 405.3,607.5 411.6,607.1 417.8,606.7 424.0,606.2 430.3,605.8 436.5,605.3 442.7,604.8 449.0,604.4 455.2,603.9 461.4,603.4 467.7,602.9 473.9,602.4 480.1,601.9 486.4,601.4 492.6,600.9 498.8,600.4 505.1,599.9 511.3,599.4 517.5,598.9 523.8,598.4 530.0,597.9 536.2,597.4 542.5,596.9 548.7,596.4 548.7,648.6 542.5,647.8 536.2,646.9 530.0,646.1 523.8,645.3 517.5,644.4 511.3,643.6 505.1,642.8 498.8,641.9 492.6,641.1 486.4,640.3 480.1,639.5 473.9,638.7 467.7,637.8 461.4,637.0 455.2,636.2 449.0,635.4 442.7,634.6 436.5,633.8 430.3,633.0 424.0,632.3 417.8,631.5 411.6,630.7 405.3,630.0 399.1,629.2 392.9,628.5 386.6,627.8 380.4,627.1 374.2,626.4 367.9,625.8 361.7,625.2 355.5,624.6 349.2,624.1 343.0,623.6 336.8,623.2 330.5,622.9 324.3,622.6 318.1,622.5 311.8,622.3 305.6,622.3 299.4,622.3 293.1,622.3 286.9,622.4 280.7,622.5 274.4,622.6 268.2,622.8 262.0,623.0 255.7,623.2 249.5,623.4 243.3,623.7 237.0,624.0 230.8,624.3 224.6,624.6 218.3,624.9 212.1,625.2 205.9,625.5 199.6,625.8 193.4,626.2 187.2,626.5 180.9,626.8 174.7,627.2" fill="#999" fill-opacity="0.42"/>
<polygon points="595.7,615.6 601.8,615.8 607.9,616.0 614.1,616.1 620.2,616.1 626.3,615.9 632.4,615.5 638.5,614.9 644.7,614.1 650.8,613.2 656.9,612.3 663.0,611.3 669.1,610.3 675.3,609.2 681.4,608.1 687.5,607.0 693.6,605.9 699.7,604.7 705.9,603.5 712.0,602.2 718.1,601.0 724.2,599.7 730.3,598.5 736.5,597.2 742.6,595.9 748.7,594.6 754.8,593.3 760.9,592.0 767.1,590.7 773.2,589.4 779.3,588.1 785.4,586.7 791.5,585.4 797.7,584.1 803.8,582.7 809.9,581.4 816.0,580.1 822.1,578.7 828.3,577.4 834.4,576.0 840.5,574.7 846.6,573.3 852.7,572.0 858.9,570.6 865.0,569.3 871.1,567.9 877.2,566.6 883.3,565.2 889.5,563.9 895.6,562.5 901.7,561.1 907.8,559.8 913.9,558.4 920.1,557.0 926.2,555.7 932.3,554.3 938.4,553.0 944.5,551.6 950.7,550.2 956.8,548.9 962.9,547.5 962.9,608.5 956.8,608.8 950.7,609.0 944.5,609.3 938.4,609.5 932.3,609.8 926.2,610.0 920.1,610.3 913.9,610.5 907.8,610.8 901.7,611.1 895.6,611.3 889.5,611.6 883.3,611.9 877.2,612.1 871.1,612.4 865.0,612.6 858.9,612.9 852.7,613.2 846.6,613.4 840.5,613.7 834.4,614.0 828.3,614.3 822.1,614.5 816.0,614.8 809.9,615.1 803.8,615.4 797.7,615.7 791.5,615.9 785.4,616.2 779.3,616.5 773.2,616.8 767.1,617.1 760.9,617.4 754.8,617.7 748.7,618.1 742.6,618.4 736.5,618.7 730.3,619.1 724.2,619.4 718.1,619.8 712.0,620.2 705.9,620.6 699.7,621.0 693.6,621.4 687.5,621.9 681.4,622.4 675.3,622.9 669.1,623.5 663.0,624.1 656.9,624.7 650.8,625.4 644.7,626.1 638.5,626.9 632.4,627.9 626.3,629.2 620.2,630.6 614.1,632.2 607.9,634.0 601.8,635.7 595.7,637.6" fill="#999" fill-opacity="0.42"/>
<polygon points="1027.8,598.9 1033.8,600.8 1039.9,602.7 1045.9,604.3 1052.0,605.6 1058.0,606.6 1064.0,607.1 1070.1,607.4 1076.1,607.7 1082.2,607.9 1088.2,608.0 1094.2,608.1 1100.3,608.1 1106.3,608.1 1112.4,608.0 1118.4,607.9 1124.4,607.7 1130.5,607.6 1136.5,607.4 1142.6,607.2 1148.6,607.0 1154.6,606.8 1160.7,606.6 1166.7,606.4 1172.8,606.2 1178.8,605.9 1184.8,605.7 1190.9,605.5 1196.9,605.2 1203.0,605.0 1209.0,604.7 1215.0,604.4 1221.1,604.2 1227.1,603.9 1233.2,603.7 1239.2,603.4 1245.2,603.1 1251.3,602.9 1257.3,602.6 1263.4,602.3 1269.4,602.1 1275.4,601.8 1281.5,601.5 1287.5,601.2 1293.6,601.0 1299.6,600.7 1305.6,600.4 1311.7,600.1 1317.7,599.9 1323.8,599.6 1329.8,599.3 1335.8,599.0 1341.9,598.7 1347.9,598.5 1354.0,598.2 1360.0,597.9 1366.0,597.6 1372.1,597.3 1378.1,597.1 1384.2,596.8 1390.2,596.5 1390.2,683.5 1384.2,682.2 1378.1,680.9 1372.1,679.7 1366.0,678.4 1360.0,677.1 1354.0,675.8 1347.9,674.6 1341.9,673.3 1335.8,672.0 1329.8,670.7 1323.8,669.5 1317.7,668.2 1311.7,666.9 1305.6,665.6 1299.6,664.4 1293.6,663.1 1287.5,661.8 1281.5,660.5 1275.4,659.3 1269.4,658.0 1263.4,656.7 1257.3,655.5 1251.3,654.2 1245.2,652.9 1239.2,651.7 1233.2,650.4 1227.1,649.2 1221.1,647.9 1215.0,646.6 1209.0,645.4 1203.0,644.1 1196.9,642.9 1190.9,641.7 1184.8,640.4 1178.8,639.2 1172.8,637.9 1166.7,636.7 1160.7,635.5 1154.6,634.3 1148.6,633.1 1142.6,631.9 1136.5,630.7 1130.5,629.6 1124.4,628.4 1118.4,627.3 1112.4,626.2 1106.3,625.1 1100.3,624.1 1094.2,623.1 1088.2,622.1 1082.2,621.2 1076.1,620.4 1070.1,619.7 1064.0,619.1 1058.0,618.6 1052.0,618.5 1045.9,618.9 1039.9,619.5 1033.8,620.3 1027.8,621.3" fill="#999" fill-opacity="0.42"/>
<polygon points="253.5,807.2 256.1,808.7 258.7,810.1 261.3,811.5 263.9,812.9 266.6,814.3 269.2,815.6 271.8,816.9 274.4,818.1 277.0,819.4 279.6,820.5 282.2,821.7 284.8,822.8 287.4,823.8 290.0,824.8 292.6,825.7 295.3,826.5 297.9,827.3 300.5,828.0 303.1,828.6 305.7,829.1 308.3,829.6 310.9,829.9 313.5,830.2 316.1,830.3 318.8,830.4 321.4,830.3 324.0,830.2 326.6,830.0 329.2,829.7 331.8,829.3 334.4,828.8 337.0,828.2 339.6,827.6 342.2,826.8 344.9,826.1 347.5,825.2 350.1,824.3 352.7,823.3 355.3,822.3 357.9,821.2 360.5,820.0 363.1,818.8 365.7,817.6 368.3,816.3 371.0,815.0 373.6,813.7 376.2,812.3 378.8,810.9 381.4,809.5 384.0,808.1 386.6,806.6 389.2,805.1 391.8,803.6 394.4,802.0 397.1,800.5 399.7,798.9 402.3,797.3 404.9,795.7 407.5,794.1 410.1,792.5 410.1,936.1 407.5,934.6 404.9,933.1 402.3,931.7 399.7,930.3 397.1,928.8 394.4,927.4 391.8,926.0 389.2,924.7 386.6,923.3 384.0,922.0 381.4,920.7 378.8,919.4 376.2,918.1 373.6,916.9 371.0,915.7 368.3,914.5 365.7,913.4 363.1,912.3 360.5,911.3 357.9,910.3 355.3,909.4 352.7,908.5 350.1,907.6 347.5,906.8 344.9,906.1 342.2,905.5 339.6,904.9 337.0,904.4 334.4,904.0 331.8,903.6 329.2,903.4 326.6,903.2 324.0,903.1 321.4,903.1 318.8,903.2 316.1,903.4 313.5,903.7 310.9,904.1 308.3,904.6 305.7,905.2 303.1,905.9 300.5,906.7 297.9,907.5 295.3,908.4 292.6,909.4 290.0,910.4 287.4,911.6 284.8,912.7 282.2,914.0 279.6,915.2 277.0,916.5 274.4,917.9 271.8,919.3 269.2,920.7 266.6,922.2 263.9,923.7 261.3,925.3 258.7,926.8 256.1,928.4 253.5,930.0" fill="#999" fill-opacity="0.42"/>
<polygon points="595.7,848.8 601.9,848.6 608.2,848.4 614.4,848.2 620.6,847.8 626.8,847.5 633.1,847.0 639.3,846.5 645.5,845.9 651.7,845.2 658.0,844.5 664.2,843.6 670.4,842.7 676.6,841.6 682.9,840.5 689.1,839.2 695.3,837.8 701.5,836.3 707.8,834.7 714.0,833.1 720.2,831.4 726.4,829.5 732.7,827.6 738.9,825.7 745.1,823.7 751.3,821.6 757.6,819.4 763.8,817.2 770.0,814.9 776.2,812.5 782.5,810.2 788.7,807.7 794.9,805.2 801.1,802.7 807.4,800.2 813.6,797.6 819.8,794.9 826.0,792.3 832.2,789.6 838.5,786.8 844.7,784.1 850.9,781.3 857.2,778.5 863.4,775.7 869.6,772.9 875.8,770.0 882.1,767.2 888.3,764.3 894.5,761.4 900.7,758.5 907.0,755.5 913.2,752.6 919.4,749.6 925.6,746.7 931.9,743.7 938.1,740.7 944.3,737.7 950.5,734.7 956.8,731.7 963.0,728.7 969.2,725.7 969.2,886.1 963.0,886.1 956.8,886.2 950.5,886.2 944.3,886.2 938.1,886.3 931.9,886.4 925.6,886.4 919.4,886.5 913.2,886.6 907.0,886.7 900.7,886.8 894.5,887.0 888.3,887.1 882.1,887.3 875.8,887.4 869.6,887.6 863.4,887.8 857.2,888.1 850.9,888.3 844.7,888.6 838.5,888.9 832.2,889.2 826.0,889.5 819.8,889.9 813.6,890.3 807.4,890.8 801.1,891.3 794.9,891.8 788.7,892.3 782.5,892.9 776.2,893.6 770.0,894.3 763.8,895.1 757.6,895.9 751.3,896.8 745.1,897.7 738.9,898.7 732.7,899.8 726.4,901.0 720.2,902.2 714.0,903.5 707.8,904.9 701.5,906.3 695.3,907.9 689.1,909.5 682.9,911.3 676.6,913.2 670.4,915.2 664.2,917.3 658.0,919.5 651.7,921.8 645.5,924.1 639.3,926.6 633.1,929.1 626.8,931.7 620.6,934.4 614.4,937.1 608.2,939.9 601.9,942.7 595.7,945.6" fill="#999" fill-opacity="0.42"/>
<polygon points="1024.1,722.4 1025.2,726.4 1026.3,730.4 1027.4,734.3 1028.5,738.3 1029.5,742.2 1030.6,746.1 1031.7,750.0 1032.8,753.8 1033.9,757.6 1035.0,761.4 1036.1,765.2 1037.2,768.9 1038.3,772.6 1039.4,776.2 1040.4,779.8 1041.5,783.4 1042.6,786.9 1043.7,790.3 1044.8,793.6 1045.9,796.9 1047.0,800.1 1048.1,803.2 1049.2,806.2 1050.3,809.1 1051.3,811.9 1052.4,814.6 1053.5,817.1 1054.6,819.5 1055.7,821.8 1056.8,823.9 1057.9,825.9 1059.0,827.7 1060.1,829.4 1061.2,831.1 1062.2,832.6 1063.3,833.9 1064.4,835.2 1065.5,836.4 1066.6,837.5 1067.7,838.5 1068.8,839.4 1069.9,840.3 1071.0,841.1 1072.1,841.8 1073.2,842.4 1074.2,843.0 1075.3,843.5 1076.4,844.0 1077.5,844.4 1078.6,844.8 1079.7,845.2 1080.8,845.5 1081.9,845.8 1083.0,846.1 1084.0,846.3 1085.1,846.5 1086.2,846.7 1087.3,846.8 1088.4,847.0 1089.5,847.1 1089.5,989.9 1088.4,986.3 1087.3,982.6 1086.2,979.0 1085.1,975.4 1084.0,971.9 1083.0,968.3 1081.9,964.8 1080.8,961.4 1079.7,957.9 1078.6,954.5 1077.5,951.1 1076.4,947.8 1075.3,944.5 1074.2,941.3 1073.2,938.1 1072.1,935.0 1071.0,931.9 1069.9,928.9 1068.8,926.0 1067.7,923.1 1066.6,920.4 1065.5,917.7 1064.4,915.1 1063.3,912.7 1062.2,910.3 1061.2,908.0 1060.1,905.9 1059.0,903.8 1057.9,901.9 1056.8,900.1 1055.7,898.4 1054.6,896.9 1053.5,895.6 1052.4,894.4 1051.3,893.3 1050.3,892.3 1049.2,891.4 1048.1,890.7 1047.0,890.0 1045.9,889.4 1044.8,888.9 1043.7,888.5 1042.6,888.2 1041.5,887.9 1040.4,887.7 1039.4,887.5 1038.3,887.4 1037.2,887.3 1036.1,887.3 1035.0,887.2 1033.9,887.3 1032.8,887.3 1031.7,887.4 1030.6,887.5 1029.5,887.7 1028.5,887.8 1027.4,888.0 1026.3,888.2 1025.2,888.4 1024.1,888.6" fill="#999" fill-opacity="0.42"/>
<polygon points="186.1,1185.7 190.6,1186.1 195.1,1186.5 199.5,1186.9 204.0,1187.2 208.5,1187.6 213.0,1188.0 217.5,1188.3 221.9,1188.7 226.4,1189.0 230.9,1189.4 235.4,1189.7 239.9,1190.1 244.3,1190.4 248.8,1190.7 253.3,1191.0 257.8,1191.2 262.3,1191.5 266.7,1191.7 271.2,1192.0 275.7,1192.2 280.2,1192.3 284.7,1192.5 289.1,1192.6 293.6,1192.6 298.1,1192.7 302.6,1192.7 307.1,1192.6 311.5,1192.5 316.0,1192.4 320.5,1192.3 325.0,1192.1 329.5,1191.8 333.9,1191.6 338.4,1191.3 342.9,1191.0 347.4,1190.7 351.9,1190.3 356.3,1190.0 360.8,1189.6 365.3,1189.3 369.8,1188.9 374.3,1188.5 378.7,1188.1 383.2,1187.7 387.7,1187.3 392.2,1186.9 396.7,1186.5 401.1,1186.0 405.6,1185.6 410.1,1185.2 414.6,1184.8 419.1,1184.3 423.5,1183.9 428.0,1183.5 432.5,1183.0 437.0,1182.6 441.5,1182.1 445.9,1181.7 450.4,1181.2 454.9,1180.8 454.9,1214.8 450.4,1214.3 445.9,1213.9 441.5,1213.4 437.0,1213.0 432.5,1212.6 428.0,1212.1 423.5,1211.7 419.1,1211.2 414.6,1210.8 410.1,1210.4 405.6,1209.9 401.1,1209.5 396.7,1209.1 392.2,1208.6 387.7,1208.2 383.2,1207.8 378.7,1207.4 374.3,1207.0 369.8,1206.6 365.3,1206.2 360.8,1205.8 356.3,1205.5 351.9,1205.1 347.4,1204.8 342.9,1204.4 338.4,1204.1 333.9,1203.8 329.5,1203.6 325.0,1203.3 320.5,1203.1 316.0,1203.0 311.5,1202.8 307.1,1202.7 302.6,1202.7 298.1,1202.7 293.6,1202.7 289.1,1202.8 284.7,1202.9 280.2,1203.0 275.7,1203.2 271.2,1203.4 266.7,1203.6 262.3,1203.8 257.8,1204.1 253.3,1204.3 248.8,1204.6 244.3,1204.9 239.9,1205.2 235.4,1205.5 230.9,1205.9 226.4,1206.2 221.9,1206.6 217.5,1206.9 213.0,1207.3 208.5,1207.6 204.0,1208.0 199.5,1208.4 195.1,1208.7 190.6,1209.1 186.1,1209.5" fill="#999" fill-opacity="0.42"/>
<polygon points="595.9,1190.8 601.9,1191.0 607.9,1191.3 613.9,1191.5 620.0,1191.7 626.0,1191.9 632.0,1192.0 638.0,1192.2 644.0,1192.3 650.0,1192.4 656.0,1192.5 662.0,1192.5 668.1,1192.5 674.1,1192.5 680.1,1192.4 686.1,1192.3 692.1,1192.0 698.1,1191.7 704.1,1191.3 710.2,1190.8 716.2,1190.3 722.2,1189.8 728.2,1189.2 734.2,1188.6 740.2,1188.0 746.2,1187.3 752.2,1186.7 758.3,1186.0 764.3,1185.3 770.3,1184.6 776.3,1183.9 782.3,1183.2 788.3,1182.5 794.3,1181.8 800.4,1181.1 806.4,1180.4 812.4,1179.6 818.4,1178.9 824.4,1178.2 830.4,1177.4 836.4,1176.7 842.4,1176.0 848.5,1175.3 854.5,1174.5 860.5,1173.8 866.5,1173.0 872.5,1172.3 878.5,1171.6 884.5,1170.8 890.6,1170.1 896.6,1169.3 902.6,1168.6 908.6,1167.9 914.6,1167.1 920.6,1166.4 926.6,1165.6 932.6,1164.9 938.7,1164.1 944.7,1163.4 950.7,1162.6 956.7,1161.9 956.7,1223.3 950.7,1222.7 944.7,1222.2 938.7,1221.6 932.6,1221.1 926.6,1220.5 920.6,1219.9 914.6,1219.4 908.6,1218.8 902.6,1218.3 896.6,1217.7 890.6,1217.2 884.5,1216.6 878.5,1216.1 872.5,1215.5 866.5,1215.0 860.5,1214.4 854.5,1213.9 848.5,1213.3 842.4,1212.8 836.4,1212.2 830.4,1211.7 824.4,1211.1 818.4,1210.6 812.4,1210.0 806.4,1209.5 800.4,1209.0 794.3,1208.5 788.3,1207.9 782.3,1207.4 776.3,1206.9 770.3,1206.4 764.3,1205.9 758.3,1205.4 752.2,1204.9 746.2,1204.4 740.2,1204.0 734.2,1203.5 728.2,1203.1 722.2,1202.7 716.2,1202.3 710.2,1202.0 704.1,1201.7 698.1,1201.5 692.1,1201.4 686.1,1201.3 680.1,1201.4 674.1,1201.5 668.1,1201.7 662.0,1201.8 656.0,1202.1 650.0,1202.3 644.0,1202.6 638.0,1202.9 632.0,1203.3 626.0,1203.6 620.0,1204.0 613.9,1204.4 607.9,1204.8 601.9,1205.2 595.9,1205.6" fill="#999" fill-opacity="0.42"/>
<polygon points="1026.7,1187.0 1030.8,1187.6 1034.9,1188.2 1039.0,1188.8 1043.1,1189.3 1047.2,1189.9 1051.3,1190.4 1055.4,1190.9 1059.5,1191.4 1063.6,1191.9 1067.7,1192.3 1071.8,1192.7 1075.9,1193.0 1080.0,1193.3 1084.1,1193.5 1088.2,1193.7 1092.3,1193.8 1096.4,1193.9 1100.5,1193.9 1104.6,1193.9 1108.7,1193.9 1112.8,1193.8 1116.9,1193.7 1121.0,1193.6 1125.1,1193.4 1129.2,1193.3 1133.3,1193.1 1137.4,1192.9 1141.5,1192.8 1145.6,1192.6 1149.8,1192.3 1153.9,1192.1 1158.0,1191.9 1162.1,1191.7 1166.2,1191.5 1170.3,1191.2 1174.4,1191.0 1178.5,1190.7 1182.6,1190.5 1186.7,1190.2 1190.8,1190.0 1194.9,1189.7 1199.0,1189.5 1203.1,1189.2 1207.2,1189.0 1211.3,1188.7 1215.4,1188.5 1219.5,1188.2 1223.6,1187.9 1227.7,1187.7 1231.8,1187.4 1235.9,1187.2 1240.0,1186.9 1244.1,1186.6 1248.2,1186.4 1252.3,1186.1 1256.4,1185.8 1260.5,1185.6 1264.6,1185.3 1268.7,1185.0 1272.8,1184.8 1272.8,1228.2 1268.7,1227.6 1264.6,1227.0 1260.5,1226.3 1256.4,1225.7 1252.3,1225.1 1248.2,1224.4 1244.1,1223.8 1240.0,1223.1 1235.9,1222.5 1231.8,1221.9 1227.7,1221.2 1223.6,1220.6 1219.5,1220.0 1215.4,1219.4 1211.3,1218.7 1207.2,1218.1 1203.1,1217.5 1199.0,1216.8 1194.9,1216.2 1190.8,1215.6 1186.7,1215.0 1182.6,1214.4 1178.5,1213.8 1174.4,1213.1 1170.3,1212.5 1166.2,1211.9 1162.1,1211.3 1158.0,1210.7 1153.9,1210.1 1149.8,1209.6 1145.6,1209.0 1141.5,1208.4 1137.4,1207.8 1133.3,1207.3 1129.2,1206.8 1125.1,1206.2 1121.0,1205.7 1116.9,1205.2 1112.8,1204.8 1108.7,1204.3 1104.6,1203.9 1100.5,1203.6 1096.4,1203.2 1092.3,1202.9 1088.2,1202.7 1084.1,1202.5 1080.0,1202.3 1075.9,1202.3 1071.8,1202.2 1067.7,1202.2 1063.6,1202.3 1059.5,1202.3 1055.4,1202.5 1051.3,1202.6 1047.2,1202.8 1043.1,1202.9 1039.0,1203.1 1034.9,1203.3 1030.8,1203.6 1026.7,1203.8" fill="#999" fill-opacity="0.42"/>
<polygon points="185.7,1482.1 190.2,1483.5 194.7,1485.0 199.2,1486.4 203.6,1487.8 208.1,1489.2 212.6,1490.6 217.1,1492.0 221.6,1493.4 226.1,1494.8 230.6,1496.2 235.1,1497.6 239.5,1499.0 244.0,1500.3 248.5,1501.6 253.0,1503.0 257.5,1504.3 262.0,1505.5 266.5,1506.8 270.9,1508.0 275.4,1509.2 279.9,1510.4 284.4,1511.5 288.9,1512.6 293.4,1513.6 297.9,1514.6 302.4,1515.6 306.8,1516.5 311.3,1517.4 315.8,1518.2 320.3,1519.0 324.8,1519.8 329.3,1520.5 333.8,1521.2 338.2,1521.9 342.7,1522.5 347.2,1523.1 351.7,1523.7 356.2,1524.3 360.7,1524.9 365.2,1525.5 369.7,1526.1 374.1,1526.6 378.6,1527.2 383.1,1527.7 387.6,1528.2 392.1,1528.8 396.6,1529.3 401.1,1529.8 405.5,1530.3 410.0,1530.8 414.5,1531.3 419.0,1531.8 423.5,1532.3 428.0,1532.8 432.5,1533.3 437.0,1533.8 441.4,1534.3 445.9,1534.7 450.4,1535.2 454.9,1535.7 454.9,1572.1 450.4,1570.7 445.9,1569.3 441.4,1567.8 437.0,1566.4 432.5,1565.0 428.0,1563.6 423.5,1562.2 419.0,1560.8 414.5,1559.4 410.0,1558.0 405.5,1556.6 401.1,1555.2 396.6,1553.8 392.1,1552.4 387.6,1551.1 383.1,1549.7 378.6,1548.3 374.1,1547.0 369.7,1545.6 365.2,1544.3 360.7,1543.0 356.2,1541.7 351.7,1540.4 347.2,1539.1 342.7,1537.8 338.2,1536.5 333.8,1535.3 329.3,1534.1 324.8,1532.9 320.3,1531.8 315.8,1530.7 311.3,1529.6 306.8,1528.6 302.4,1527.6 297.9,1526.7 293.4,1525.8 288.9,1524.9 284.4,1524.1 279.9,1523.3 275.4,1522.6 270.9,1521.9 266.5,1521.2 262.0,1520.6 257.5,1519.9 253.0,1519.3 248.5,1518.8 244.0,1518.2 239.5,1517.6 235.1,1517.1 230.6,1516.6 226.1,1516.1 221.6,1515.6 217.1,1515.1 212.6,1514.6 208.1,1514.1 203.6,1513.6 199.2,1513.1 194.7,1512.6 190.2,1512.2 185.7,1511.7" fill="#999" fill-opacity="0.42"/>
<polygon points="596.3,1509.7 602.3,1510.3 608.3,1510.8 614.3,1511.3 620.3,1511.8 626.3,1512.3 632.3,1512.8 638.4,1513.2 644.4,1513.7 650.4,1514.0 656.4,1514.4 662.4,1514.6 668.4,1514.9 674.4,1515.0 680.4,1515.1 686.4,1515.1 692.4,1515.0 698.4,1514.8 704.4,1514.4 710.5,1514.0 716.5,1513.6 722.5,1513.1 728.5,1512.6 734.5,1512.0 740.5,1511.4 746.5,1510.8 752.5,1510.2 758.5,1509.5 764.5,1508.9 770.5,1508.2 776.5,1507.6 782.6,1506.9 788.6,1506.2 794.6,1505.6 800.6,1504.9 806.6,1504.2 812.6,1503.5 818.6,1502.8 824.6,1502.1 830.6,1501.4 836.6,1500.7 842.6,1500.0 848.6,1499.3 854.7,1498.6 860.7,1497.9 866.7,1497.2 872.7,1496.5 878.7,1495.8 884.7,1495.1 890.7,1494.4 896.7,1493.7 902.7,1493.0 908.7,1492.3 914.7,1491.6 920.8,1490.9 926.8,1490.2 932.8,1489.4 938.8,1488.7 944.8,1488.0 950.8,1487.3 956.8,1486.6 956.8,1559.6 950.8,1558.8 944.8,1557.9 938.8,1557.1 932.8,1556.2 926.8,1555.4 920.8,1554.6 914.7,1553.7 908.7,1552.9 902.7,1552.0 896.7,1551.2 890.7,1550.4 884.7,1549.5 878.7,1548.7 872.7,1547.9 866.7,1547.0 860.7,1546.2 854.7,1545.4 848.6,1544.5 842.6,1543.7 836.6,1542.9 830.6,1542.0 824.6,1541.2 818.6,1540.4 812.6,1539.6 806.6,1538.7 800.6,1537.9 794.6,1537.1 788.6,1536.3 782.6,1535.5 776.5,1534.7 770.5,1533.9 764.5,1533.1 758.5,1532.4 752.5,1531.6 746.5,1530.8 740.5,1530.1 734.5,1529.4 728.5,1528.7 722.5,1528.0 716.5,1527.4 710.5,1526.8 704.4,1526.3 698.4,1525.9 692.4,1525.5 686.4,1525.2 680.4,1525.1 674.4,1525.1 668.4,1525.1 662.4,1525.2 656.4,1525.3 650.4,1525.5 644.4,1525.8 638.4,1526.1 632.3,1526.4 626.3,1526.7 620.3,1527.1 614.3,1527.5 608.3,1527.9 602.3,1528.3 596.3,1528.7" fill="#999" fill-opacity="0.42"/>
<polygon points="1026.7,1497.0 1030.8,1498.4 1034.9,1499.8 1039.0,1501.2 1043.1,1502.5 1047.2,1503.8 1051.3,1505.1 1055.4,1506.4 1059.5,1507.6 1063.6,1508.8 1067.8,1509.9 1071.9,1510.9 1076.0,1511.8 1080.1,1512.7 1084.2,1513.4 1088.3,1514.2 1092.4,1514.9 1096.5,1515.5 1100.6,1516.1 1104.7,1516.7 1108.8,1517.3 1112.9,1517.8 1117.0,1518.3 1121.1,1518.8 1125.2,1519.2 1129.3,1519.7 1133.4,1520.1 1137.5,1520.5 1141.6,1520.9 1145.7,1521.3 1149.8,1521.7 1154.0,1522.1 1158.1,1522.5 1162.2,1522.8 1166.3,1523.2 1170.4,1523.5 1174.5,1523.9 1178.6,1524.3 1182.7,1524.6 1186.8,1524.9 1190.9,1525.3 1195.0,1525.6 1199.1,1526.0 1203.2,1526.3 1207.3,1526.6 1211.4,1527.0 1215.5,1527.3 1219.6,1527.6 1223.7,1527.9 1227.8,1528.3 1232.0,1528.6 1236.1,1528.9 1240.2,1529.2 1244.3,1529.6 1248.4,1529.9 1252.5,1530.2 1256.6,1530.5 1260.7,1530.8 1264.8,1531.2 1268.9,1531.5 1273.0,1531.8 1273.0,1580.2 1268.9,1578.9 1264.8,1577.6 1260.7,1576.3 1256.6,1575.0 1252.5,1573.7 1248.4,1572.5 1244.3,1571.2 1240.2,1569.9 1236.1,1568.6 1232.0,1567.3 1227.8,1566.0 1223.7,1564.7 1219.6,1563.5 1215.5,1562.2 1211.4,1560.9 1207.3,1559.6 1203.2,1558.3 1199.1,1557.1 1195.0,1555.8 1190.9,1554.5 1186.8,1553.2 1182.7,1552.0 1178.6,1550.7 1174.5,1549.5 1170.4,1548.2 1166.3,1547.0 1162.2,1545.7 1158.1,1544.5 1154.0,1543.2 1149.8,1542.0 1145.7,1540.8 1141.6,1539.6 1137.5,1538.4 1133.4,1537.2 1129.3,1536.0 1125.2,1534.8 1121.1,1533.7 1117.0,1532.5 1112.9,1531.4 1108.8,1530.3 1104.7,1529.3 1100.6,1528.2 1096.5,1527.2 1092.4,1526.3 1088.3,1525.4 1084.2,1524.5 1080.1,1523.7 1076.0,1522.9 1071.9,1522.2 1067.8,1521.6 1063.6,1521.1 1059.5,1520.7 1055.4,1520.3 1051.3,1519.9 1047.2,1519.6 1043.1,1519.3 1039.0,1519.1 1034.9,1518.8 1030.8,1518.6 1026.7,1518.4" fill="#999" fill-opacity="0.42"/>
<line x1="174.8" y1="157.4" x2="549.0" y2="207.9" stroke="#4464a2" stroke-width="6.8"/>
<line x1="595.9" y1="161.7" x2="969.9" y2="219.8" stroke="#4464a2" stroke-width="6.8"/>
<line x1="1016.2" y1="182.0" x2="1390.1" y2="155.3" stroke="#4464a2" stroke-width="6.8"/>
<line x1="174.7" y1="612.7" x2="548.7" y2="622.5" stroke="#4464a2" stroke-width="6.8"/>
<line x1="595.7" y1="626.6" x2="962.9" y2="578.0" stroke="#4464a2" stroke-width="6.8"/>
<line x1="1027.8" y1="610.1" x2="1390.2" y2="640.0" stroke="#4464a2" stroke-width="6.8"/>
<line x1="253.5" y1="868.6" x2="410.1" y2="864.3" stroke="#4464a2" stroke-width="6.8"/>
<line x1="595.7" y1="897.2" x2="969.2" y2="805.9" stroke="#4464a2" stroke-width="6.8"/>
<line x1="1024.1" y1="805.5" x2="1089.5" y2="918.5" stroke="#4464a2" stroke-width="6.8"/>
<line x1="186.1" y1="1197.6" x2="454.9" y2="1197.8" stroke="#4464a2" stroke-width="6.8"/>
<line x1="595.9" y1="1198.2" x2="956.7" y2="1192.6" stroke="#4464a2" stroke-width="6.8"/>
<line x1="1026.7" y1="1195.4" x2="1272.8" y2="1206.5" stroke="#4464a2" stroke-width="6.8"/>
<line x1="185.7" y1="1496.9" x2="454.9" y2="1553.9" stroke="#4464a2" stroke-width="6.8"/>
<line x1="596.3" y1="1519.2" x2="956.8" y2="1523.1" stroke="#4464a2" stroke-width="6.8"/>
<line x1="1026.7" y1="1507.7" x2="1273.0" y2="1556.0" stroke="#4464a2" stroke-width="6.8"/>
<rect x="153.1" y="91.00" width="5.7" height="298.80" fill="#000"/>
<rect x="153.1" y="399.00" width="5.7" height="298.80" fill="#000"/>
<rect x="153.1" y="707.00" width="5.7" height="298.80" fill="#000"/>
<rect x="153.1" y="1015.00" width="5.7" height="298.80" fill="#000"/>
<rect x="153.1" y="1323.00" width="5.7" height="298.80" fill="#000"/>
<rect x="153.1" y="1613" width="5.7" height="8.80" fill="#000"/>
<rect x="156.30" y="1619.3" width="411.30" height="6.0" fill="#000"/>
<rect x="576.80" y="1619.3" width="411.60" height="6.0" fill="#000"/>
<rect x="997.70" y="1619.3" width="411.30" height="6.0" fill="#000"/>
<rect x="137" y="118.10" width="16.5" height="6.4" fill="#2b2b2b"/>
<text x="121.8" y="135.10" font-size="37.5" text-anchor="end">50</text>
<rect x="137" y="203.40" width="16.5" height="6.4" fill="#2b2b2b"/>
<text x="121.8" y="220.40" font-size="37.5" text-anchor="end">40</text>
<rect x="137" y="288.10" width="16.5" height="6.4" fill="#2b2b2b"/>
<text x="121.8" y="305.10" font-size="37.5" text-anchor="end">30</text>
<rect x="137" y="372.80" width="16.5" height="6.4" fill="#2b2b2b"/>
<text x="121.8" y="389.80" font-size="37.5" text-anchor="end">20</text>
<rect x="137" y="431.70" width="16.5" height="6.4" fill="#2b2b2b"/>
<text x="121.8" y="448.70" font-size="37.5" text-anchor="end">150</text>
<rect x="137" y="496.40" width="16.5" height="6.4" fill="#2b2b2b"/>
<text x="121.8" y="513.40" font-size="37.5" text-anchor="end">100</text>
<rect x="137" y="561.60" width="16.5" height="6.4" fill="#2b2b2b"/>
<text x="121.8" y="578.60" font-size="37.5" text-anchor="end">50</text>
<rect x="137" y="626.60" width="16.5" height="6.4" fill="#2b2b2b"/>
<text x="121.8" y="643.60" font-size="37.5" text-anchor="end">0</text>
<rect x="137" y="722.40" width="16.5" height="6.4" fill="#2b2b2b"/>
<text x="121.8" y="739.40" font-size="37.5" text-anchor="end">300</text>
<rect x="137" y="785.90" width="16.5" height="6.4" fill="#2b2b2b"/>
<text x="121.8" y="802.90" font-size="37.5" text-anchor="end">200</text>
<rect x="137" y="848.80" width="16.5" height="6.4" fill="#2b2b2b"/>
<text x="121.8" y="865.80" font-size="37.5" text-anchor="end">100</text>
<rect x="137" y="912.30" width="16.5" height="6.4" fill="#2b2b2b"/>
<text x="121.8" y="929.30" font-size="37.5" text-anchor="end">0</text>
<rect x="137" y="1031.20" width="16.5" height="6.4" fill="#2b2b2b"/>
<text x="121.8" y="1048.20" font-size="37.5" text-anchor="end">600</text>
<rect x="137" y="1131.80" width="16.5" height="6.4" fill="#2b2b2b"/>
<text x="121.8" y="1148.80" font-size="37.5" text-anchor="end">400</text>
<rect x="137" y="1232.30" width="16.5" height="6.4" fill="#2b2b2b"/>
<text x="121.8" y="1249.30" font-size="37.5" text-anchor="end">200</text>
<rect x="137" y="1375.00" width="16.5" height="6.4" fill="#2b2b2b"/>
<text x="121.8" y="1392.00" font-size="37.5" text-anchor="end">15</text>
<rect x="137" y="1467.90" width="16.5" height="6.4" fill="#2b2b2b"/>
<text x="121.8" y="1484.90" font-size="37.5" text-anchor="end">10</text>
<rect x="137" y="1560.80" width="16.5" height="6.4" fill="#2b2b2b"/>
<text x="121.8" y="1577.80" font-size="37.5" text-anchor="end">5</text>
<rect x="171.30" y="1624.5" width="6.4" height="16.3" fill="#2b2b2b"/>
<text x="174.50" y="1682.6" font-size="37.5" text-anchor="middle">0.0</text>
<rect x="299.20" y="1624.5" width="6.4" height="16.3" fill="#2b2b2b"/>
<text x="302.40" y="1682.6" font-size="37.5" text-anchor="middle">0.2</text>
<rect x="426.80" y="1624.5" width="6.4" height="16.3" fill="#2b2b2b"/>
<text x="430.00" y="1682.6" font-size="37.5" text-anchor="middle">0.4</text>
<rect x="554.70" y="1624.5" width="6.4" height="16.3" fill="#2b2b2b"/>
<text x="538.70" y="1682.6" font-size="37.5" text-anchor="middle">0.6</text>
<rect x="592.10" y="1624.5" width="6.4" height="16.3" fill="#2b2b2b"/>
<text x="600.10" y="1682.6" font-size="37.5" text-anchor="middle">0</text>
<rect x="671.20" y="1624.5" width="6.4" height="16.3" fill="#2b2b2b"/>
<text x="674.40" y="1682.6" font-size="37.5" text-anchor="middle">0.05</text>
<rect x="750.10" y="1624.5" width="6.4" height="16.3" fill="#2b2b2b"/>
<text x="753.30" y="1682.6" font-size="37.5" text-anchor="middle">0.10</text>
<rect x="829.20" y="1624.5" width="6.4" height="16.3" fill="#2b2b2b"/>
<text x="832.40" y="1682.6" font-size="37.5" text-anchor="middle">0.15</text>
<rect x="908.60" y="1624.5" width="6.4" height="16.3" fill="#2b2b2b"/>
<text x="911.80" y="1682.6" font-size="37.5" text-anchor="middle">0.20</text>
<rect x="1012.10" y="1624.5" width="6.4" height="16.3" fill="#2b2b2b"/>
<text x="1015.30" y="1682.6" font-size="37.5" text-anchor="middle">0</text>
<rect x="1089.70" y="1624.5" width="6.4" height="16.3" fill="#2b2b2b"/>
<text x="1092.90" y="1682.6" font-size="37.5" text-anchor="middle">5</text>
<rect x="1167.00" y="1624.5" width="6.4" height="16.3" fill="#2b2b2b"/>
<text x="1170.20" y="1682.6" font-size="37.5" text-anchor="middle">10</text>
<rect x="1244.60" y="1624.5" width="6.4" height="16.3" fill="#2b2b2b"/>
<text x="1247.80" y="1682.6" font-size="37.5" text-anchor="middle">15</text>
<rect x="1322.50" y="1624.5" width="6.4" height="16.3" fill="#2b2b2b"/>
<text x="1325.70" y="1682.6" font-size="37.5" text-anchor="middle">20</text>
<rect x="1400.10" y="1624.5" width="6.4" height="16.3" fill="#2b2b2b"/>
<text x="1403.30" y="1682.6" font-size="37.5" text-anchor="middle">25</text>
<text x="230.5" y="57.6" font-size="31.6"><tspan font-style="italic">TCRA</tspan> T cell fraction</text>
<text x="663" y="57.6" font-size="31.6"><tspan font-style="italic">IGH</tspan> B cell fraction</text>
<text x="1123.5" y="57.3" font-size="31.6">T/B cell ratio</text>
<text transform="translate(1442.00,236.40) rotate(90)" font-size="31.6" text-anchor="middle">Albumin (n=361)</text>
<text transform="translate(1464.40,548.70) rotate(90)" font-size="31.6" text-anchor="middle">C reactive protein</text>
<text transform="translate(1426.80,548.20) rotate(90)" font-size="31.6" text-anchor="middle">(n = 88)</text>
<text transform="translate(1442.00,860.30) rotate(90)" font-size="31.6" text-anchor="middle">Ferritin (n=12)</text>
<text transform="translate(1442.00,1164.30) rotate(90)" font-size="31.6" text-anchor="middle">Platelets (n = 223)</text>
<text transform="translate(1465.30,1467.40) rotate(90)" font-size="31.6" text-anchor="middle">White blood</text>
<text transform="translate(1428.60,1469.20) rotate(90)" font-size="31.6" text-anchor="middle">(n = 222)</text>
<text transform="translate(30.3,856) rotate(-90)" font-size="37.5" text-anchor="middle">Blood count</text>
<text transform="translate(6.8,86) scale(0.835,1)" font-size="78" font-weight="bold" style="stroke:none;fill:#141414">a</text>
</svg></body></html>
